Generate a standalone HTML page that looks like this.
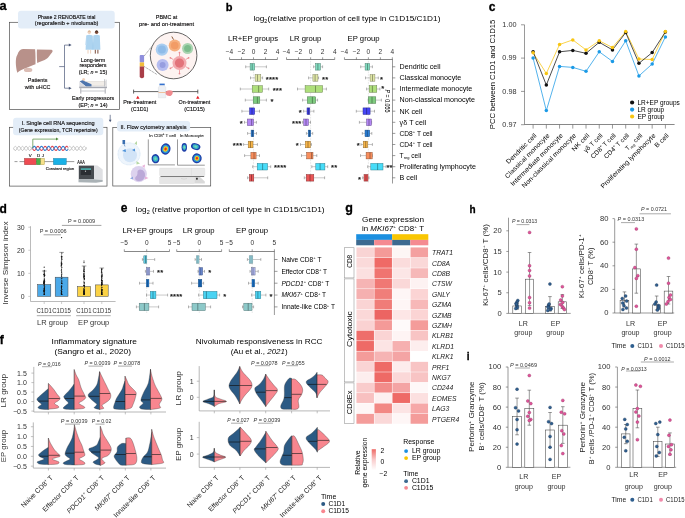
<!DOCTYPE html>
<html><head><meta charset="utf-8"><style>
html,body{margin:0;padding:0;background:#fff;}
svg{display:block;font-family:"Liberation Sans",sans-serif;will-change:transform;}
</style></head><body>
<svg width="685" height="518" viewBox="0 0 685 518">
<rect width="685" height="518" fill="#fff"/>
<text x="-0.40" y="10.30" font-size="12.8" fill="#000" font-weight="bold" stroke="#000" stroke-width="0.3">a</text>
<rect x="9.50" y="22.30" width="109.90" height="87.30" fill="none" stroke="#4d4d4d" stroke-width="0.7"/>
<rect x="18.00" y="10.80" width="96.70" height="17.80" fill="#e3edf8" rx="3"/>
<text x="66.60" y="18.84" font-size="5.4" text-anchor="middle" stroke="#231f20" stroke-width="0.14" textLength="57.80" lengthAdjust="spacingAndGlyphs">Phase 2 RENOBATE trial</text>
<text x="66.60" y="25.34" font-size="5.4" text-anchor="middle" stroke="#231f20" stroke-width="0.14" textLength="63.50" lengthAdjust="spacingAndGlyphs">(regorafenib + nivolumab)</text>
<path d="M17.3,72.7 C15.5,66 15.2,58 17.3,55 C18.5,51 20,49.2 23,48.9 L35.1,49.3 C35.6,54 35.6,60 35.5,64.3 C30,66.5 22,69 17.3,72.7 Z" fill="#b8918a"/>
<path d="M36.9,49.6 L51.5,49.8 C53,50.2 52.8,51.5 52,52.5 C50,55 48.5,57.5 47,58.5 C44,60.5 40,62 37.2,62.9 C36.8,58 36.7,53 36.9,49.6 Z" fill="#b8918a"/>
<ellipse cx="28.1" cy="69.9" rx="4.2" ry="2.2" fill="#dbbcb4"/>
<text x="37.60" y="82.04" font-size="5.4" text-anchor="middle" stroke="#231f20" stroke-width="0.14">Patients</text>
<text x="37.60" y="88.54" font-size="5.4" text-anchor="middle" stroke="#231f20" stroke-width="0.14">with uHCC</text>
<polyline points="59.20,66.60 64.50,66.60" fill="none" stroke="#4a5878" stroke-width="0.7"/>
<polyline points="69.50,45.10 64.50,45.10 64.50,88.20 69.50,88.20" fill="none" stroke="#4a5878" stroke-width="0.7"/>
<path d="M68.8,43.6 L71.6,45.1 L68.8,46.6 Z" fill="#4a5878"/>
<path d="M68.8,86.7 L71.6,88.2 L68.8,89.7 Z" fill="#4a5878"/>
<circle cx="89.30" cy="32.20" r="1.70" fill="#edd0bc"/>
<path d="M87.6,31.6 Q89.3,29.6 91,31.6 Z" fill="#c9a27a"/>
<path d="M86.2,35.4 Q89.3,34.2 92.6,35.4 L93.2,49.8 L85.6,49.8 Z" fill="#add4f0"/>
<path d="M86.2,35.6 L85.2,45 L86.4,45 Z" fill="#c6e0f4"/>
<line x1="88.00" y1="49.80" x2="88.00" y2="53.60" stroke="#edd0bc" stroke-width="1.0"/>
<line x1="90.60" y1="49.80" x2="90.60" y2="53.60" stroke="#edd0bc" stroke-width="1.0"/>
<circle cx="96.60" cy="32.20" r="1.70" fill="#7a4a38"/>
<path d="M94.9,31.6 Q96.6,29.4 98.3,31.6 Z" fill="#2a1a14"/>
<path d="M93.4,35.4 Q96.6,34.2 99.8,35.4 L100.4,49.8 L92.8,49.8 Z" fill="#add4f0"/>
<line x1="95.30" y1="49.80" x2="95.30" y2="53.60" stroke="#7a4a38" stroke-width="1.0"/>
<line x1="97.90" y1="49.80" x2="97.90" y2="53.60" stroke="#7a4a38" stroke-width="1.0"/>
<line x1="92.90" y1="36.00" x2="92.90" y2="49.50" stroke="#8fbde6" stroke-width="0.3"/>
<text x="93.00" y="61.54" font-size="5.4" text-anchor="middle" stroke="#231f20" stroke-width="0.14">Long-term</text>
<text x="93.00" y="67.44" font-size="5.4" text-anchor="middle" stroke="#231f20" stroke-width="0.14">responders</text>
<text x="93.00" y="73.50" font-size="5.4" text-anchor="middle" stroke="#231f20" stroke-width="0.14">(LR; <tspan font-style="italic">n</tspan> = 15)</text>
<rect x="86.00" y="81.20" width="19.50" height="4.60" fill="#f1ede8" stroke="#cfcac4" stroke-width="0.3"/>
<circle cx="83.60" cy="79.60" r="1.50" fill="#efd2be"/>
<path d="M79.6,81.2 L82.5,80.2 L91.5,84.2 L91.5,86.6 L86,86.6 Z" fill="#4d74ad"/>
<path d="M79.4,81.6 L86,86.8 L79.4,86.8 Z" fill="#d9dae0"/>
<line x1="104.60" y1="79.20" x2="104.60" y2="86.50" stroke="#b4b6bc" stroke-width="0.8"/>
<line x1="106.20" y1="79.60" x2="106.20" y2="86.50" stroke="#b4b6bc" stroke-width="0.6"/>
<rect x="79.20" y="86.60" width="27.80" height="1.60" fill="#a8aab2"/>
<line x1="80.80" y1="88.20" x2="80.80" y2="93.60" stroke="#a0a2aa" stroke-width="0.9"/>
<line x1="105.20" y1="88.20" x2="105.20" y2="93.60" stroke="#a0a2aa" stroke-width="0.9"/>
<line x1="80.80" y1="91.00" x2="105.20" y2="91.00" stroke="#b8bac0" stroke-width="0.8"/>
<text x="93.00" y="100.14" font-size="5.4" text-anchor="middle" stroke="#231f20" stroke-width="0.14">Early progressors</text>
<text x="93.00" y="106.50" font-size="5.4" text-anchor="middle" stroke="#231f20" stroke-width="0.14">(EP; <tspan font-style="italic">n</tspan> = 14)</text>
<text x="166.60" y="19.14" font-size="5.4" text-anchor="middle" stroke="#231f20" stroke-width="0.14">PBMC at</text>
<text x="166.60" y="25.54" font-size="5.4" text-anchor="middle" stroke="#231f20" stroke-width="0.14" textLength="55.00" lengthAdjust="spacingAndGlyphs">pre- and on-treatment</text>
<line x1="144.20" y1="56.00" x2="152.50" y2="45.50" stroke="#333" stroke-width="0.5" stroke-dasharray="1.1,0.7"/>
<line x1="144.20" y1="66.50" x2="157.00" y2="74.50" stroke="#333" stroke-width="0.5" stroke-dasharray="1.1,0.7"/>
<circle cx="173.60" cy="55.50" r="23.30" fill="#fdf3f1" stroke="#333" stroke-width="0.75"/>
<circle cx="161.90" cy="49.60" r="6.20" fill="#a9cdf0"/>
<circle cx="161.90" cy="49.60" r="4.00" fill="#8fbbe8"/>
<circle cx="174.70" cy="45.50" r="6.00" fill="#f5b07f"/>
<circle cx="174.70" cy="45.50" r="3.80" fill="#f29c66"/>
<line x1="173.50" y1="39.60" x2="171.80" y2="36.50" stroke="#8a5a3a" stroke-width="1.0"/>
<circle cx="187.60" cy="48.50" r="5.50" fill="#a8d4b0"/>
<circle cx="187.60" cy="48.50" r="3.50" fill="#7cbc8c"/>
<circle cx="162.60" cy="65.10" r="6.00" fill="#b6bdf0"/>
<circle cx="162.60" cy="65.10" r="3.00" fill="#979ee0"/>
<line x1="185.56" y1="66.60" x2="188.59" y2="68.35" stroke="#e88a90" stroke-width="0.8"/>
<circle cx="188.59" cy="68.35" r="0.90" fill="#e88a90"/>
<line x1="179.50" y1="70.10" x2="179.50" y2="73.60" stroke="#e88a90" stroke-width="0.8"/>
<circle cx="179.50" cy="73.60" r="0.90" fill="#e88a90"/>
<line x1="173.44" y1="66.60" x2="170.41" y2="68.35" stroke="#e88a90" stroke-width="0.8"/>
<circle cx="170.41" cy="68.35" r="0.90" fill="#e88a90"/>
<line x1="173.44" y1="59.60" x2="170.41" y2="57.85" stroke="#e88a90" stroke-width="0.8"/>
<circle cx="170.41" cy="57.85" r="0.90" fill="#e88a90"/>
<line x1="179.50" y1="56.10" x2="179.50" y2="52.60" stroke="#e88a90" stroke-width="0.8"/>
<circle cx="179.50" cy="52.60" r="0.90" fill="#e88a90"/>
<line x1="185.56" y1="59.60" x2="188.59" y2="57.85" stroke="#e88a90" stroke-width="0.8"/>
<circle cx="188.59" cy="57.85" r="0.90" fill="#e88a90"/>
<circle cx="179.50" cy="63.10" r="7.00" fill="#f2a9ad"/>
<circle cx="179.50" cy="63.10" r="4.60" fill="#e2737a"/>
<rect x="139.70" y="55.10" width="4.40" height="7.30" fill="#8f8fdc" rx="1"/>
<rect x="139.70" y="62.40" width="4.40" height="4.20" fill="#f1bd3c"/>
<path d="M139.7,66.6 L144.1,66.6 L144.1,77 Q141.9,79.5 139.7,77 Z" fill="#a93e48"/>
<line x1="133.60" y1="91.60" x2="197.80" y2="91.60" stroke="#333" stroke-width="0.75"/>
<line x1="133.60" y1="89.60" x2="133.60" y2="93.60" stroke="#333" stroke-width="0.75"/>
<line x1="197.80" y1="89.60" x2="197.80" y2="93.60" stroke="#333" stroke-width="0.75"/>
<path d="M136.1,98.7 L137.8,95.7 L139.5,98.7 Z" fill="#e41e26"/>
<path d="M196.1,98.7 L197.8,95.7 L199.5,98.7 Z" fill="#e41e26"/>
<rect x="159.50" y="83.60" width="5.20" height="1.80" fill="#2f6fcf"/>
<path d="M159.8,85.4 L164.4,85.4 L165.8,87.5 L165.8,97.8 L158.4,97.8 L158.4,87.5 Z" fill="#eef0f4" stroke="#c8ccd4" stroke-width="0.3"/>
<line x1="158.50" y1="92.50" x2="165.70" y2="92.50" stroke="#f0a060" stroke-width="0.6"/>
<path d="M166,91.5 Q169,89.5 172.5,91 Q173.5,94 170.5,96 Q167,96.5 165.5,94 Z" fill="#f08a8e"/>
<text x="139.70" y="104.04" font-size="5.4" text-anchor="middle" stroke="#231f20" stroke-width="0.14">Pre-treatment</text>
<text x="139.70" y="110.74" font-size="5.4" text-anchor="middle" stroke="#231f20" stroke-width="0.14">(C1D1)</text>
<text x="194.50" y="104.04" font-size="5.4" text-anchor="middle" stroke="#231f20" stroke-width="0.14">On-treatment</text>
<text x="194.50" y="110.74" font-size="5.4" text-anchor="middle" stroke="#231f20" stroke-width="0.14">(C1D15)</text>
<line x1="110.20" y1="114.80" x2="110.20" y2="120.50" stroke="#4a5878" stroke-width="0.7"/>
<path d="M108.8,119.8 L110.2,122.2 L111.6,119.8 Z" fill="#4a5878"/>
<rect x="9.50" y="127.30" width="97.50" height="58.80" fill="none" stroke="#4d4d4d" stroke-width="0.7"/>
<rect x="13.10" y="117.80" width="90.20" height="17.50" fill="#e3edf8" rx="3"/>
<text x="58.20" y="124.94" font-size="5.4" text-anchor="middle" stroke="#231f20" stroke-width="0.14" textLength="73.00" lengthAdjust="spacingAndGlyphs">I. Single cell RNA sequencing</text>
<text x="58.20" y="131.84" font-size="5.4" text-anchor="middle" stroke="#231f20" stroke-width="0.14" textLength="79.00" lengthAdjust="spacingAndGlyphs">(Gene expression, TCR repertoire)</text>
<polyline points="13.50,148.40 14.00,149.29 14.50,150.01 15.00,150.43 15.50,150.47 16.00,150.12 16.50,149.45 17.00,148.58 17.50,147.68 18.00,146.92 18.50,146.43 19.00,146.31 19.50,146.58 20.00,147.20 20.50,148.04 21.00,148.94 21.50,149.75 22.00,150.30 22.50,150.50 23.00,150.30 23.50,149.75 24.00,148.94 24.50,148.04 25.00,147.20 25.50,146.58 26.00,146.31 26.50,146.43 27.00,146.92 27.50,147.68 28.00,148.58 28.50,149.45 29.00,150.12 29.50,150.47 30.00,150.43 30.50,150.01 31.00,149.29 31.50,148.40 32.00,147.51 32.50,146.79" fill="none" stroke="#b5b5b5" stroke-width="0.9"/>
<polyline points="13.50,148.40 14.00,147.51 14.50,146.79 15.00,146.37 15.50,146.33 16.00,146.68 16.50,147.35 17.00,148.22 17.50,149.12 18.00,149.88 18.50,150.37 19.00,150.49 19.50,150.22 20.00,149.60 20.50,148.76 21.00,147.86 21.50,147.05 22.00,146.50 22.50,146.30 23.00,146.50 23.50,147.05 24.00,147.86 24.50,148.76 25.00,149.60 25.50,150.22 26.00,150.49 26.50,150.37 27.00,149.88 27.50,149.12 28.00,148.22 28.50,147.35 29.00,146.68 29.50,146.33 30.00,146.37 30.50,146.79 31.00,147.51 31.50,148.40 32.00,149.29 32.50,150.01" fill="none" stroke="#c8c8c8" stroke-width="0.9"/>
<polyline points="32.50,148.40 33.00,149.29 33.50,150.01 34.00,150.43 34.50,150.47 35.00,150.12 35.50,149.45 36.00,148.58 36.50,147.68 37.00,146.92 37.50,146.43 38.00,146.31 38.50,146.58 39.00,147.20 39.50,148.04 40.00,148.94 40.50,149.75 41.00,150.30 41.50,150.50 42.00,150.30 42.50,149.75 43.00,148.94 43.50,148.04 44.00,147.20 44.50,146.58 45.00,146.31 45.50,146.43 46.00,146.92 46.50,147.68 47.00,148.58 47.50,149.45 48.00,150.12 48.50,150.47 49.00,150.43 49.50,150.01 50.00,149.29 50.50,148.40 51.00,147.51 51.50,146.79 52.00,146.37 52.50,146.33 53.00,146.68 53.50,147.35 54.00,148.22 54.50,149.12 55.00,149.88 55.50,150.37 56.00,150.49 56.50,150.22 57.00,149.60 57.50,148.76 58.00,147.86 58.50,147.05 59.00,146.50 59.50,146.30 60.00,146.50 60.50,147.05 61.00,147.86 61.50,148.76 62.00,149.60 62.50,150.22 63.00,150.49 63.50,150.37 64.00,149.88 64.50,149.12 65.00,148.22 65.50,147.35 66.00,146.68 66.50,146.33 67.00,146.37 67.50,146.79 68.00,147.51" fill="none" stroke="#e0454f" stroke-width="1.05"/>
<polyline points="32.50,148.40 33.00,147.51 33.50,146.79 34.00,146.37 34.50,146.33 35.00,146.68 35.50,147.35 36.00,148.22 36.50,149.12 37.00,149.88 37.50,150.37 38.00,150.49 38.50,150.22 39.00,149.60 39.50,148.76 40.00,147.86 40.50,147.05 41.00,146.50 41.50,146.30 42.00,146.50 42.50,147.05 43.00,147.86 43.50,148.76 44.00,149.60 44.50,150.22 45.00,150.49 45.50,150.37 46.00,149.88 46.50,149.12 47.00,148.22 47.50,147.35 48.00,146.68 48.50,146.33 49.00,146.37 49.50,146.79 50.00,147.51 50.50,148.40 51.00,149.29 51.50,150.01 52.00,150.43 52.50,150.47 53.00,150.12 53.50,149.45 54.00,148.58 54.50,147.68 55.00,146.92 55.50,146.43 56.00,146.31 56.50,146.58 57.00,147.20 57.50,148.04 58.00,148.94 58.50,149.75 59.00,150.30 59.50,150.50 60.00,150.30 60.50,149.75 61.00,148.94 61.50,148.04 62.00,147.20 62.50,146.58 63.00,146.31 63.50,146.43 64.00,146.92 64.50,147.68 65.00,148.58 65.50,149.45 66.00,150.12 66.50,150.47 67.00,150.43 67.50,150.01 68.00,149.29" fill="none" stroke="#2f7fd0" stroke-width="1.05"/>
<polyline points="68.00,148.40 68.50,149.29 69.00,150.01 69.50,150.43 70.00,150.47 70.50,150.12 71.00,149.45 71.50,148.58 72.00,147.68 72.50,146.92 73.00,146.43 73.50,146.31 74.00,146.58 74.50,147.20 75.00,148.04 75.50,148.94 76.00,149.75 76.50,150.30 77.00,150.50 77.50,150.30 78.00,149.75 78.50,148.94 79.00,148.04 79.50,147.20 80.00,146.58 80.50,146.31 81.00,146.43 81.50,146.92 82.00,147.68 82.50,148.58 83.00,149.45 83.50,150.12 84.00,150.47 84.50,150.43 85.00,150.01 85.50,149.29 86.00,148.40 86.50,147.51" fill="none" stroke="#b5b5b5" stroke-width="0.9"/>
<polyline points="68.00,148.40 68.50,147.51 69.00,146.79 69.50,146.37 70.00,146.33 70.50,146.68 71.00,147.35 71.50,148.22 72.00,149.12 72.50,149.88 73.00,150.37 73.50,150.49 74.00,150.22 74.50,149.60 75.00,148.76 75.50,147.86 76.00,147.05 76.50,146.50 77.00,146.30 77.50,146.50 78.00,147.05 78.50,147.86 79.00,148.76 79.50,149.60 80.00,150.22 80.50,150.49 81.00,150.37 81.50,149.88 82.00,149.12 82.50,148.22 83.00,147.35 83.50,146.68 84.00,146.33 84.50,146.37 85.00,146.79 85.50,147.51 86.00,148.40 86.50,149.29" fill="none" stroke="#c8c8c8" stroke-width="0.9"/>
<polyline points="32.80,148.00 32.80,139.10 56.50,139.10" fill="none" stroke="#4f8a3a" stroke-width="0.7"/>
<path d="M56,137.6 L58.6,139.1 L56,140.6 Z" fill="#4f8a3a"/>
<line x1="14.50" y1="161.60" x2="17.50" y2="161.60" stroke="#555" stroke-width="0.6"/>
<line x1="19.50" y1="161.60" x2="74.30" y2="161.60" stroke="#555" stroke-width="0.6"/>
<rect x="24.30" y="158.30" width="12.10" height="6.50" fill="#ee4b52" stroke="#7a3030" stroke-width="0.3"/>
<rect x="36.40" y="158.30" width="4.30" height="6.50" fill="#4bb04a" stroke="#2f6a2f" stroke-width="0.3"/>
<rect x="40.70" y="158.30" width="3.90" height="6.50" fill="#f5e08a" stroke="#8a7a30" stroke-width="0.3"/>
<rect x="53.30" y="158.30" width="13.10" height="6.50" fill="#19b1e6" stroke="#1a6a8a" stroke-width="0.3"/>
<text x="30.20" y="156.88" font-size="4.4" text-anchor="middle" stroke="#231f20" stroke-width="0.14">V</text>
<text x="38.50" y="156.88" font-size="4.4" text-anchor="middle" stroke="#231f20" stroke-width="0.14">D</text>
<text x="42.80" y="156.88" font-size="4.4" text-anchor="middle" stroke="#231f20" stroke-width="0.14">J</text>
<text x="81.10" y="163.56" font-size="4.6" text-anchor="middle" stroke="#231f20" stroke-width="0.14" textLength="7.60" lengthAdjust="spacingAndGlyphs">AAA</text>
<text x="59.90" y="169.68" font-size="4.4" text-anchor="middle" stroke="#231f20" stroke-width="0.14" textLength="28.50" lengthAdjust="spacingAndGlyphs">Constant region</text>
<path d="M94,165.2 L97.5,165.6 L102.7,169.5 L102.7,180 L94,179.3 Z" fill="#dfe0e3"/>
<rect x="78.80" y="165.60" width="15.20" height="13.70" fill="#464a4f"/>
<rect x="80.80" y="168.20" width="10.20" height="1.80" fill="#4aa7a6"/>
<rect x="80.80" y="170.00" width="10.20" height="5.00" fill="#2b2e33"/>
<circle cx="85.50" cy="171.20" r="0.60" fill="#d0d0d0"/>
<path d="M78.5,179.3 L94,179.3 L102.7,180 L102.7,181.8 L96,182.8 L78.5,182.2 Z" fill="#aab2b6"/>
<rect x="112.80" y="127.60" width="97.90" height="58.40" fill="none" stroke="#4d4d4d" stroke-width="0.7"/>
<rect x="117.00" y="121.10" width="73.10" height="10.50" fill="#e3edf8" rx="3"/>
<text x="153.50" y="128.52" font-size="5.6" text-anchor="middle" stroke="#231f20" stroke-width="0.14" textLength="66.00" lengthAdjust="spacingAndGlyphs">II. Flow cytometry analysis</text>
<circle cx="129.00" cy="153.90" r="11.10" fill="#eef5fc" stroke="#b3cfec" stroke-width="0.45" stroke-dasharray="0.8,0.6"/>
<circle cx="130.00" cy="155.30" r="7.00" fill="#d2e4f7"/>
<rect x="122.50" y="140.00" width="2.60" height="4.00" fill="#3a6fb0"/>
<line x1="124.00" y1="144.00" x2="125.00" y2="146.50" stroke="#3a6fb0" stroke-width="0.6"/>
<path d="M122,151 L125.5,149 L126,152 Z" fill="#4a90d8"/>
<path d="M132,150 L135,148.5 L135,151.5 Z" fill="#4a90d8"/>
<path d="M134.5,143.5 L137,141 L137,145 Z" fill="#b6d8a6"/>
<path d="M136.5,161 L140,163.5 L136.5,164.5 Z" fill="#b6d8a6"/>
<circle cx="138.80" cy="174.10" r="8.10" fill="#dcd2ee"/>
<path d="M140,169.5 Q145.5,170 145,176 Q144,181.5 138,181 Q134,180 135.5,177 Q137.5,175.5 137.5,173.5 Q136.8,170 140,169.5 Z" fill="#bba9d8"/>
<path d="M142,166 L145,164.5 L144.5,168 Z" fill="#e8b0d8"/>
<path d="M130,178.5 L133,176.5 L133,179.5 Z" fill="#90a8e0"/>
<path d="M145,176.5 L148.5,178 L145,179.5 Z" fill="#e8b0d8"/>
<text x="162.50" y="137.08" font-size="4.4" text-anchor="middle" fill="#333" stroke="#333" stroke-width="0.14">In CD8<tspan dy="-1.67" font-size="2.73">+</tspan><tspan dy="1.67"> T cell</tspan></text>
<text x="191.70" y="137.08" font-size="4.4" text-anchor="middle" fill="#333" stroke="#333" stroke-width="0.14">In Monocyte</text>
<polyline points="148.30,139.40 148.30,164.90 174.90,164.90" fill="none" stroke="#555" stroke-width="0.6"/>
<polyline points="177.50,139.40 177.50,165.20 204.80,165.20" fill="none" stroke="#555" stroke-width="0.6"/>
<g transform="rotate(15 165.60 149.00)"><ellipse cx="165.6" cy="149" rx="4.9" ry="5.7" fill="#1f3fa8"/><ellipse cx="165.6" cy="149" rx="3.528" ry="4.104" fill="#2a9ad8"/><ellipse cx="165.6" cy="149" rx="2.352" ry="2.7359999999999998" fill="#f0d020"/><ellipse cx="165.6" cy="149" rx="1.225" ry="1.425" fill="#e83020"/></g>
<g transform="rotate(-10 155.50 158.70)"><ellipse cx="155.5" cy="158.7" rx="3.9" ry="4.6" fill="#1f3fa8"/><ellipse cx="155.5" cy="158.7" rx="2.535" ry="2.9899999999999998" fill="#3ab8c8"/><ellipse cx="155.5" cy="158.7" rx="1.17" ry="1.38" fill="#7ad8b0"/></g>
<g transform="rotate(10 196.90 158.30)"><ellipse cx="196.9" cy="158.3" rx="4.8" ry="5.0" fill="#1f3fa8"/><ellipse cx="196.9" cy="158.3" rx="3.456" ry="3.5999999999999996" fill="#2a9ad8"/><ellipse cx="196.9" cy="158.3" rx="2.304" ry="2.4" fill="#f0d020"/><ellipse cx="196.9" cy="158.3" rx="1.2" ry="1.25" fill="#e83020"/></g>
<g transform="rotate(0 184.30 147.30)"><ellipse cx="184.3" cy="147.3" rx="2.7" ry="4.4" fill="#1f3fa8"/><ellipse cx="184.3" cy="147.3" rx="1.7550000000000001" ry="2.8600000000000003" fill="#3ab8c8"/><ellipse cx="184.3" cy="147.3" rx="0.81" ry="1.32" fill="#7ad8b0"/></g>
<g transform="rotate(15 195.70 146.60)"><ellipse cx="195.7" cy="146.6" rx="4.8" ry="3.3" fill="#1f3fa8"/><ellipse cx="195.7" cy="146.6" rx="3.12" ry="2.145" fill="#3ab8c8"/><ellipse cx="195.7" cy="146.6" rx="1.44" ry="0.9899999999999999" fill="#7ad8b0"/></g>
<rect x="159.50" y="168.10" width="45.30" height="7.70" fill="#e9e9e9" stroke="#d6d6d6" stroke-width="0.3" rx="0.8"/>
<line x1="191.50" y1="168.30" x2="191.50" y2="175.60" stroke="#d0d0d0" stroke-width="0.3"/>
<line x1="160.50" y1="176.50" x2="204.20" y2="176.50" stroke="#6a6a6a" stroke-width="0.9"/>
<rect x="159.50" y="177.10" width="35.30" height="6.60" fill="#e6e6e6" stroke="#d6d6d6" stroke-width="0.3"/>
<path d="M194.8,177.1 L200,177.1 L204.8,181.5 L204.8,183.4 L200,183.4 L194.8,183.4 Z" fill="#d9d9d9"/>
<rect x="196.00" y="177.80" width="1.80" height="1.80" fill="#333"/>
<path d="M181,178.5 Q184,179.8 187,178.5" fill="none" stroke="#bbb" stroke-width="0.4"/>
<text x="225.80" y="10.50" font-size="11" fill="#000" font-weight="bold" stroke="#000" stroke-width="0.3">b</text>
<text x="253.40" y="21.00" font-size="7.9" textLength="187.00" lengthAdjust="spacingAndGlyphs">log<tspan dy="1.6" font-size="5.2">2</tspan><tspan dy="-1.6">(relative proportion of cell type in C1D15/C1D1)</tspan></text>
<text x="228.00" y="41.24" font-size="6.5" textLength="50.16" lengthAdjust="spacingAndGlyphs">LR+EP groups</text>
<text x="289.70" y="41.24" font-size="6.5" textLength="31.68" lengthAdjust="spacingAndGlyphs">LR group</text>
<text x="347.60" y="41.24" font-size="6.5" textLength="31.97" lengthAdjust="spacingAndGlyphs">EP group</text>
<line x1="229.50" y1="59.50" x2="277.40" y2="59.50" stroke="#555" stroke-width="0.7"/>
<line x1="229.55" y1="57.30" x2="229.55" y2="59.50" stroke="#555" stroke-width="0.6"/>
<text x="229.55" y="53.60" font-size="6.5" text-anchor="middle" fill="#333">−4</text>
<line x1="241.53" y1="57.30" x2="241.53" y2="59.50" stroke="#555" stroke-width="0.6"/>
<text x="241.53" y="53.60" font-size="6.5" text-anchor="middle" fill="#333">−2</text>
<line x1="253.50" y1="57.30" x2="253.50" y2="59.50" stroke="#555" stroke-width="0.6"/>
<text x="253.50" y="53.60" font-size="6.5" text-anchor="middle" fill="#333">0</text>
<line x1="265.48" y1="57.30" x2="265.48" y2="59.50" stroke="#555" stroke-width="0.6"/>
<text x="265.48" y="53.60" font-size="6.5" text-anchor="middle" fill="#333">2</text>
<line x1="277.45" y1="57.30" x2="277.45" y2="59.50" stroke="#555" stroke-width="0.6"/>
<text x="277.45" y="53.60" font-size="6.5" text-anchor="middle" fill="#333">4</text>
<line x1="253.50" y1="59.50" x2="253.50" y2="183.00" stroke="#aaa" stroke-width="0.45" stroke-dasharray="0.6,1"/>
<line x1="286.50" y1="59.50" x2="334.70" y2="59.50" stroke="#555" stroke-width="0.7"/>
<line x1="286.50" y1="57.30" x2="286.50" y2="59.50" stroke="#555" stroke-width="0.6"/>
<text x="286.50" y="53.60" font-size="6.5" text-anchor="middle" fill="#333">−4</text>
<line x1="298.55" y1="57.30" x2="298.55" y2="59.50" stroke="#555" stroke-width="0.6"/>
<text x="298.55" y="53.60" font-size="6.5" text-anchor="middle" fill="#333">−2</text>
<line x1="310.60" y1="57.30" x2="310.60" y2="59.50" stroke="#555" stroke-width="0.6"/>
<text x="310.60" y="53.60" font-size="6.5" text-anchor="middle" fill="#333">0</text>
<line x1="322.65" y1="57.30" x2="322.65" y2="59.50" stroke="#555" stroke-width="0.6"/>
<text x="322.65" y="53.60" font-size="6.5" text-anchor="middle" fill="#333">2</text>
<line x1="334.70" y1="57.30" x2="334.70" y2="59.50" stroke="#555" stroke-width="0.6"/>
<text x="334.70" y="53.60" font-size="6.5" text-anchor="middle" fill="#333">4</text>
<line x1="310.60" y1="59.50" x2="310.60" y2="183.00" stroke="#aaa" stroke-width="0.45" stroke-dasharray="0.6,1"/>
<line x1="344.50" y1="59.50" x2="392.40" y2="59.50" stroke="#555" stroke-width="0.7"/>
<line x1="344.45" y1="57.30" x2="344.45" y2="59.50" stroke="#555" stroke-width="0.6"/>
<text x="344.45" y="53.60" font-size="6.5" text-anchor="middle" fill="#333">−4</text>
<line x1="356.42" y1="57.30" x2="356.42" y2="59.50" stroke="#555" stroke-width="0.6"/>
<text x="356.42" y="53.60" font-size="6.5" text-anchor="middle" fill="#333">−2</text>
<line x1="368.40" y1="57.30" x2="368.40" y2="59.50" stroke="#555" stroke-width="0.6"/>
<text x="368.40" y="53.60" font-size="6.5" text-anchor="middle" fill="#333">0</text>
<line x1="380.38" y1="57.30" x2="380.38" y2="59.50" stroke="#555" stroke-width="0.6"/>
<text x="380.38" y="53.60" font-size="6.5" text-anchor="middle" fill="#333">2</text>
<line x1="392.35" y1="57.30" x2="392.35" y2="59.50" stroke="#555" stroke-width="0.6"/>
<text x="392.35" y="53.60" font-size="6.5" text-anchor="middle" fill="#333">4</text>
<line x1="368.40" y1="59.50" x2="368.40" y2="183.00" stroke="#aaa" stroke-width="0.45" stroke-dasharray="0.6,1"/>
<line x1="245.70" y1="66.80" x2="250.10" y2="66.80" stroke="#9a9a9a" stroke-width="0.55"/>
<line x1="254.70" y1="66.80" x2="266.40" y2="66.80" stroke="#9a9a9a" stroke-width="0.55"/>
<line x1="245.70" y1="65.40" x2="245.70" y2="68.20" stroke="#777" stroke-width="0.55"/>
<line x1="266.40" y1="65.40" x2="266.40" y2="68.20" stroke="#777" stroke-width="0.55"/>
<rect x="250.10" y="63.50" width="4.60" height="6.60" fill="#80dcc0" stroke="#467969" stroke-width="0.45"/>
<line x1="252.20" y1="63.50" x2="252.20" y2="70.10" stroke="#33584c" stroke-width="0.55"/>
<line x1="313.60" y1="66.80" x2="315.50" y2="66.80" stroke="#9a9a9a" stroke-width="0.55"/>
<line x1="320.50" y1="66.80" x2="322.60" y2="66.80" stroke="#9a9a9a" stroke-width="0.55"/>
<line x1="313.60" y1="65.40" x2="313.60" y2="68.20" stroke="#777" stroke-width="0.55"/>
<line x1="322.60" y1="65.40" x2="322.60" y2="68.20" stroke="#777" stroke-width="0.55"/>
<rect x="315.50" y="63.50" width="5.00" height="6.60" fill="#80dcc0" stroke="#467969" stroke-width="0.45"/>
<line x1="317.90" y1="63.50" x2="317.90" y2="70.10" stroke="#33584c" stroke-width="0.55"/>
<line x1="360.70" y1="66.80" x2="365.10" y2="66.80" stroke="#9a9a9a" stroke-width="0.55"/>
<line x1="369.70" y1="66.80" x2="372.40" y2="66.80" stroke="#9a9a9a" stroke-width="0.55"/>
<line x1="360.70" y1="65.40" x2="360.70" y2="68.20" stroke="#777" stroke-width="0.55"/>
<line x1="372.40" y1="65.40" x2="372.40" y2="68.20" stroke="#777" stroke-width="0.55"/>
<rect x="365.10" y="63.50" width="4.60" height="6.60" fill="#80dcc0" stroke="#467969" stroke-width="0.45"/>
<line x1="367.50" y1="63.50" x2="367.50" y2="70.10" stroke="#33584c" stroke-width="0.55"/>
<line x1="250.50" y1="77.90" x2="255.10" y2="77.90" stroke="#9a9a9a" stroke-width="0.55"/>
<line x1="260.80" y1="77.90" x2="262.60" y2="77.90" stroke="#9a9a9a" stroke-width="0.55"/>
<line x1="250.50" y1="76.50" x2="250.50" y2="79.30" stroke="#777" stroke-width="0.55"/>
<line x1="262.60" y1="76.50" x2="262.60" y2="79.30" stroke="#777" stroke-width="0.55"/>
<rect x="255.10" y="74.60" width="5.70" height="6.60" fill="#dfe6a6" stroke="#7a7e5b" stroke-width="0.45"/>
<line x1="257.50" y1="74.60" x2="257.50" y2="81.20" stroke="#595c42" stroke-width="0.55"/>
<line x1="308.60" y1="77.90" x2="312.90" y2="77.90" stroke="#9a9a9a" stroke-width="0.55"/>
<line x1="317.90" y1="77.90" x2="318.60" y2="77.90" stroke="#9a9a9a" stroke-width="0.55"/>
<line x1="308.60" y1="76.50" x2="308.60" y2="79.30" stroke="#777" stroke-width="0.55"/>
<line x1="318.60" y1="76.50" x2="318.60" y2="79.30" stroke="#777" stroke-width="0.55"/>
<rect x="312.90" y="74.60" width="5.00" height="6.60" fill="#dfe6a6" stroke="#7a7e5b" stroke-width="0.45"/>
<line x1="315.10" y1="74.60" x2="315.10" y2="81.20" stroke="#595c42" stroke-width="0.55"/>
<line x1="365.50" y1="77.90" x2="370.10" y2="77.90" stroke="#9a9a9a" stroke-width="0.55"/>
<line x1="374.90" y1="77.90" x2="378.30" y2="77.90" stroke="#9a9a9a" stroke-width="0.55"/>
<line x1="365.50" y1="76.50" x2="365.50" y2="79.30" stroke="#777" stroke-width="0.55"/>
<line x1="378.30" y1="76.50" x2="378.30" y2="79.30" stroke="#777" stroke-width="0.55"/>
<rect x="370.10" y="74.60" width="4.80" height="6.60" fill="#dfe6a6" stroke="#7a7e5b" stroke-width="0.45"/>
<line x1="372.50" y1="74.60" x2="372.50" y2="81.20" stroke="#595c42" stroke-width="0.55"/>
<line x1="240.30" y1="89.00" x2="252.20" y2="89.00" stroke="#9a9a9a" stroke-width="0.55"/>
<line x1="262.40" y1="89.00" x2="268.70" y2="89.00" stroke="#9a9a9a" stroke-width="0.55"/>
<line x1="240.30" y1="87.60" x2="240.30" y2="90.40" stroke="#777" stroke-width="0.55"/>
<line x1="268.70" y1="87.60" x2="268.70" y2="90.40" stroke="#777" stroke-width="0.55"/>
<rect x="252.20" y="85.70" width="10.20" height="6.60" fill="#aedf7b" stroke="#5f7a43" stroke-width="0.45"/>
<line x1="258.60" y1="85.70" x2="258.60" y2="92.30" stroke="#455931" stroke-width="0.55"/>
<line x1="297.50" y1="89.00" x2="305.10" y2="89.00" stroke="#9a9a9a" stroke-width="0.55"/>
<line x1="322.60" y1="89.00" x2="326.40" y2="89.00" stroke="#9a9a9a" stroke-width="0.55"/>
<line x1="297.50" y1="87.60" x2="297.50" y2="90.40" stroke="#777" stroke-width="0.55"/>
<line x1="326.40" y1="87.60" x2="326.40" y2="90.40" stroke="#777" stroke-width="0.55"/>
<rect x="305.10" y="85.70" width="17.50" height="6.60" fill="#aedf7b" stroke="#5f7a43" stroke-width="0.45"/>
<line x1="315.50" y1="85.70" x2="315.50" y2="92.30" stroke="#455931" stroke-width="0.55"/>
<line x1="366.60" y1="89.00" x2="369.20" y2="89.00" stroke="#9a9a9a" stroke-width="0.55"/>
<line x1="376.80" y1="89.00" x2="379.90" y2="89.00" stroke="#9a9a9a" stroke-width="0.55"/>
<line x1="366.60" y1="87.60" x2="366.60" y2="90.40" stroke="#777" stroke-width="0.55"/>
<line x1="379.90" y1="87.60" x2="379.90" y2="90.40" stroke="#777" stroke-width="0.55"/>
<rect x="369.20" y="85.70" width="7.60" height="6.60" fill="#aedf7b" stroke="#5f7a43" stroke-width="0.45"/>
<line x1="372.40" y1="85.70" x2="372.40" y2="92.30" stroke="#455931" stroke-width="0.55"/>
<line x1="245.30" y1="100.10" x2="253.20" y2="100.10" stroke="#9a9a9a" stroke-width="0.55"/>
<line x1="259.80" y1="100.10" x2="266.40" y2="100.10" stroke="#9a9a9a" stroke-width="0.55"/>
<line x1="245.30" y1="98.70" x2="245.30" y2="101.50" stroke="#777" stroke-width="0.55"/>
<line x1="266.40" y1="98.70" x2="266.40" y2="101.50" stroke="#777" stroke-width="0.55"/>
<rect x="253.20" y="96.80" width="6.60" height="6.60" fill="#7ecb7f" stroke="#456f45" stroke-width="0.45"/>
<line x1="257.40" y1="96.80" x2="257.40" y2="103.40" stroke="#325132" stroke-width="0.55"/>
<line x1="302.60" y1="100.10" x2="307.30" y2="100.10" stroke="#9a9a9a" stroke-width="0.55"/>
<line x1="315.70" y1="100.10" x2="317.60" y2="100.10" stroke="#9a9a9a" stroke-width="0.55"/>
<line x1="302.60" y1="98.70" x2="302.60" y2="101.50" stroke="#777" stroke-width="0.55"/>
<line x1="317.60" y1="98.70" x2="317.60" y2="101.50" stroke="#777" stroke-width="0.55"/>
<rect x="307.30" y="96.80" width="8.40" height="6.60" fill="#7ecb7f" stroke="#456f45" stroke-width="0.45"/>
<line x1="312.40" y1="96.80" x2="312.40" y2="103.40" stroke="#325132" stroke-width="0.55"/>
<line x1="368.20" y1="100.10" x2="368.30" y2="100.10" stroke="#9a9a9a" stroke-width="0.55"/>
<line x1="375.80" y1="100.10" x2="381.40" y2="100.10" stroke="#9a9a9a" stroke-width="0.55"/>
<line x1="368.20" y1="98.70" x2="368.20" y2="101.50" stroke="#777" stroke-width="0.55"/>
<line x1="381.40" y1="98.70" x2="381.40" y2="101.50" stroke="#777" stroke-width="0.55"/>
<rect x="368.30" y="96.80" width="7.50" height="6.60" fill="#7ecb7f" stroke="#456f45" stroke-width="0.45"/>
<line x1="372.00" y1="96.80" x2="372.00" y2="103.40" stroke="#325132" stroke-width="0.55"/>
<line x1="241.90" y1="111.20" x2="249.50" y2="111.20" stroke="#9a9a9a" stroke-width="0.55"/>
<line x1="254.70" y1="111.20" x2="259.50" y2="111.20" stroke="#9a9a9a" stroke-width="0.55"/>
<line x1="241.90" y1="109.80" x2="241.90" y2="112.60" stroke="#777" stroke-width="0.55"/>
<line x1="259.50" y1="109.80" x2="259.50" y2="112.60" stroke="#777" stroke-width="0.55"/>
<rect x="249.50" y="107.90" width="5.20" height="6.60" fill="#4646f5" stroke="#262686" stroke-width="0.45"/>
<line x1="252.00" y1="107.90" x2="252.00" y2="114.50" stroke="#1c1c62" stroke-width="0.55"/>
<line x1="303.60" y1="111.20" x2="307.00" y2="111.20" stroke="#9a9a9a" stroke-width="0.55"/>
<line x1="309.80" y1="111.20" x2="313.90" y2="111.20" stroke="#9a9a9a" stroke-width="0.55"/>
<line x1="303.60" y1="109.80" x2="303.60" y2="112.60" stroke="#777" stroke-width="0.55"/>
<line x1="313.90" y1="109.80" x2="313.90" y2="112.60" stroke="#777" stroke-width="0.55"/>
<rect x="307.00" y="107.90" width="2.80" height="6.60" fill="#4646f5" stroke="#262686" stroke-width="0.45"/>
<line x1="308.40" y1="107.90" x2="308.40" y2="114.50" stroke="#1c1c62" stroke-width="0.55"/>
<line x1="356.30" y1="111.20" x2="363.00" y2="111.20" stroke="#9a9a9a" stroke-width="0.55"/>
<line x1="370.10" y1="111.20" x2="374.50" y2="111.20" stroke="#9a9a9a" stroke-width="0.55"/>
<line x1="356.30" y1="109.80" x2="356.30" y2="112.60" stroke="#777" stroke-width="0.55"/>
<line x1="374.50" y1="109.80" x2="374.50" y2="112.60" stroke="#777" stroke-width="0.55"/>
<rect x="363.00" y="107.90" width="7.10" height="6.60" fill="#4646f5" stroke="#262686" stroke-width="0.45"/>
<line x1="366.60" y1="107.90" x2="366.60" y2="114.50" stroke="#1c1c62" stroke-width="0.55"/>
<line x1="244.50" y1="122.30" x2="247.30" y2="122.30" stroke="#9a9a9a" stroke-width="0.55"/>
<line x1="253.60" y1="122.30" x2="256.40" y2="122.30" stroke="#9a9a9a" stroke-width="0.55"/>
<line x1="244.50" y1="120.90" x2="244.50" y2="123.70" stroke="#777" stroke-width="0.55"/>
<line x1="256.40" y1="120.90" x2="256.40" y2="123.70" stroke="#777" stroke-width="0.55"/>
<rect x="247.30" y="119.00" width="6.30" height="6.60" fill="#b487f5" stroke="#634a86" stroke-width="0.45"/>
<line x1="251.60" y1="119.00" x2="251.60" y2="125.60" stroke="#483662" stroke-width="0.55"/>
<line x1="302.60" y1="122.30" x2="303.70" y2="122.30" stroke="#9a9a9a" stroke-width="0.55"/>
<line x1="308.50" y1="122.30" x2="310.50" y2="122.30" stroke="#9a9a9a" stroke-width="0.55"/>
<line x1="302.60" y1="120.90" x2="302.60" y2="123.70" stroke="#777" stroke-width="0.55"/>
<line x1="310.50" y1="120.90" x2="310.50" y2="123.70" stroke="#777" stroke-width="0.55"/>
<rect x="303.70" y="119.00" width="4.80" height="6.60" fill="#b487f5" stroke="#634a86" stroke-width="0.45"/>
<line x1="306.00" y1="119.00" x2="306.00" y2="125.60" stroke="#483662" stroke-width="0.55"/>
<line x1="359.40" y1="122.30" x2="366.50" y2="122.30" stroke="#9a9a9a" stroke-width="0.55"/>
<line x1="371.50" y1="122.30" x2="371.60" y2="122.30" stroke="#9a9a9a" stroke-width="0.55"/>
<line x1="359.40" y1="120.90" x2="359.40" y2="123.70" stroke="#777" stroke-width="0.55"/>
<line x1="371.60" y1="120.90" x2="371.60" y2="123.70" stroke="#777" stroke-width="0.55"/>
<rect x="366.50" y="119.00" width="5.00" height="6.60" fill="#b487f5" stroke="#634a86" stroke-width="0.45"/>
<line x1="369.00" y1="119.00" x2="369.00" y2="125.60" stroke="#483662" stroke-width="0.55"/>
<line x1="247.60" y1="133.40" x2="251.10" y2="133.40" stroke="#9a9a9a" stroke-width="0.55"/>
<line x1="253.80" y1="133.40" x2="256.50" y2="133.40" stroke="#9a9a9a" stroke-width="0.55"/>
<line x1="247.60" y1="132.00" x2="247.60" y2="134.80" stroke="#777" stroke-width="0.55"/>
<line x1="256.50" y1="132.00" x2="256.50" y2="134.80" stroke="#777" stroke-width="0.55"/>
<rect x="251.10" y="130.10" width="2.70" height="6.60" fill="#2c80d9" stroke="#184677" stroke-width="0.45"/>
<line x1="252.50" y1="130.10" x2="252.50" y2="136.70" stroke="#113356" stroke-width="0.55"/>
<line x1="306.40" y1="133.40" x2="308.20" y2="133.40" stroke="#9a9a9a" stroke-width="0.55"/>
<line x1="310.70" y1="133.40" x2="312.70" y2="133.40" stroke="#9a9a9a" stroke-width="0.55"/>
<line x1="306.40" y1="132.00" x2="306.40" y2="134.80" stroke="#777" stroke-width="0.55"/>
<line x1="312.70" y1="132.00" x2="312.70" y2="134.80" stroke="#777" stroke-width="0.55"/>
<rect x="308.20" y="130.10" width="2.50" height="6.60" fill="#2c80d9" stroke="#184677" stroke-width="0.45"/>
<line x1="309.50" y1="130.10" x2="309.50" y2="136.70" stroke="#113356" stroke-width="0.55"/>
<line x1="362.30" y1="133.40" x2="365.00" y2="133.40" stroke="#9a9a9a" stroke-width="0.55"/>
<line x1="369.70" y1="133.40" x2="371.80" y2="133.40" stroke="#9a9a9a" stroke-width="0.55"/>
<line x1="362.30" y1="132.00" x2="362.30" y2="134.80" stroke="#777" stroke-width="0.55"/>
<line x1="371.80" y1="132.00" x2="371.80" y2="134.80" stroke="#777" stroke-width="0.55"/>
<rect x="365.00" y="130.10" width="4.70" height="6.60" fill="#2c80d9" stroke="#184677" stroke-width="0.45"/>
<line x1="367.30" y1="130.10" x2="367.30" y2="136.70" stroke="#113356" stroke-width="0.55"/>
<line x1="243.60" y1="144.50" x2="248.20" y2="144.50" stroke="#9a9a9a" stroke-width="0.55"/>
<line x1="253.00" y1="144.50" x2="257.40" y2="144.50" stroke="#9a9a9a" stroke-width="0.55"/>
<line x1="243.60" y1="143.10" x2="243.60" y2="145.90" stroke="#777" stroke-width="0.55"/>
<line x1="257.40" y1="143.10" x2="257.40" y2="145.90" stroke="#777" stroke-width="0.55"/>
<rect x="248.20" y="141.20" width="4.80" height="6.60" fill="#f8b64a" stroke="#886428" stroke-width="0.45"/>
<line x1="250.50" y1="141.20" x2="250.50" y2="147.80" stroke="#63481d" stroke-width="0.55"/>
<line x1="300.50" y1="144.50" x2="305.30" y2="144.50" stroke="#9a9a9a" stroke-width="0.55"/>
<line x1="310.40" y1="144.50" x2="311.40" y2="144.50" stroke="#9a9a9a" stroke-width="0.55"/>
<line x1="300.50" y1="143.10" x2="300.50" y2="145.90" stroke="#777" stroke-width="0.55"/>
<line x1="311.40" y1="143.10" x2="311.40" y2="145.90" stroke="#777" stroke-width="0.55"/>
<rect x="305.30" y="141.20" width="5.10" height="6.60" fill="#f8b64a" stroke="#886428" stroke-width="0.45"/>
<line x1="308.00" y1="141.20" x2="308.00" y2="147.80" stroke="#63481d" stroke-width="0.55"/>
<line x1="361.00" y1="144.50" x2="363.20" y2="144.50" stroke="#9a9a9a" stroke-width="0.55"/>
<line x1="367.70" y1="144.50" x2="372.40" y2="144.50" stroke="#9a9a9a" stroke-width="0.55"/>
<line x1="361.00" y1="143.10" x2="361.00" y2="145.90" stroke="#777" stroke-width="0.55"/>
<line x1="372.40" y1="143.10" x2="372.40" y2="145.90" stroke="#777" stroke-width="0.55"/>
<rect x="363.20" y="141.20" width="4.50" height="6.60" fill="#f8b64a" stroke="#886428" stroke-width="0.45"/>
<line x1="365.70" y1="141.20" x2="365.70" y2="147.80" stroke="#63481d" stroke-width="0.55"/>
<line x1="244.60" y1="155.60" x2="250.90" y2="155.60" stroke="#9a9a9a" stroke-width="0.55"/>
<line x1="256.10" y1="155.60" x2="259.50" y2="155.60" stroke="#9a9a9a" stroke-width="0.55"/>
<line x1="244.60" y1="154.20" x2="244.60" y2="157.00" stroke="#777" stroke-width="0.55"/>
<line x1="259.50" y1="154.20" x2="259.50" y2="157.00" stroke="#777" stroke-width="0.55"/>
<rect x="250.90" y="152.30" width="5.20" height="6.60" fill="#f88e5d" stroke="#884e33" stroke-width="0.45"/>
<line x1="254.00" y1="152.30" x2="254.00" y2="158.90" stroke="#633825" stroke-width="0.55"/>
<line x1="301.50" y1="155.60" x2="306.60" y2="155.60" stroke="#9a9a9a" stroke-width="0.55"/>
<line x1="313.00" y1="155.60" x2="316.80" y2="155.60" stroke="#9a9a9a" stroke-width="0.55"/>
<line x1="301.50" y1="154.20" x2="301.50" y2="157.00" stroke="#777" stroke-width="0.55"/>
<line x1="316.80" y1="154.20" x2="316.80" y2="157.00" stroke="#777" stroke-width="0.55"/>
<rect x="306.60" y="152.30" width="6.40" height="6.60" fill="#f88e5d" stroke="#884e33" stroke-width="0.45"/>
<line x1="311.60" y1="152.30" x2="311.60" y2="158.90" stroke="#633825" stroke-width="0.55"/>
<line x1="360.50" y1="155.60" x2="366.10" y2="155.60" stroke="#9a9a9a" stroke-width="0.55"/>
<line x1="372.20" y1="155.60" x2="372.30" y2="155.60" stroke="#9a9a9a" stroke-width="0.55"/>
<line x1="360.50" y1="154.20" x2="360.50" y2="157.00" stroke="#777" stroke-width="0.55"/>
<line x1="372.30" y1="154.20" x2="372.30" y2="157.00" stroke="#777" stroke-width="0.55"/>
<rect x="366.10" y="152.30" width="6.10" height="6.60" fill="#f88e5d" stroke="#884e33" stroke-width="0.45"/>
<line x1="370.00" y1="152.30" x2="370.00" y2="158.90" stroke="#633825" stroke-width="0.55"/>
<line x1="252.70" y1="166.70" x2="257.20" y2="166.70" stroke="#9a9a9a" stroke-width="0.55"/>
<line x1="267.60" y1="166.70" x2="270.70" y2="166.70" stroke="#9a9a9a" stroke-width="0.55"/>
<line x1="252.70" y1="165.30" x2="252.70" y2="168.10" stroke="#777" stroke-width="0.55"/>
<line x1="270.70" y1="165.30" x2="270.70" y2="168.10" stroke="#777" stroke-width="0.55"/>
<rect x="257.20" y="163.40" width="10.40" height="6.60" fill="#47dcf8" stroke="#277988" stroke-width="0.45"/>
<line x1="262.60" y1="163.40" x2="262.60" y2="170.00" stroke="#1c5863" stroke-width="0.55"/>
<line x1="311.80" y1="166.70" x2="315.80" y2="166.70" stroke="#9a9a9a" stroke-width="0.55"/>
<line x1="324.90" y1="166.70" x2="327.70" y2="166.70" stroke="#9a9a9a" stroke-width="0.55"/>
<line x1="311.80" y1="165.30" x2="311.80" y2="168.10" stroke="#777" stroke-width="0.55"/>
<line x1="327.70" y1="165.30" x2="327.70" y2="168.10" stroke="#777" stroke-width="0.55"/>
<rect x="315.80" y="163.40" width="9.10" height="6.60" fill="#47dcf8" stroke="#277988" stroke-width="0.45"/>
<line x1="320.10" y1="163.40" x2="320.10" y2="170.00" stroke="#1c5863" stroke-width="0.55"/>
<line x1="367.70" y1="166.70" x2="370.80" y2="166.70" stroke="#9a9a9a" stroke-width="0.55"/>
<line x1="383.00" y1="166.70" x2="386.00" y2="166.70" stroke="#9a9a9a" stroke-width="0.55"/>
<line x1="367.70" y1="165.30" x2="367.70" y2="168.10" stroke="#777" stroke-width="0.55"/>
<line x1="386.00" y1="165.30" x2="386.00" y2="168.10" stroke="#777" stroke-width="0.55"/>
<rect x="370.80" y="163.40" width="12.20" height="6.60" fill="#47dcf8" stroke="#277988" stroke-width="0.45"/>
<line x1="377.60" y1="163.40" x2="377.60" y2="170.00" stroke="#1c5863" stroke-width="0.55"/>
<line x1="247.60" y1="177.80" x2="249.30" y2="177.80" stroke="#9a9a9a" stroke-width="0.55"/>
<line x1="253.80" y1="177.80" x2="267.70" y2="177.80" stroke="#9a9a9a" stroke-width="0.55"/>
<line x1="247.60" y1="176.40" x2="247.60" y2="179.20" stroke="#777" stroke-width="0.55"/>
<line x1="267.70" y1="176.40" x2="267.70" y2="179.20" stroke="#777" stroke-width="0.55"/>
<rect x="249.30" y="174.50" width="4.50" height="6.60" fill="#ea5556" stroke="#802e2f" stroke-width="0.45"/>
<line x1="251.50" y1="174.50" x2="251.50" y2="181.10" stroke="#5d2222" stroke-width="0.55"/>
<line x1="304.30" y1="177.80" x2="306.20" y2="177.80" stroke="#9a9a9a" stroke-width="0.55"/>
<line x1="313.80" y1="177.80" x2="324.60" y2="177.80" stroke="#9a9a9a" stroke-width="0.55"/>
<line x1="304.30" y1="176.40" x2="304.30" y2="179.20" stroke="#777" stroke-width="0.55"/>
<line x1="324.60" y1="176.40" x2="324.60" y2="179.20" stroke="#777" stroke-width="0.55"/>
<rect x="306.20" y="174.50" width="7.60" height="6.60" fill="#ea5556" stroke="#802e2f" stroke-width="0.45"/>
<line x1="310.00" y1="174.50" x2="310.00" y2="181.10" stroke="#5d2222" stroke-width="0.55"/>
<line x1="362.70" y1="177.80" x2="364.00" y2="177.80" stroke="#9a9a9a" stroke-width="0.55"/>
<line x1="368.00" y1="177.80" x2="369.00" y2="177.80" stroke="#9a9a9a" stroke-width="0.55"/>
<line x1="362.70" y1="176.40" x2="362.70" y2="179.20" stroke="#777" stroke-width="0.55"/>
<line x1="369.00" y1="176.40" x2="369.00" y2="179.20" stroke="#777" stroke-width="0.55"/>
<rect x="364.00" y="174.50" width="4.00" height="6.60" fill="#ea5556" stroke="#802e2f" stroke-width="0.45"/>
<line x1="366.00" y1="174.50" x2="366.00" y2="181.10" stroke="#5d2222" stroke-width="0.55"/>
<text x="265.80" y="81.60" font-size="7.6" fill="#1a1a1a" letter-spacing="0.2" stroke="#1a1a1a" stroke-width="0.25">****</text>
<text x="272.70" y="92.70" font-size="7.6" fill="#1a1a1a" letter-spacing="0.2" stroke="#1a1a1a" stroke-width="0.25">***</text>
<text x="270.40" y="103.80" font-size="7.6" fill="#1a1a1a" letter-spacing="0.2" stroke="#1a1a1a" stroke-width="0.25">*</text>
<text x="243.00" y="126.00" font-size="7.6" text-anchor="end" fill="#1a1a1a" letter-spacing="0.2" stroke="#1a1a1a" stroke-width="0.25">*</text>
<text x="242.30" y="148.20" font-size="7.6" text-anchor="end" fill="#1a1a1a" letter-spacing="0.2" stroke="#1a1a1a" stroke-width="0.25">***</text>
<text x="273.90" y="170.40" font-size="7.6" fill="#1a1a1a" letter-spacing="0.2" stroke="#1a1a1a" stroke-width="0.25">****</text>
<text x="322.00" y="81.60" font-size="7.6" fill="#1a1a1a" letter-spacing="0.2" stroke="#1a1a1a" stroke-width="0.25">**</text>
<text x="302.00" y="114.90" font-size="7.6" text-anchor="end" fill="#1a1a1a" letter-spacing="0.2" stroke="#1a1a1a" stroke-width="0.25">*</text>
<text x="301.50" y="126.00" font-size="7.6" text-anchor="end" fill="#1a1a1a" letter-spacing="0.2" stroke="#1a1a1a" stroke-width="0.25">***</text>
<text x="298.80" y="148.20" font-size="7.6" text-anchor="end" fill="#1a1a1a" letter-spacing="0.2" stroke="#1a1a1a" stroke-width="0.25">*</text>
<text x="331.00" y="170.40" font-size="7.6" fill="#1a1a1a" letter-spacing="0.2" stroke="#1a1a1a" stroke-width="0.25">**</text>
<text x="380.00" y="81.60" font-size="7.6" fill="#1a1a1a" letter-spacing="0.2" stroke="#1a1a1a" stroke-width="0.25">*</text>
<text x="381.20" y="91.20" font-size="7.6" fill="#1a1a1a" letter-spacing="0.2" stroke="#1a1a1a" stroke-width="0.25">*</text>
<text x="359.80" y="148.20" font-size="7.6" text-anchor="end" fill="#1a1a1a" letter-spacing="0.2" stroke="#1a1a1a" stroke-width="0.25">*</text>
<text x="386.40" y="170.40" font-size="7.6" fill="#1a1a1a" letter-spacing="0.2" stroke="#1a1a1a" stroke-width="0.25">**</text>
<text x="361.20" y="181.50" font-size="7.6" text-anchor="end" fill="#1a1a1a" letter-spacing="0.2" stroke="#1a1a1a" stroke-width="0.25">*</text>
<text x="385.00" y="89.60" font-size="6.3" textLength="22.90" lengthAdjust="spacingAndGlyphs" transform="rotate(90 385.00 89.60)"><tspan font-style="italic">P</tspan> = 0.055</text>
<line x1="392.50" y1="59.10" x2="392.50" y2="183.50" stroke="#555" stroke-width="0.6"/>
<line x1="392.50" y1="66.80" x2="395.30" y2="66.80" stroke="#555" stroke-width="0.6"/>
<text x="399.60" y="69.18" font-size="6.6" textLength="40.93" lengthAdjust="spacingAndGlyphs">Dendritic cell</text>
<line x1="392.50" y1="77.90" x2="395.30" y2="77.90" stroke="#555" stroke-width="0.6"/>
<text x="399.60" y="80.28" font-size="6.6" textLength="61.59" lengthAdjust="spacingAndGlyphs">Classical monocyte</text>
<line x1="392.50" y1="89.00" x2="395.30" y2="89.00" stroke="#555" stroke-width="0.6"/>
<text x="399.60" y="91.38" font-size="6.6" textLength="72.73" lengthAdjust="spacingAndGlyphs">Intermediate monocyte</text>
<line x1="392.50" y1="100.10" x2="395.30" y2="100.10" stroke="#555" stroke-width="0.6"/>
<text x="399.60" y="102.48" font-size="6.6" textLength="75.50" lengthAdjust="spacingAndGlyphs">Non-classical monocyte</text>
<line x1="392.50" y1="111.20" x2="395.30" y2="111.20" stroke="#555" stroke-width="0.6"/>
<text x="399.60" y="113.58" font-size="6.6" textLength="22.65" lengthAdjust="spacingAndGlyphs">NK cell</text>
<line x1="392.50" y1="122.30" x2="395.30" y2="122.30" stroke="#555" stroke-width="0.6"/>
<text x="399.60" y="124.68" font-size="6.6" textLength="26.50" lengthAdjust="spacingAndGlyphs">γδ T cell</text>
<line x1="392.50" y1="133.40" x2="395.30" y2="133.40" stroke="#555" stroke-width="0.6"/>
<line x1="392.50" y1="144.50" x2="395.30" y2="144.50" stroke="#555" stroke-width="0.6"/>
<line x1="392.50" y1="155.60" x2="395.30" y2="155.60" stroke="#555" stroke-width="0.6"/>
<line x1="392.50" y1="166.70" x2="395.30" y2="166.70" stroke="#555" stroke-width="0.6"/>
<text x="399.60" y="169.08" font-size="6.6" textLength="76.30" lengthAdjust="spacingAndGlyphs">Proliferating lymphocyte</text>
<line x1="392.50" y1="177.80" x2="395.30" y2="177.80" stroke="#555" stroke-width="0.6"/>
<text x="399.60" y="180.18" font-size="6.6" textLength="17.48" lengthAdjust="spacingAndGlyphs">B cell</text>
<text x="399.60" y="135.78" font-size="6.6">CD8<tspan dy="-2.51" font-size="4.09">+</tspan><tspan dy="2.51"> T cell</tspan></text>
<text x="399.60" y="146.88" font-size="6.6">CD4<tspan dy="-2.51" font-size="4.09">+</tspan><tspan dy="2.51"> T cell</tspan></text>
<text x="399.60" y="157.98" font-size="6.6">T<tspan dy="1.5" font-size="4">reg</tspan><tspan dy="-1.5"> cell</tspan></text>
<text x="488.80" y="10.50" font-size="12" fill="#000" font-weight="bold" stroke="#000" stroke-width="0.3">c</text>
<line x1="524.50" y1="24.80" x2="524.50" y2="124.70" stroke="#555" stroke-width="0.6"/>
<line x1="524.50" y1="124.50" x2="674.60" y2="124.50" stroke="#555" stroke-width="0.7"/>
<line x1="521.00" y1="24.80" x2="524.50" y2="24.80" stroke="#555" stroke-width="0.6"/>
<text x="516.60" y="27.18" font-size="6.6" text-anchor="end" fill="#333" textLength="14.21" lengthAdjust="spacingAndGlyphs">1.00</text>
<line x1="521.00" y1="58.10" x2="524.50" y2="58.10" stroke="#555" stroke-width="0.6"/>
<text x="516.60" y="60.48" font-size="6.6" text-anchor="end" fill="#333" textLength="14.21" lengthAdjust="spacingAndGlyphs">0.99</text>
<line x1="521.00" y1="91.40" x2="524.50" y2="91.40" stroke="#555" stroke-width="0.6"/>
<text x="516.60" y="93.78" font-size="6.6" text-anchor="end" fill="#333" textLength="14.21" lengthAdjust="spacingAndGlyphs">0.98</text>
<line x1="521.00" y1="124.70" x2="524.50" y2="124.70" stroke="#555" stroke-width="0.6"/>
<text x="516.60" y="127.08" font-size="6.6" text-anchor="end" fill="#333" textLength="14.21" lengthAdjust="spacingAndGlyphs">0.97</text>
<line x1="533.10" y1="124.70" x2="533.10" y2="128.60" stroke="#555" stroke-width="0.6"/>
<line x1="546.33" y1="124.70" x2="546.33" y2="128.60" stroke="#555" stroke-width="0.6"/>
<line x1="559.56" y1="124.70" x2="559.56" y2="128.60" stroke="#555" stroke-width="0.6"/>
<line x1="572.79" y1="124.70" x2="572.79" y2="128.60" stroke="#555" stroke-width="0.6"/>
<line x1="586.02" y1="124.70" x2="586.02" y2="128.60" stroke="#555" stroke-width="0.6"/>
<line x1="599.25" y1="124.70" x2="599.25" y2="128.60" stroke="#555" stroke-width="0.6"/>
<line x1="612.48" y1="124.70" x2="612.48" y2="128.60" stroke="#555" stroke-width="0.6"/>
<line x1="625.71" y1="124.70" x2="625.71" y2="128.60" stroke="#555" stroke-width="0.6"/>
<line x1="638.94" y1="124.70" x2="638.94" y2="128.60" stroke="#555" stroke-width="0.6"/>
<line x1="652.17" y1="124.70" x2="652.17" y2="128.60" stroke="#555" stroke-width="0.6"/>
<line x1="665.40" y1="124.70" x2="665.40" y2="128.60" stroke="#555" stroke-width="0.6"/>
<polyline points="533.10,58.10 546.33,110.60 559.56,66.40 572.79,67.40 586.02,71.30 599.25,51.80 612.48,61.40 625.71,40.80 638.94,75.90 652.17,64.00 665.40,36.90" fill="none" stroke="#1b9ae6" stroke-width="0.75"/>
<polyline points="533.10,52.80 546.33,73.40 559.56,44.50 572.79,39.90 586.02,49.90 599.25,40.80 612.48,47.50 625.71,31.60 638.94,59.00 652.17,59.50 665.40,31.40" fill="none" stroke="#f8c511" stroke-width="0.75"/>
<polyline points="533.10,51.80 546.33,85.00 559.56,51.80 572.79,50.40 586.02,53.30 599.25,42.30 612.48,49.90 625.71,32.60 638.94,63.30 652.17,52.60 665.40,31.90" fill="none" stroke="#111" stroke-width="0.75"/>
<circle cx="533.10" cy="58.10" r="1.75" fill="#1b9ae6"/>
<circle cx="546.33" cy="110.60" r="1.75" fill="#1b9ae6"/>
<circle cx="559.56" cy="66.40" r="1.75" fill="#1b9ae6"/>
<circle cx="572.79" cy="67.40" r="1.75" fill="#1b9ae6"/>
<circle cx="586.02" cy="71.30" r="1.75" fill="#1b9ae6"/>
<circle cx="599.25" cy="51.80" r="1.75" fill="#1b9ae6"/>
<circle cx="612.48" cy="61.40" r="1.75" fill="#1b9ae6"/>
<circle cx="625.71" cy="40.80" r="1.75" fill="#1b9ae6"/>
<circle cx="638.94" cy="75.90" r="1.75" fill="#1b9ae6"/>
<circle cx="652.17" cy="64.00" r="1.75" fill="#1b9ae6"/>
<circle cx="665.40" cy="36.90" r="1.75" fill="#1b9ae6"/>
<circle cx="533.10" cy="51.80" r="1.75" fill="#111"/>
<circle cx="546.33" cy="85.00" r="1.75" fill="#111"/>
<circle cx="559.56" cy="51.80" r="1.75" fill="#111"/>
<circle cx="572.79" cy="50.40" r="1.75" fill="#111"/>
<circle cx="586.02" cy="53.30" r="1.75" fill="#111"/>
<circle cx="599.25" cy="42.30" r="1.75" fill="#111"/>
<circle cx="612.48" cy="49.90" r="1.75" fill="#111"/>
<circle cx="625.71" cy="32.60" r="1.75" fill="#111"/>
<circle cx="638.94" cy="63.30" r="1.75" fill="#111"/>
<circle cx="652.17" cy="52.60" r="1.75" fill="#111"/>
<circle cx="665.40" cy="31.90" r="1.75" fill="#111"/>
<circle cx="533.10" cy="52.80" r="1.75" fill="#f8c511"/>
<circle cx="546.33" cy="73.40" r="1.75" fill="#f8c511"/>
<circle cx="559.56" cy="44.50" r="1.75" fill="#f8c511"/>
<circle cx="572.79" cy="39.90" r="1.75" fill="#f8c511"/>
<circle cx="586.02" cy="49.90" r="1.75" fill="#f8c511"/>
<circle cx="599.25" cy="40.80" r="1.75" fill="#f8c511"/>
<circle cx="612.48" cy="47.50" r="1.75" fill="#f8c511"/>
<circle cx="625.71" cy="31.60" r="1.75" fill="#f8c511"/>
<circle cx="638.94" cy="59.00" r="1.75" fill="#f8c511"/>
<circle cx="652.17" cy="59.50" r="1.75" fill="#f8c511"/>
<circle cx="665.40" cy="31.40" r="1.75" fill="#f8c511"/>
<text x="495.40" y="74.50" font-size="7.8" text-anchor="middle" textLength="109.30" lengthAdjust="spacingAndGlyphs" transform="rotate(-90 495.40 74.50)">PCC between C1D1 and C1D15</text>
<circle cx="632.10" cy="102.50" r="2.10" fill="#111"/>
<text x="637.50" y="104.84" font-size="6.5" textLength="42.34" lengthAdjust="spacingAndGlyphs">LR+EP groups</text>
<circle cx="632.10" cy="109.60" r="2.10" fill="#1b9ae6"/>
<text x="637.50" y="111.94" font-size="6.5" textLength="26.74" lengthAdjust="spacingAndGlyphs">LR group</text>
<circle cx="632.10" cy="116.50" r="2.10" fill="#f8c511"/>
<text x="637.50" y="118.84" font-size="6.5" textLength="26.99" lengthAdjust="spacingAndGlyphs">EP group</text>
<text x="536.90" y="136.00" font-size="6.5" text-anchor="end" textLength="40.07" lengthAdjust="spacingAndGlyphs" transform="rotate(-45 536.90 136.00)">Dendritic cell</text>
<text x="550.13" y="136.00" font-size="6.5" text-anchor="end" textLength="60.30" lengthAdjust="spacingAndGlyphs" transform="rotate(-45 550.13 136.00)">Classical monocyte</text>
<text x="563.36" y="136.00" font-size="6.5" text-anchor="end" textLength="71.20" lengthAdjust="spacingAndGlyphs" transform="rotate(-45 563.36 136.00)">Intermediate monocyte</text>
<text x="576.59" y="136.00" font-size="6.5" text-anchor="end" textLength="73.92" lengthAdjust="spacingAndGlyphs" transform="rotate(-45 576.59 136.00)">Non-classical monocyte</text>
<text x="589.82" y="136.00" font-size="6.5" text-anchor="end" textLength="22.17" lengthAdjust="spacingAndGlyphs" transform="rotate(-45 589.82 136.00)">NK cell</text>
<text x="655.97" y="136.00" font-size="6.5" text-anchor="end" textLength="74.70" lengthAdjust="spacingAndGlyphs" transform="rotate(-45 655.97 136.00)">Proliferating lymphocyte</text>
<text x="669.20" y="136.00" font-size="6.5" text-anchor="end" textLength="17.12" lengthAdjust="spacingAndGlyphs" transform="rotate(-45 669.20 136.00)">B cell</text>
<text x="603.05" y="136.00" font-size="6.5" text-anchor="end" transform="rotate(-45 603.05 136.00)">γδ T cell</text>
<text x="616.28" y="136.00" font-size="6.5" text-anchor="end" transform="rotate(-45 616.28 136.00)">CD8<tspan dy="-2.47" font-size="4.03">+</tspan><tspan dy="2.47"> T cell</tspan></text>
<text x="629.51" y="136.00" font-size="6.5" text-anchor="end" transform="rotate(-45 629.51 136.00)">CD4<tspan dy="-2.47" font-size="4.03">+</tspan><tspan dy="2.47"> T cell</tspan></text>
<text x="642.74" y="136.00" font-size="6.5" text-anchor="end" transform="rotate(-45 642.74 136.00)">T<tspan dy="1.4" font-size="3.8">reg</tspan><tspan dy="-1.4"> cell</tspan></text>
<text x="-0.50" y="212.60" font-size="12" fill="#000" font-weight="bold" stroke="#000" stroke-width="0.3">d</text>
<line x1="30.50" y1="226.20" x2="30.50" y2="301.50" stroke="#aaaaaa" stroke-width="0.8"/>
<line x1="30.50" y1="301.50" x2="115.60" y2="301.50" stroke="#aaaaaa" stroke-width="0.8"/>
<line x1="28.30" y1="296.40" x2="30.70" y2="296.40" stroke="#aaaaaa" stroke-width="0.6"/>
<text x="24.60" y="298.78" font-size="6.6" text-anchor="end" fill="#333" textLength="3.84" lengthAdjust="spacingAndGlyphs">0</text>
<line x1="28.30" y1="273.33" x2="30.70" y2="273.33" stroke="#aaaaaa" stroke-width="0.6"/>
<text x="24.60" y="275.71" font-size="6.6" text-anchor="end" fill="#333" textLength="7.68" lengthAdjust="spacingAndGlyphs">10</text>
<line x1="28.30" y1="250.26" x2="30.70" y2="250.26" stroke="#aaaaaa" stroke-width="0.6"/>
<text x="24.60" y="252.64" font-size="6.6" text-anchor="end" fill="#333" textLength="7.68" lengthAdjust="spacingAndGlyphs">20</text>
<line x1="28.30" y1="227.19" x2="30.70" y2="227.19" stroke="#aaaaaa" stroke-width="0.6"/>
<text x="24.60" y="229.57" font-size="6.6" text-anchor="end" fill="#333" textLength="7.68" lengthAdjust="spacingAndGlyphs">30</text>
<text x="8.20" y="263.00" font-size="7.3" text-anchor="middle" fill="#333" textLength="83.00" lengthAdjust="spacingAndGlyphs" transform="rotate(-90 8.20 263.00)">Inverse Simpson index</text>
<rect x="37.70" y="284.50" width="13.10" height="11.90" fill="#4ba9e9" stroke="#444" stroke-width="0.5"/>
<line x1="44.25" y1="284.50" x2="44.25" y2="271.00" stroke="#444" stroke-width="0.5"/>
<line x1="41.95" y1="271.00" x2="46.55" y2="271.00" stroke="#444" stroke-width="0.5"/>
<circle cx="44.29" cy="291.86" r="0.50" fill="#111"/>
<circle cx="44.34" cy="289.35" r="0.50" fill="#111"/>
<circle cx="43.86" cy="282.82" r="0.50" fill="#111"/>
<circle cx="44.55" cy="294.28" r="0.50" fill="#111"/>
<circle cx="44.01" cy="291.50" r="0.50" fill="#111"/>
<circle cx="44.22" cy="270.17" r="0.50" fill="#111"/>
<circle cx="44.23" cy="276.04" r="0.50" fill="#111"/>
<circle cx="43.94" cy="282.43" r="0.50" fill="#111"/>
<circle cx="44.58" cy="282.55" r="0.50" fill="#111"/>
<circle cx="44.47" cy="285.68" r="0.50" fill="#111"/>
<circle cx="43.86" cy="281.45" r="0.50" fill="#111"/>
<circle cx="44.33" cy="278.69" r="0.50" fill="#111"/>
<circle cx="43.83" cy="290.74" r="0.50" fill="#111"/>
<circle cx="44.23" cy="275.01" r="0.50" fill="#111"/>
<circle cx="44.59" cy="279.97" r="0.50" fill="#111"/>
<circle cx="44.63" cy="280.12" r="0.50" fill="#111"/>
<circle cx="44.52" cy="288.80" r="0.50" fill="#111"/>
<circle cx="44.64" cy="287.66" r="0.50" fill="#111"/>
<circle cx="43.89" cy="274.54" r="0.50" fill="#111"/>
<circle cx="44.00" cy="293.30" r="0.50" fill="#111"/>
<circle cx="44.19" cy="271.33" r="0.50" fill="#111"/>
<circle cx="44.07" cy="282.80" r="0.50" fill="#111"/>
<circle cx="44.15" cy="286.10" r="0.50" fill="#111"/>
<circle cx="44.33" cy="289.75" r="0.50" fill="#111"/>
<circle cx="44.61" cy="284.02" r="0.50" fill="#111"/>
<circle cx="44.64" cy="281.13" r="0.50" fill="#111"/>
<circle cx="44.69" cy="275.34" r="0.50" fill="#111"/>
<circle cx="43.95" cy="281.46" r="0.50" fill="#111"/>
<circle cx="44.67" cy="275.19" r="0.50" fill="#111"/>
<circle cx="44.31" cy="273.60" r="0.50" fill="#111"/>
<circle cx="43.99" cy="280.13" r="0.50" fill="#111"/>
<circle cx="44.32" cy="276.21" r="0.50" fill="#111"/>
<circle cx="43.86" cy="291.04" r="0.50" fill="#111"/>
<circle cx="44.69" cy="275.42" r="0.50" fill="#111"/>
<circle cx="44.52" cy="293.80" r="0.50" fill="#111"/>
<circle cx="43.94" cy="288.45" r="0.50" fill="#111"/>
<circle cx="44.49" cy="290.87" r="0.50" fill="#111"/>
<circle cx="43.84" cy="274.75" r="0.50" fill="#111"/>
<circle cx="43.84" cy="283.15" r="0.50" fill="#111"/>
<circle cx="44.10" cy="279.98" r="0.50" fill="#111"/>
<circle cx="44.68" cy="274.46" r="0.50" fill="#111"/>
<circle cx="44.70" cy="286.14" r="0.50" fill="#111"/>
<circle cx="43.87" cy="290.58" r="0.50" fill="#111"/>
<circle cx="43.83" cy="283.58" r="0.50" fill="#111"/>
<circle cx="44.17" cy="292.49" r="0.50" fill="#111"/>
<circle cx="43.94" cy="283.27" r="0.50" fill="#111"/>
<circle cx="44.58" cy="294.15" r="0.50" fill="#111"/>
<circle cx="44.66" cy="290.50" r="0.50" fill="#111"/>
<circle cx="44.14" cy="273.89" r="0.50" fill="#111"/>
<circle cx="44.27" cy="287.28" r="0.50" fill="#111"/>
<circle cx="44.34" cy="282.29" r="0.50" fill="#111"/>
<circle cx="44.36" cy="284.71" r="0.50" fill="#111"/>
<circle cx="44.26" cy="272.27" r="0.50" fill="#111"/>
<circle cx="44.45" cy="287.97" r="0.50" fill="#111"/>
<circle cx="44.07" cy="291.86" r="0.50" fill="#111"/>
<circle cx="44.27" cy="270.86" r="0.50" fill="#111"/>
<circle cx="43.81" cy="285.01" r="0.50" fill="#111"/>
<circle cx="44.32" cy="288.35" r="0.50" fill="#111"/>
<circle cx="44.35" cy="294.25" r="0.50" fill="#111"/>
<circle cx="43.85" cy="282.63" r="0.50" fill="#111"/>
<circle cx="44.22" cy="282.78" r="0.50" fill="#111"/>
<circle cx="44.12" cy="281.21" r="0.50" fill="#111"/>
<circle cx="44.46" cy="280.35" r="0.50" fill="#111"/>
<circle cx="43.85" cy="294.25" r="0.50" fill="#111"/>
<circle cx="44.67" cy="281.31" r="0.50" fill="#111"/>
<circle cx="44.21" cy="291.64" r="0.50" fill="#111"/>
<circle cx="44.09" cy="283.78" r="0.50" fill="#111"/>
<circle cx="44.08" cy="289.48" r="0.50" fill="#111"/>
<circle cx="44.34" cy="289.37" r="0.50" fill="#111"/>
<circle cx="44.14" cy="290.75" r="0.50" fill="#111"/>
<circle cx="44.25" cy="294.40" r="0.60" fill="#111"/>
<rect x="55.20" y="277.20" width="12.80" height="19.20" fill="#4ba9e9" stroke="#444" stroke-width="0.5"/>
<line x1="61.60" y1="277.20" x2="61.60" y2="252.40" stroke="#444" stroke-width="0.5"/>
<line x1="59.30" y1="252.40" x2="63.90" y2="252.40" stroke="#444" stroke-width="0.5"/>
<circle cx="61.17" cy="265.93" r="0.50" fill="#111"/>
<circle cx="61.81" cy="276.88" r="0.50" fill="#111"/>
<circle cx="61.35" cy="287.71" r="0.50" fill="#111"/>
<circle cx="61.36" cy="264.05" r="0.50" fill="#111"/>
<circle cx="61.54" cy="291.36" r="0.50" fill="#111"/>
<circle cx="61.24" cy="270.16" r="0.50" fill="#111"/>
<circle cx="61.45" cy="287.30" r="0.50" fill="#111"/>
<circle cx="61.54" cy="262.24" r="0.50" fill="#111"/>
<circle cx="61.30" cy="260.88" r="0.50" fill="#111"/>
<circle cx="61.74" cy="286.78" r="0.50" fill="#111"/>
<circle cx="61.56" cy="259.02" r="0.50" fill="#111"/>
<circle cx="61.26" cy="290.36" r="0.50" fill="#111"/>
<circle cx="61.32" cy="278.78" r="0.50" fill="#111"/>
<circle cx="61.90" cy="263.87" r="0.50" fill="#111"/>
<circle cx="61.40" cy="291.45" r="0.50" fill="#111"/>
<circle cx="61.73" cy="263.85" r="0.50" fill="#111"/>
<circle cx="61.46" cy="263.90" r="0.50" fill="#111"/>
<circle cx="61.41" cy="292.67" r="0.50" fill="#111"/>
<circle cx="61.39" cy="264.65" r="0.50" fill="#111"/>
<circle cx="61.53" cy="286.44" r="0.50" fill="#111"/>
<circle cx="61.52" cy="283.60" r="0.50" fill="#111"/>
<circle cx="61.29" cy="256.72" r="0.50" fill="#111"/>
<circle cx="62.00" cy="294.29" r="0.50" fill="#111"/>
<circle cx="62.04" cy="259.34" r="0.50" fill="#111"/>
<circle cx="62.01" cy="283.00" r="0.50" fill="#111"/>
<circle cx="61.35" cy="256.28" r="0.50" fill="#111"/>
<circle cx="61.90" cy="267.48" r="0.50" fill="#111"/>
<circle cx="61.62" cy="272.07" r="0.50" fill="#111"/>
<circle cx="61.46" cy="288.41" r="0.50" fill="#111"/>
<circle cx="61.21" cy="290.29" r="0.50" fill="#111"/>
<circle cx="61.41" cy="275.92" r="0.50" fill="#111"/>
<circle cx="61.19" cy="263.67" r="0.50" fill="#111"/>
<circle cx="61.77" cy="257.82" r="0.50" fill="#111"/>
<circle cx="61.96" cy="256.51" r="0.50" fill="#111"/>
<circle cx="61.67" cy="258.08" r="0.50" fill="#111"/>
<circle cx="61.82" cy="294.26" r="0.50" fill="#111"/>
<circle cx="61.42" cy="291.74" r="0.50" fill="#111"/>
<circle cx="61.62" cy="272.08" r="0.50" fill="#111"/>
<circle cx="62.00" cy="283.85" r="0.50" fill="#111"/>
<circle cx="61.46" cy="274.74" r="0.50" fill="#111"/>
<circle cx="61.93" cy="289.56" r="0.50" fill="#111"/>
<circle cx="61.85" cy="281.17" r="0.50" fill="#111"/>
<circle cx="61.33" cy="286.23" r="0.50" fill="#111"/>
<circle cx="61.89" cy="278.55" r="0.50" fill="#111"/>
<circle cx="61.86" cy="291.75" r="0.50" fill="#111"/>
<circle cx="61.88" cy="256.64" r="0.50" fill="#111"/>
<circle cx="61.16" cy="262.86" r="0.50" fill="#111"/>
<circle cx="61.93" cy="273.89" r="0.50" fill="#111"/>
<circle cx="61.39" cy="293.95" r="0.50" fill="#111"/>
<circle cx="61.62" cy="289.06" r="0.50" fill="#111"/>
<circle cx="61.58" cy="283.47" r="0.50" fill="#111"/>
<circle cx="61.15" cy="265.68" r="0.50" fill="#111"/>
<circle cx="61.26" cy="293.89" r="0.50" fill="#111"/>
<circle cx="61.21" cy="292.77" r="0.50" fill="#111"/>
<circle cx="61.92" cy="253.12" r="0.50" fill="#111"/>
<circle cx="61.60" cy="293.45" r="0.50" fill="#111"/>
<circle cx="61.43" cy="287.51" r="0.50" fill="#111"/>
<circle cx="61.73" cy="286.26" r="0.50" fill="#111"/>
<circle cx="61.47" cy="276.03" r="0.50" fill="#111"/>
<circle cx="61.45" cy="291.26" r="0.50" fill="#111"/>
<circle cx="61.65" cy="292.78" r="0.50" fill="#111"/>
<circle cx="61.49" cy="269.16" r="0.50" fill="#111"/>
<circle cx="61.31" cy="293.55" r="0.50" fill="#111"/>
<circle cx="61.69" cy="285.43" r="0.50" fill="#111"/>
<circle cx="61.49" cy="265.32" r="0.50" fill="#111"/>
<circle cx="61.71" cy="264.21" r="0.50" fill="#111"/>
<circle cx="61.49" cy="283.12" r="0.50" fill="#111"/>
<circle cx="61.78" cy="280.32" r="0.50" fill="#111"/>
<circle cx="61.77" cy="283.57" r="0.50" fill="#111"/>
<circle cx="61.37" cy="281.88" r="0.50" fill="#111"/>
<circle cx="61.60" cy="294.40" r="0.60" fill="#111"/>
<rect x="77.60" y="286.60" width="12.90" height="9.80" fill="#fbd245" stroke="#444" stroke-width="0.5"/>
<line x1="84.05" y1="286.60" x2="84.05" y2="266.00" stroke="#444" stroke-width="0.5"/>
<line x1="81.75" y1="266.00" x2="86.35" y2="266.00" stroke="#444" stroke-width="0.5"/>
<circle cx="84.23" cy="283.50" r="0.50" fill="#111"/>
<circle cx="83.98" cy="293.87" r="0.50" fill="#111"/>
<circle cx="84.39" cy="286.82" r="0.50" fill="#111"/>
<circle cx="83.94" cy="267.92" r="0.50" fill="#111"/>
<circle cx="84.31" cy="269.64" r="0.50" fill="#111"/>
<circle cx="84.02" cy="290.86" r="0.50" fill="#111"/>
<circle cx="84.33" cy="293.27" r="0.50" fill="#111"/>
<circle cx="84.40" cy="279.15" r="0.50" fill="#111"/>
<circle cx="84.20" cy="274.11" r="0.50" fill="#111"/>
<circle cx="84.11" cy="276.45" r="0.50" fill="#111"/>
<circle cx="84.13" cy="293.53" r="0.50" fill="#111"/>
<circle cx="83.73" cy="294.29" r="0.50" fill="#111"/>
<circle cx="83.64" cy="274.84" r="0.50" fill="#111"/>
<circle cx="83.69" cy="293.66" r="0.50" fill="#111"/>
<circle cx="83.76" cy="270.40" r="0.50" fill="#111"/>
<circle cx="84.36" cy="294.23" r="0.50" fill="#111"/>
<circle cx="84.36" cy="293.30" r="0.50" fill="#111"/>
<circle cx="84.35" cy="278.73" r="0.50" fill="#111"/>
<circle cx="84.12" cy="267.20" r="0.50" fill="#111"/>
<circle cx="83.63" cy="273.85" r="0.50" fill="#111"/>
<circle cx="84.06" cy="275.12" r="0.50" fill="#111"/>
<circle cx="83.70" cy="277.16" r="0.50" fill="#111"/>
<circle cx="84.44" cy="275.85" r="0.50" fill="#111"/>
<circle cx="83.89" cy="293.97" r="0.50" fill="#111"/>
<circle cx="84.35" cy="282.58" r="0.50" fill="#111"/>
<circle cx="83.76" cy="291.27" r="0.50" fill="#111"/>
<circle cx="84.15" cy="291.11" r="0.50" fill="#111"/>
<circle cx="83.95" cy="275.67" r="0.50" fill="#111"/>
<circle cx="83.96" cy="288.39" r="0.50" fill="#111"/>
<circle cx="83.98" cy="288.83" r="0.50" fill="#111"/>
<circle cx="84.05" cy="293.75" r="0.50" fill="#111"/>
<circle cx="83.97" cy="266.25" r="0.50" fill="#111"/>
<circle cx="83.74" cy="275.91" r="0.50" fill="#111"/>
<circle cx="84.28" cy="278.09" r="0.50" fill="#111"/>
<circle cx="84.07" cy="278.72" r="0.50" fill="#111"/>
<circle cx="84.18" cy="285.13" r="0.50" fill="#111"/>
<circle cx="83.73" cy="269.66" r="0.50" fill="#111"/>
<circle cx="84.27" cy="293.61" r="0.50" fill="#111"/>
<circle cx="84.07" cy="268.81" r="0.50" fill="#111"/>
<circle cx="84.25" cy="286.33" r="0.50" fill="#111"/>
<circle cx="83.84" cy="292.31" r="0.50" fill="#111"/>
<circle cx="84.13" cy="292.08" r="0.50" fill="#111"/>
<circle cx="83.81" cy="289.69" r="0.50" fill="#111"/>
<circle cx="84.46" cy="278.08" r="0.50" fill="#111"/>
<circle cx="84.23" cy="290.13" r="0.50" fill="#111"/>
<circle cx="84.37" cy="287.18" r="0.50" fill="#111"/>
<circle cx="83.84" cy="281.89" r="0.50" fill="#111"/>
<circle cx="83.62" cy="291.75" r="0.50" fill="#111"/>
<circle cx="83.94" cy="285.26" r="0.50" fill="#111"/>
<circle cx="83.92" cy="292.54" r="0.50" fill="#111"/>
<circle cx="84.30" cy="289.52" r="0.50" fill="#111"/>
<circle cx="84.49" cy="292.99" r="0.50" fill="#111"/>
<circle cx="84.14" cy="285.26" r="0.50" fill="#111"/>
<circle cx="84.35" cy="285.60" r="0.50" fill="#111"/>
<circle cx="84.10" cy="272.90" r="0.50" fill="#111"/>
<circle cx="84.25" cy="285.21" r="0.50" fill="#111"/>
<circle cx="83.96" cy="271.43" r="0.50" fill="#111"/>
<circle cx="84.46" cy="276.45" r="0.50" fill="#111"/>
<circle cx="83.81" cy="285.62" r="0.50" fill="#111"/>
<circle cx="84.25" cy="291.42" r="0.50" fill="#111"/>
<circle cx="84.46" cy="278.66" r="0.50" fill="#111"/>
<circle cx="83.82" cy="271.54" r="0.50" fill="#111"/>
<circle cx="83.83" cy="292.25" r="0.50" fill="#111"/>
<circle cx="84.23" cy="292.29" r="0.50" fill="#111"/>
<circle cx="84.41" cy="271.34" r="0.50" fill="#111"/>
<circle cx="84.38" cy="291.01" r="0.50" fill="#111"/>
<circle cx="83.98" cy="289.72" r="0.50" fill="#111"/>
<circle cx="83.68" cy="276.63" r="0.50" fill="#111"/>
<circle cx="84.35" cy="293.65" r="0.50" fill="#111"/>
<circle cx="83.92" cy="290.22" r="0.50" fill="#111"/>
<circle cx="84.05" cy="294.40" r="0.60" fill="#111"/>
<rect x="95.40" y="284.90" width="12.80" height="11.50" fill="#fbd245" stroke="#444" stroke-width="0.5"/>
<line x1="101.80" y1="284.90" x2="101.80" y2="268.00" stroke="#444" stroke-width="0.5"/>
<line x1="99.50" y1="268.00" x2="104.10" y2="268.00" stroke="#444" stroke-width="0.5"/>
<circle cx="101.96" cy="282.87" r="0.50" fill="#111"/>
<circle cx="101.65" cy="294.29" r="0.50" fill="#111"/>
<circle cx="101.79" cy="287.06" r="0.50" fill="#111"/>
<circle cx="101.88" cy="292.05" r="0.50" fill="#111"/>
<circle cx="101.70" cy="268.92" r="0.50" fill="#111"/>
<circle cx="101.46" cy="283.98" r="0.50" fill="#111"/>
<circle cx="101.95" cy="290.84" r="0.50" fill="#111"/>
<circle cx="102.15" cy="293.47" r="0.50" fill="#111"/>
<circle cx="101.44" cy="270.87" r="0.50" fill="#111"/>
<circle cx="101.69" cy="269.52" r="0.50" fill="#111"/>
<circle cx="102.03" cy="276.24" r="0.50" fill="#111"/>
<circle cx="101.96" cy="290.42" r="0.50" fill="#111"/>
<circle cx="102.08" cy="280.46" r="0.50" fill="#111"/>
<circle cx="102.03" cy="291.03" r="0.50" fill="#111"/>
<circle cx="101.96" cy="268.67" r="0.50" fill="#111"/>
<circle cx="101.45" cy="284.23" r="0.50" fill="#111"/>
<circle cx="101.67" cy="285.47" r="0.50" fill="#111"/>
<circle cx="101.96" cy="278.23" r="0.50" fill="#111"/>
<circle cx="101.51" cy="283.31" r="0.50" fill="#111"/>
<circle cx="101.92" cy="280.74" r="0.50" fill="#111"/>
<circle cx="102.15" cy="292.56" r="0.50" fill="#111"/>
<circle cx="101.46" cy="280.42" r="0.50" fill="#111"/>
<circle cx="101.48" cy="269.92" r="0.50" fill="#111"/>
<circle cx="102.00" cy="289.63" r="0.50" fill="#111"/>
<circle cx="101.85" cy="282.33" r="0.50" fill="#111"/>
<circle cx="101.76" cy="280.68" r="0.50" fill="#111"/>
<circle cx="101.51" cy="290.06" r="0.50" fill="#111"/>
<circle cx="101.99" cy="293.92" r="0.50" fill="#111"/>
<circle cx="101.84" cy="276.91" r="0.50" fill="#111"/>
<circle cx="101.67" cy="277.45" r="0.50" fill="#111"/>
<circle cx="101.70" cy="291.02" r="0.50" fill="#111"/>
<circle cx="101.39" cy="272.35" r="0.50" fill="#111"/>
<circle cx="101.57" cy="285.16" r="0.50" fill="#111"/>
<circle cx="101.67" cy="276.37" r="0.50" fill="#111"/>
<circle cx="101.71" cy="289.60" r="0.50" fill="#111"/>
<circle cx="102.04" cy="284.07" r="0.50" fill="#111"/>
<circle cx="102.11" cy="289.14" r="0.50" fill="#111"/>
<circle cx="101.59" cy="293.48" r="0.50" fill="#111"/>
<circle cx="101.45" cy="293.62" r="0.50" fill="#111"/>
<circle cx="102.00" cy="275.99" r="0.50" fill="#111"/>
<circle cx="101.52" cy="292.47" r="0.50" fill="#111"/>
<circle cx="102.02" cy="287.57" r="0.50" fill="#111"/>
<circle cx="102.02" cy="274.59" r="0.50" fill="#111"/>
<circle cx="101.48" cy="282.50" r="0.50" fill="#111"/>
<circle cx="101.52" cy="288.04" r="0.50" fill="#111"/>
<circle cx="101.86" cy="284.49" r="0.50" fill="#111"/>
<circle cx="101.58" cy="292.19" r="0.50" fill="#111"/>
<circle cx="101.38" cy="275.89" r="0.50" fill="#111"/>
<circle cx="102.15" cy="275.08" r="0.50" fill="#111"/>
<circle cx="101.69" cy="269.18" r="0.50" fill="#111"/>
<circle cx="101.87" cy="283.73" r="0.50" fill="#111"/>
<circle cx="102.23" cy="281.14" r="0.50" fill="#111"/>
<circle cx="101.62" cy="279.34" r="0.50" fill="#111"/>
<circle cx="101.79" cy="272.85" r="0.50" fill="#111"/>
<circle cx="102.00" cy="282.20" r="0.50" fill="#111"/>
<circle cx="102.04" cy="294.30" r="0.50" fill="#111"/>
<circle cx="101.79" cy="280.19" r="0.50" fill="#111"/>
<circle cx="101.76" cy="284.60" r="0.50" fill="#111"/>
<circle cx="101.83" cy="292.33" r="0.50" fill="#111"/>
<circle cx="101.80" cy="294.16" r="0.50" fill="#111"/>
<circle cx="101.75" cy="280.73" r="0.50" fill="#111"/>
<circle cx="102.21" cy="283.32" r="0.50" fill="#111"/>
<circle cx="101.47" cy="271.56" r="0.50" fill="#111"/>
<circle cx="101.91" cy="275.49" r="0.50" fill="#111"/>
<circle cx="101.67" cy="294.07" r="0.50" fill="#111"/>
<circle cx="101.42" cy="291.64" r="0.50" fill="#111"/>
<circle cx="102.19" cy="284.15" r="0.50" fill="#111"/>
<circle cx="102.13" cy="289.82" r="0.50" fill="#111"/>
<circle cx="101.47" cy="279.06" r="0.50" fill="#111"/>
<circle cx="101.89" cy="272.92" r="0.50" fill="#111"/>
<circle cx="101.80" cy="294.40" r="0.60" fill="#111"/>
<circle cx="44.20" cy="267.20" r="0.60" fill="#111"/>
<circle cx="61.60" cy="237.60" r="0.60" fill="#111"/>
<circle cx="84.00" cy="261.00" r="0.60" fill="#111"/>
<circle cx="84.00" cy="262.60" r="0.60" fill="#111"/>
<line x1="44.20" y1="301.50" x2="44.20" y2="304.00" stroke="#aaaaaa" stroke-width="0.6"/>
<line x1="61.60" y1="301.50" x2="61.60" y2="304.00" stroke="#aaaaaa" stroke-width="0.6"/>
<line x1="84.00" y1="301.50" x2="84.00" y2="304.00" stroke="#aaaaaa" stroke-width="0.6"/>
<line x1="101.80" y1="301.50" x2="101.80" y2="304.00" stroke="#aaaaaa" stroke-width="0.6"/>
<text x="44.20" y="313.18" font-size="6.6" text-anchor="middle" fill="#333" textLength="15.34" lengthAdjust="spacingAndGlyphs">C1D1</text>
<text x="61.60" y="313.18" font-size="6.6" text-anchor="middle" fill="#333" textLength="18.68" lengthAdjust="spacingAndGlyphs">C1D15</text>
<text x="84.00" y="313.18" font-size="6.6" text-anchor="middle" fill="#333" textLength="15.34" lengthAdjust="spacingAndGlyphs">C1D1</text>
<text x="101.80" y="313.18" font-size="6.6" text-anchor="middle" fill="#333" textLength="18.68" lengthAdjust="spacingAndGlyphs">C1D15</text>
<line x1="36.80" y1="315.70" x2="70.90" y2="315.70" stroke="#555" stroke-width="0.5"/>
<line x1="76.20" y1="315.70" x2="110.70" y2="315.70" stroke="#555" stroke-width="0.5"/>
<text x="52.50" y="324.65" font-size="6.8" text-anchor="middle" fill="#333" textLength="30.85" lengthAdjust="spacingAndGlyphs">LR group</text>
<text x="93.70" y="324.65" font-size="6.8" text-anchor="middle" fill="#333" textLength="31.14" lengthAdjust="spacingAndGlyphs">EP group</text>
<text x="53.20" y="233.40" font-size="5.1" text-anchor="middle" fill="#333" textLength="27.00" lengthAdjust="spacingAndGlyphs"><tspan>P</tspan> = 0.0006</text>
<line x1="43.60" y1="234.80" x2="60.90" y2="234.80" stroke="#444" stroke-width="0.5"/>
<text x="81.60" y="223.40" font-size="5.1" text-anchor="middle" fill="#333" textLength="27.00" lengthAdjust="spacingAndGlyphs"><tspan>P</tspan> = 0.0009</text>
<line x1="61.90" y1="225.40" x2="101.40" y2="225.40" stroke="#444" stroke-width="0.5"/>
<text x="120.80" y="211.50" font-size="12" fill="#000" font-weight="bold" stroke="#000" stroke-width="0.3">e</text>
<text x="135.70" y="212.00" font-size="7.9" textLength="188.80" lengthAdjust="spacingAndGlyphs">log<tspan dy="1.6" font-size="5.2">2</tspan><tspan dy="-1.6"> (relative proportion of cell type in C1D15/C1D1)</tspan></text>
<text x="122.40" y="233.14" font-size="6.5" textLength="50.16" lengthAdjust="spacingAndGlyphs">LR+EP groups</text>
<text x="182.80" y="233.14" font-size="6.5" textLength="31.68" lengthAdjust="spacingAndGlyphs">LR group</text>
<text x="236.00" y="233.14" font-size="6.5" textLength="31.97" lengthAdjust="spacingAndGlyphs">EP group</text>
<line x1="124.30" y1="251.50" x2="169.50" y2="251.50" stroke="#555" stroke-width="0.7"/>
<line x1="124.30" y1="249.30" x2="124.30" y2="251.50" stroke="#555" stroke-width="0.6"/>
<text x="124.30" y="244.90" font-size="6.5" text-anchor="middle" fill="#333">−5</text>
<line x1="146.70" y1="249.30" x2="146.70" y2="251.50" stroke="#555" stroke-width="0.6"/>
<text x="146.70" y="244.90" font-size="6.5" text-anchor="middle" fill="#333">0</text>
<line x1="169.50" y1="249.30" x2="169.50" y2="251.50" stroke="#555" stroke-width="0.6"/>
<text x="169.50" y="244.90" font-size="6.5" text-anchor="middle" fill="#333">5</text>
<line x1="146.70" y1="251.60" x2="146.70" y2="314.00" stroke="#aaa" stroke-width="0.45" stroke-dasharray="0.6,1"/>
<line x1="176.70" y1="251.50" x2="221.60" y2="251.50" stroke="#555" stroke-width="0.7"/>
<line x1="176.70" y1="249.30" x2="176.70" y2="251.50" stroke="#555" stroke-width="0.6"/>
<text x="176.70" y="244.90" font-size="6.5" text-anchor="middle" fill="#333">−5</text>
<line x1="199.30" y1="249.30" x2="199.30" y2="251.50" stroke="#555" stroke-width="0.6"/>
<text x="199.30" y="244.90" font-size="6.5" text-anchor="middle" fill="#333">0</text>
<line x1="221.60" y1="249.30" x2="221.60" y2="251.50" stroke="#555" stroke-width="0.6"/>
<text x="221.60" y="244.90" font-size="6.5" text-anchor="middle" fill="#333">5</text>
<line x1="199.30" y1="251.60" x2="199.30" y2="314.00" stroke="#aaa" stroke-width="0.45" stroke-dasharray="0.6,1"/>
<line x1="229.30" y1="251.50" x2="274.40" y2="251.50" stroke="#555" stroke-width="0.7"/>
<line x1="229.30" y1="249.30" x2="229.30" y2="251.50" stroke="#555" stroke-width="0.6"/>
<text x="229.30" y="244.90" font-size="6.5" text-anchor="middle" fill="#333">−5</text>
<line x1="252.20" y1="249.30" x2="252.20" y2="251.50" stroke="#555" stroke-width="0.6"/>
<text x="252.20" y="244.90" font-size="6.5" text-anchor="middle" fill="#333">0</text>
<line x1="274.40" y1="249.30" x2="274.40" y2="251.50" stroke="#555" stroke-width="0.6"/>
<text x="274.40" y="244.90" font-size="6.5" text-anchor="middle" fill="#333">5</text>
<line x1="252.20" y1="251.60" x2="252.20" y2="314.00" stroke="#aaa" stroke-width="0.45" stroke-dasharray="0.6,1"/>
<line x1="142.40" y1="259.50" x2="143.80" y2="259.50" stroke="#9a9a9a" stroke-width="0.55"/>
<line x1="146.80" y1="259.50" x2="154.70" y2="259.50" stroke="#9a9a9a" stroke-width="0.55"/>
<line x1="142.40" y1="258.10" x2="142.40" y2="260.90" stroke="#777" stroke-width="0.55"/>
<line x1="154.70" y1="258.10" x2="154.70" y2="260.90" stroke="#777" stroke-width="0.55"/>
<rect x="143.80" y="255.80" width="3.00" height="7.40" fill="#62d1e7" stroke="#35727f" stroke-width="0.45"/>
<line x1="145.50" y1="255.80" x2="145.50" y2="263.20" stroke="#27535c" stroke-width="0.55"/>
<line x1="195.10" y1="259.50" x2="196.30" y2="259.50" stroke="#9a9a9a" stroke-width="0.55"/>
<line x1="199.00" y1="259.50" x2="201.50" y2="259.50" stroke="#9a9a9a" stroke-width="0.55"/>
<line x1="195.10" y1="258.10" x2="195.10" y2="260.90" stroke="#777" stroke-width="0.55"/>
<line x1="201.50" y1="258.10" x2="201.50" y2="260.90" stroke="#777" stroke-width="0.55"/>
<rect x="196.30" y="255.80" width="2.70" height="7.40" fill="#a7ebf8" stroke="#5b8188" stroke-width="0.45"/>
<line x1="197.80" y1="255.80" x2="197.80" y2="263.20" stroke="#425e63" stroke-width="0.55"/>
<line x1="247.40" y1="259.50" x2="249.20" y2="259.50" stroke="#9a9a9a" stroke-width="0.55"/>
<line x1="252.80" y1="259.50" x2="260.80" y2="259.50" stroke="#9a9a9a" stroke-width="0.55"/>
<line x1="247.40" y1="258.10" x2="247.40" y2="260.90" stroke="#777" stroke-width="0.55"/>
<line x1="260.80" y1="258.10" x2="260.80" y2="260.90" stroke="#777" stroke-width="0.55"/>
<rect x="249.20" y="255.80" width="3.60" height="7.40" fill="#a2e0ec" stroke="#597b81" stroke-width="0.45"/>
<line x1="251.00" y1="255.80" x2="251.00" y2="263.20" stroke="#40595e" stroke-width="0.55"/>
<line x1="145.40" y1="271.35" x2="146.30" y2="271.35" stroke="#9a9a9a" stroke-width="0.55"/>
<line x1="149.80" y1="271.35" x2="153.50" y2="271.35" stroke="#9a9a9a" stroke-width="0.55"/>
<line x1="145.40" y1="269.95" x2="145.40" y2="272.75" stroke="#777" stroke-width="0.55"/>
<line x1="153.50" y1="269.95" x2="153.50" y2="272.75" stroke="#777" stroke-width="0.55"/>
<rect x="146.30" y="267.65" width="3.50" height="7.40" fill="#a9b5f1" stroke="#5c6384" stroke-width="0.45"/>
<line x1="148.00" y1="267.65" x2="148.00" y2="275.05" stroke="#434860" stroke-width="0.55"/>
<line x1="198.00" y1="271.35" x2="199.00" y2="271.35" stroke="#9a9a9a" stroke-width="0.55"/>
<line x1="202.70" y1="271.35" x2="204.50" y2="271.35" stroke="#9a9a9a" stroke-width="0.55"/>
<line x1="198.00" y1="269.95" x2="198.00" y2="272.75" stroke="#777" stroke-width="0.55"/>
<line x1="204.50" y1="269.95" x2="204.50" y2="272.75" stroke="#777" stroke-width="0.55"/>
<rect x="199.00" y="267.65" width="3.70" height="7.40" fill="#7292e1" stroke="#3e507b" stroke-width="0.45"/>
<line x1="200.80" y1="267.65" x2="200.80" y2="275.05" stroke="#2d3a5a" stroke-width="0.55"/>
<line x1="250.00" y1="271.35" x2="251.30" y2="271.35" stroke="#9a9a9a" stroke-width="0.55"/>
<line x1="255.10" y1="271.35" x2="258.20" y2="271.35" stroke="#9a9a9a" stroke-width="0.55"/>
<line x1="250.00" y1="269.95" x2="250.00" y2="272.75" stroke="#777" stroke-width="0.55"/>
<line x1="258.20" y1="269.95" x2="258.20" y2="272.75" stroke="#777" stroke-width="0.55"/>
<rect x="251.30" y="267.65" width="3.80" height="7.40" fill="#b1b9f1" stroke="#616584" stroke-width="0.45"/>
<line x1="253.00" y1="267.65" x2="253.00" y2="275.05" stroke="#464a60" stroke-width="0.55"/>
<line x1="139.50" y1="283.20" x2="146.30" y2="283.20" stroke="#9a9a9a" stroke-width="0.55"/>
<line x1="148.90" y1="283.20" x2="153.00" y2="283.20" stroke="#9a9a9a" stroke-width="0.55"/>
<line x1="139.50" y1="281.80" x2="139.50" y2="284.60" stroke="#777" stroke-width="0.55"/>
<line x1="153.00" y1="281.80" x2="153.00" y2="284.60" stroke="#777" stroke-width="0.55"/>
<rect x="146.30" y="279.50" width="2.60" height="7.40" fill="#1f80e0" stroke="#11467b" stroke-width="0.45"/>
<line x1="147.60" y1="279.50" x2="147.60" y2="286.90" stroke="#0c3359" stroke-width="0.55"/>
<line x1="191.60" y1="283.20" x2="198.30" y2="283.20" stroke="#9a9a9a" stroke-width="0.55"/>
<line x1="201.80" y1="283.20" x2="203.60" y2="283.20" stroke="#9a9a9a" stroke-width="0.55"/>
<line x1="191.60" y1="281.80" x2="191.60" y2="284.60" stroke="#777" stroke-width="0.55"/>
<line x1="203.60" y1="281.80" x2="203.60" y2="284.60" stroke="#777" stroke-width="0.55"/>
<rect x="198.30" y="279.50" width="3.50" height="7.40" fill="#1a70c8" stroke="#0e3d6e" stroke-width="0.45"/>
<line x1="200.00" y1="279.50" x2="200.00" y2="286.90" stroke="#0a2c50" stroke-width="0.55"/>
<line x1="248.50" y1="283.20" x2="252.00" y2="283.20" stroke="#9a9a9a" stroke-width="0.55"/>
<line x1="254.70" y1="283.20" x2="258.20" y2="283.20" stroke="#9a9a9a" stroke-width="0.55"/>
<line x1="248.50" y1="281.80" x2="248.50" y2="284.60" stroke="#777" stroke-width="0.55"/>
<line x1="258.20" y1="281.80" x2="258.20" y2="284.60" stroke="#777" stroke-width="0.55"/>
<rect x="252.00" y="279.50" width="2.70" height="7.40" fill="#1f80e0" stroke="#11467b" stroke-width="0.45"/>
<line x1="253.30" y1="279.50" x2="253.30" y2="286.90" stroke="#0c3359" stroke-width="0.55"/>
<line x1="146.50" y1="295.05" x2="150.30" y2="295.05" stroke="#9a9a9a" stroke-width="0.55"/>
<line x1="155.90" y1="295.05" x2="167.60" y2="295.05" stroke="#9a9a9a" stroke-width="0.55"/>
<line x1="146.50" y1="293.65" x2="146.50" y2="296.45" stroke="#777" stroke-width="0.55"/>
<line x1="167.60" y1="293.65" x2="167.60" y2="296.45" stroke="#777" stroke-width="0.55"/>
<rect x="150.30" y="291.35" width="5.60" height="7.40" fill="#49d3f3" stroke="#287485" stroke-width="0.45"/>
<line x1="153.00" y1="291.35" x2="153.00" y2="298.75" stroke="#1d5461" stroke-width="0.55"/>
<line x1="198.60" y1="295.05" x2="203.30" y2="295.05" stroke="#9a9a9a" stroke-width="0.55"/>
<line x1="217.00" y1="295.05" x2="219.60" y2="295.05" stroke="#9a9a9a" stroke-width="0.55"/>
<line x1="198.60" y1="293.65" x2="198.60" y2="296.45" stroke="#777" stroke-width="0.55"/>
<line x1="219.60" y1="293.65" x2="219.60" y2="296.45" stroke="#777" stroke-width="0.55"/>
<rect x="203.30" y="291.35" width="13.70" height="7.40" fill="#49d3f3" stroke="#287485" stroke-width="0.45"/>
<line x1="206.40" y1="291.35" x2="206.40" y2="298.75" stroke="#1d5461" stroke-width="0.55"/>
<line x1="251.60" y1="295.05" x2="255.40" y2="295.05" stroke="#9a9a9a" stroke-width="0.55"/>
<line x1="260.80" y1="295.05" x2="265.90" y2="295.05" stroke="#9a9a9a" stroke-width="0.55"/>
<line x1="251.60" y1="293.65" x2="251.60" y2="296.45" stroke="#777" stroke-width="0.55"/>
<line x1="265.90" y1="293.65" x2="265.90" y2="296.45" stroke="#777" stroke-width="0.55"/>
<rect x="255.40" y="291.35" width="5.40" height="7.40" fill="#49d3f3" stroke="#287485" stroke-width="0.45"/>
<line x1="257.90" y1="291.35" x2="257.90" y2="298.75" stroke="#1d5461" stroke-width="0.55"/>
<line x1="136.40" y1="306.90" x2="139.20" y2="306.90" stroke="#9a9a9a" stroke-width="0.55"/>
<line x1="148.90" y1="306.90" x2="158.60" y2="306.90" stroke="#9a9a9a" stroke-width="0.55"/>
<line x1="136.40" y1="305.50" x2="136.40" y2="308.30" stroke="#777" stroke-width="0.55"/>
<line x1="158.60" y1="305.50" x2="158.60" y2="308.30" stroke="#777" stroke-width="0.55"/>
<rect x="139.20" y="303.20" width="9.70" height="7.40" fill="#8dc9c9" stroke="#4d6e6e" stroke-width="0.45"/>
<line x1="144.40" y1="303.20" x2="144.40" y2="310.60" stroke="#385050" stroke-width="0.55"/>
<line x1="188.50" y1="306.90" x2="192.00" y2="306.90" stroke="#9a9a9a" stroke-width="0.55"/>
<line x1="205.30" y1="306.90" x2="210.60" y2="306.90" stroke="#9a9a9a" stroke-width="0.55"/>
<line x1="188.50" y1="305.50" x2="188.50" y2="308.30" stroke="#777" stroke-width="0.55"/>
<line x1="210.60" y1="305.50" x2="210.60" y2="308.30" stroke="#777" stroke-width="0.55"/>
<rect x="192.00" y="303.20" width="13.30" height="7.40" fill="#8dc9c9" stroke="#4d6e6e" stroke-width="0.45"/>
<line x1="197.80" y1="303.20" x2="197.80" y2="310.60" stroke="#385050" stroke-width="0.55"/>
<line x1="242.50" y1="306.90" x2="243.80" y2="306.90" stroke="#9a9a9a" stroke-width="0.55"/>
<line x1="252.00" y1="306.90" x2="253.60" y2="306.90" stroke="#9a9a9a" stroke-width="0.55"/>
<line x1="242.50" y1="305.50" x2="242.50" y2="308.30" stroke="#777" stroke-width="0.55"/>
<line x1="253.60" y1="305.50" x2="253.60" y2="308.30" stroke="#777" stroke-width="0.55"/>
<rect x="243.80" y="303.20" width="8.20" height="7.40" fill="#8dc9c9" stroke="#4d6e6e" stroke-width="0.45"/>
<line x1="248.20" y1="303.20" x2="248.20" y2="310.60" stroke="#385050" stroke-width="0.55"/>
<text x="157.00" y="275.05" font-size="7.6" fill="#1a1a1a" letter-spacing="0.2" stroke="#1a1a1a" stroke-width="0.25">**</text>
<text x="169.90" y="298.75" font-size="7.6" fill="#1a1a1a" letter-spacing="0.2" stroke="#1a1a1a" stroke-width="0.25">****</text>
<text x="208.20" y="275.05" font-size="7.6" fill="#1a1a1a" letter-spacing="0.2" stroke="#1a1a1a" stroke-width="0.25">*</text>
<text x="223.20" y="298.75" font-size="7.6" fill="#1a1a1a" letter-spacing="0.2" stroke="#1a1a1a" stroke-width="0.25">*</text>
<text x="269.60" y="298.75" font-size="7.6" fill="#1a1a1a" letter-spacing="0.2" stroke="#1a1a1a" stroke-width="0.25">*</text>
<line x1="274.40" y1="251.20" x2="274.40" y2="315.00" stroke="#555" stroke-width="0.6"/>
<line x1="274.40" y1="259.50" x2="277.50" y2="259.50" stroke="#555" stroke-width="0.6"/>
<line x1="274.40" y1="271.35" x2="277.50" y2="271.35" stroke="#555" stroke-width="0.6"/>
<line x1="274.40" y1="283.20" x2="277.50" y2="283.20" stroke="#555" stroke-width="0.6"/>
<line x1="274.40" y1="295.05" x2="277.50" y2="295.05" stroke="#555" stroke-width="0.6"/>
<line x1="274.40" y1="306.90" x2="277.50" y2="306.90" stroke="#555" stroke-width="0.6"/>
<text x="281.40" y="261.88" font-size="6.6">Naive CD8<tspan dy="-2.51" font-size="4.09">+</tspan><tspan dy="2.51"> T</tspan></text>
<text x="281.40" y="273.73" font-size="6.6">Effector CD8<tspan dy="-2.51" font-size="4.09">+</tspan><tspan dy="2.51"> T</tspan></text>
<text x="281.40" y="285.58" font-size="6.6"><tspan font-style="italic">PDCD1</tspan><tspan dy="-2.51" font-size="4.09">+</tspan><tspan dy="2.51"> CD8</tspan><tspan dy="-2.51" font-size="4.09">+</tspan><tspan dy="2.51"> T</tspan></text>
<text x="281.40" y="297.43" font-size="6.6"><tspan font-style="italic">MKI67</tspan><tspan dy="-2.51" font-size="4.09">+</tspan><tspan dy="2.51"> CD8</tspan><tspan dy="-2.51" font-size="4.09">+</tspan><tspan dy="2.51"> T</tspan></text>
<text x="281.40" y="309.28" font-size="6.6">Innate-like CD8<tspan dy="-2.51" font-size="4.09">+</tspan><tspan dy="2.51"> T</tspan></text>
<text x="-0.30" y="344.00" font-size="12" fill="#000" font-weight="bold" stroke="#000" stroke-width="0.3">f</text>
<text x="94.30" y="344.02" font-size="7.0" text-anchor="middle" textLength="85.44" lengthAdjust="spacingAndGlyphs">Inflammatory signature</text>
<text x="92.70" y="353.52" font-size="7.0" text-anchor="middle" textLength="76.58" lengthAdjust="spacingAndGlyphs">(Sangro et al., 2020)</text>
<text x="259.20" y="344.02" font-size="7.0" text-anchor="middle" textLength="126.70" lengthAdjust="spacingAndGlyphs">Nivolumab responsiveness in RCC</text>
<text x="259.20" y="353.50" font-size="7.0" text-anchor="middle" textLength="57.00" lengthAdjust="spacingAndGlyphs">(Au et al., <tspan font-style="italic">2021</tspan>)</text>
<line x1="33.80" y1="366.90" x2="33.80" y2="412.00" stroke="#999999" stroke-width="0.7"/>
<line x1="33.80" y1="412.00" x2="166.00" y2="412.00" stroke="#999999" stroke-width="0.7"/>
<line x1="31.40" y1="373.10" x2="33.80" y2="373.10" stroke="#999999" stroke-width="0.6"/>
<text x="26.80" y="375.58" font-size="6.9" text-anchor="end" fill="#333" textLength="9.73" lengthAdjust="spacingAndGlyphs">1.5</text>
<line x1="31.40" y1="382.60" x2="33.80" y2="382.60" stroke="#999999" stroke-width="0.6"/>
<text x="26.80" y="385.08" font-size="6.9" text-anchor="end" fill="#333" textLength="9.73" lengthAdjust="spacingAndGlyphs">1.0</text>
<line x1="31.40" y1="392.10" x2="33.80" y2="392.10" stroke="#999999" stroke-width="0.6"/>
<text x="26.80" y="394.58" font-size="6.9" text-anchor="end" fill="#333" textLength="9.73" lengthAdjust="spacingAndGlyphs">0.5</text>
<line x1="31.40" y1="401.60" x2="33.80" y2="401.60" stroke="#999999" stroke-width="0.6"/>
<text x="26.80" y="404.08" font-size="6.9" text-anchor="end" fill="#333" textLength="9.73" lengthAdjust="spacingAndGlyphs">0.0</text>
<line x1="31.40" y1="411.10" x2="33.80" y2="411.10" stroke="#999999" stroke-width="0.6"/>
<text x="26.80" y="413.58" font-size="6.9" text-anchor="end" fill="#333" textLength="13.82" lengthAdjust="spacingAndGlyphs">−0.5</text>
<line x1="48.40" y1="412.00" x2="48.40" y2="414.40" stroke="#999999" stroke-width="0.6"/>
<line x1="74.20" y1="412.00" x2="74.20" y2="414.40" stroke="#999999" stroke-width="0.6"/>
<line x1="99.80" y1="412.00" x2="99.80" y2="414.40" stroke="#999999" stroke-width="0.6"/>
<line x1="125.30" y1="412.00" x2="125.30" y2="414.40" stroke="#999999" stroke-width="0.6"/>
<line x1="150.90" y1="412.00" x2="150.90" y2="414.40" stroke="#999999" stroke-width="0.6"/>
<text x="6.30" y="390.80" font-size="7.2" text-anchor="middle" fill="#333" textLength="33.40" lengthAdjust="spacingAndGlyphs" transform="rotate(-90 6.30 390.80)">LR group</text>
<path d="M48.40,388.60 L48.40,388.60 L47.67,389.22 L46.62,390.11 L45.46,391.10 L44.40,392.00 L43.50,392.75 L42.64,393.46 L41.79,394.19 L40.90,395.00 L39.83,395.96 L38.64,397.03 L37.61,398.08 L37.00,399.00 L36.94,399.73 L37.27,400.33 L37.81,400.90 L38.40,401.50 L39.15,402.18 L40.11,402.89 L40.96,403.58 L41.40,404.20 L41.24,404.72 L40.67,405.17 L39.98,405.59 L39.40,406.00 L38.92,406.40 L38.42,406.77 L38.07,407.13 L38.00,407.50 L38.20,407.90 L38.61,408.31 L39.32,408.69 L40.40,409.00 L42.19,409.23 L44.55,409.39 L46.83,409.51 L48.40,409.60 L48.40,409.60 Z" fill="#2c5a84" stroke="#333" stroke-width="0.35"/>
<path d="M48.40,383.40 L48.40,383.40 L48.83,383.83 L49.44,384.45 L50.16,385.19 L50.90,386.00 L51.68,386.90 L52.54,387.91 L53.40,388.97 L54.20,390.00 L54.92,391.02 L55.60,392.06 L56.25,393.07 L56.90,394.00 L57.58,394.84 L58.28,395.62 L58.91,396.34 L59.40,397.00 L59.75,397.57 L59.99,398.06 L60.08,398.52 L60.00,399.00 L59.69,399.50 L59.18,400.00 L58.56,400.50 L57.90,401.00 L57.11,401.51 L56.18,402.03 L55.34,402.54 L54.80,403.00 L54.64,403.41 L54.73,403.78 L55.01,404.14 L55.40,404.50 L56.02,404.86 L56.86,405.22 L57.67,405.59 L58.20,406.00 L58.56,406.48 L58.82,407.02 L58.69,407.54 L57.90,408.00 L55.95,408.38 L53.13,408.73 L50.32,409.00 L48.40,409.20 L48.40,409.20 Z" fill="#f8868f" stroke="#333" stroke-width="0.35"/>
<line x1="38.31" y1="401.10" x2="48.40" y2="401.10" stroke="#111" stroke-width="0.65"/>
<line x1="48.40" y1="398.50" x2="59.78" y2="398.50" stroke="#222" stroke-width="0.65"/>
<line x1="48.40" y1="383.40" x2="48.40" y2="409.60" stroke="#222" stroke-width="0.35"/>
<path d="M74.20,384.00 L74.20,384.00 L73.38,385.10 L72.19,386.69 L70.86,388.43 L69.60,390.00 L68.35,391.39 L67.03,392.75 L65.82,393.98 L64.90,395.00 L64.30,395.69 L63.94,396.12 L63.78,396.50 L63.80,397.00 L64.05,397.68 L64.51,398.44 L65.10,399.23 L65.70,400.00 L66.43,400.77 L67.31,401.56 L68.05,402.32 L68.40,403.00 L68.21,403.55 L67.66,404.00 L66.92,404.45 L66.20,405.00 L65.37,405.72 L64.38,406.55 L63.55,407.35 L63.20,408.00 L63.41,408.45 L64.01,408.76 L64.96,409.00 L66.20,409.20 L68.04,409.37 L70.39,409.48 L72.65,409.55 L74.20,409.60 L74.20,409.60 Z" fill="#2c5a84" stroke="#333" stroke-width="0.35"/>
<path d="M74.20,369.50 L74.20,369.50 L74.55,370.50 L75.04,371.94 L75.61,373.53 L76.20,375.00 L76.81,376.21 L77.48,377.34 L78.15,378.55 L78.80,380.00 L79.39,381.81 L79.95,383.88 L80.53,386.00 L81.20,388.00 L82.04,389.91 L82.99,391.81 L83.90,393.55 L84.60,395.00 L85.12,396.03 L85.53,396.75 L85.72,397.34 L85.60,398.00 L85.06,398.77 L84.18,399.56 L83.15,400.32 L82.20,401.00 L81.21,401.57 L80.14,402.06 L79.24,402.52 L78.80,403.00 L78.97,403.50 L79.58,404.00 L80.39,404.50 L81.20,405.00 L82.09,405.51 L83.14,406.03 L84.06,406.54 L84.60,407.00 L84.77,407.43 L84.68,407.82 L84.20,408.19 L83.20,408.50 L81.27,408.77 L78.61,408.99 L76.00,409.17 L74.20,409.30 L74.20,409.30 Z" fill="#f8868f" stroke="#333" stroke-width="0.35"/>
<line x1="64.86" y1="398.50" x2="74.20" y2="398.50" stroke="#111" stroke-width="0.65"/>
<line x1="74.20" y1="396.10" x2="84.86" y2="396.10" stroke="#222" stroke-width="0.65"/>
<line x1="74.20" y1="369.50" x2="74.20" y2="409.60" stroke="#222" stroke-width="0.35"/>
<path d="M99.60,371.70 L99.60,371.70 L99.33,373.27 L98.94,375.54 L98.50,377.96 L98.10,380.00 L97.80,381.48 L97.54,382.71 L97.21,383.83 L96.70,385.00 L95.96,386.25 L95.07,387.50 L94.06,388.75 L93.00,390.00 L91.66,391.25 L90.09,392.50 L88.75,393.75 L88.10,395.00 L88.39,396.27 L89.34,397.56 L90.59,398.82 L91.80,400.00 L93.08,401.12 L94.55,402.19 L95.87,403.16 L96.70,404.00 L96.85,404.64 L96.54,405.12 L96.03,405.55 L95.60,406.00 L95.13,406.51 L94.55,407.03 L94.17,407.54 L94.30,408.00 L95.29,408.45 L96.87,408.88 L98.49,409.24 L99.60,409.50 L99.60,409.50 Z" fill="#2c5a84" stroke="#333" stroke-width="0.35"/>
<path d="M99.60,371.70 L99.60,371.70 L100.35,373.27 L101.44,375.54 L102.61,377.96 L103.60,380.00 L104.33,381.48 L104.95,382.71 L105.52,383.83 L106.10,385.00 L106.71,386.25 L107.31,387.50 L107.91,388.75 L108.50,390.00 L109.17,391.25 L109.90,392.50 L110.50,393.75 L110.80,395.00 L110.80,396.25 L110.57,397.50 L110.06,398.75 L109.20,400.00 L107.67,401.32 L105.60,402.69 L103.61,403.96 L102.30,405.00 L101.97,405.72 L102.24,406.22 L102.74,406.61 L103.10,407.00 L103.35,407.42 L103.65,407.81 L103.80,408.17 L103.60,408.50 L102.82,408.81 L101.63,409.09 L100.42,409.33 L99.60,409.50 L99.60,409.50 Z" fill="#f8868f" stroke="#333" stroke-width="0.35"/>
<line x1="88.71" y1="396.30" x2="99.60" y2="396.30" stroke="#111" stroke-width="0.65"/>
<line x1="99.60" y1="393.50" x2="110.08" y2="393.50" stroke="#222" stroke-width="0.65"/>
<line x1="99.60" y1="371.70" x2="99.60" y2="409.50" stroke="#222" stroke-width="0.35"/>
<path d="M125.00,381.00 L125.00,381.00 L124.74,381.70 L124.36,382.69 L123.93,383.84 L123.50,385.00 L123.15,386.11 L122.82,387.25 L122.38,388.52 L121.70,390.00 L120.60,391.86 L119.21,394.00 L117.81,396.14 L116.70,398.00 L115.99,399.48 L115.51,400.75 L115.15,401.89 L114.80,403.00 L114.39,404.12 L113.99,405.19 L113.70,406.16 L113.60,407.00 L113.57,407.67 L113.60,408.21 L113.98,408.65 L115.00,409.00 L117.13,409.26 L120.09,409.43 L123.00,409.53 L125.00,409.60 L125.00,409.60 Z" fill="#2c5a84" stroke="#333" stroke-width="0.35"/>
<path d="M125.00,376.10 L125.00,376.10 L125.31,376.78 L125.76,377.74 L126.27,378.86 L126.80,380.00 L127.28,381.17 L127.76,382.43 L128.33,383.72 L129.10,385.00 L130.21,386.30 L131.56,387.62 L132.90,388.89 L134.00,390.00 L134.81,390.87 L135.45,391.56 L135.92,392.23 L136.20,393.00 L136.23,393.95 L136.04,395.00 L135.75,396.05 L135.50,397.00 L135.33,397.77 L135.18,398.44 L134.98,399.13 L134.70,400.00 L134.30,401.16 L133.81,402.50 L133.29,403.84 L132.80,405.00 L132.44,405.92 L132.16,406.71 L131.74,407.40 L131.00,408.00 L129.65,408.54 L127.89,408.99 L126.18,409.35 L125.00,409.60 L125.00,409.60 Z" fill="#f8868f" stroke="#333" stroke-width="0.35"/>
<line x1="115.58" y1="401.50" x2="125.00" y2="401.50" stroke="#111" stroke-width="0.65"/>
<line x1="125.00" y1="394.50" x2="135.83" y2="394.50" stroke="#222" stroke-width="0.65"/>
<line x1="125.00" y1="376.10" x2="125.00" y2="409.60" stroke="#222" stroke-width="0.35"/>
<path d="M150.50,369.30 L150.50,369.30 L150.23,371.36 L149.84,374.34 L149.40,377.48 L149.00,380.00 L148.70,381.60 L148.44,382.73 L148.11,383.74 L147.60,385.00 L146.81,386.63 L145.82,388.44 L144.79,390.27 L143.90,392.00 L143.14,393.64 L142.44,395.25 L141.84,396.73 L141.40,398.00 L141.11,398.98 L140.96,399.75 L140.95,400.39 L141.10,401.00 L141.57,401.57 L142.29,402.06 L142.97,402.52 L143.30,403.00 L143.13,403.50 L142.66,404.00 L142.05,404.50 L141.50,405.00 L140.94,405.50 L140.32,406.00 L139.81,406.50 L139.60,407.00 L139.64,407.53 L139.87,408.09 L140.44,408.60 L141.50,409.00 L143.46,409.26 L146.12,409.43 L148.72,409.53 L150.50,409.60 L150.50,409.60 Z" fill="#2c5a84" stroke="#333" stroke-width="0.35"/>
<path d="M150.50,369.30 L150.50,369.30 L150.71,370.34 L151.01,371.84 L151.35,373.49 L151.70,375.00 L152.05,376.30 L152.41,377.54 L152.80,378.77 L153.20,380.00 L153.61,381.25 L154.03,382.50 L154.49,383.75 L155.00,385.00 L155.57,386.20 L156.18,387.38 L156.85,388.61 L157.60,390.00 L158.53,391.70 L159.59,393.62 L160.58,395.48 L161.30,397.00 L161.70,398.01 L161.88,398.69 L161.87,399.27 L161.70,400.00 L161.25,400.98 L160.56,402.06 L159.86,403.12 L159.40,404.00 L159.29,404.64 L159.38,405.12 L159.56,405.55 L159.70,406.00 L160.03,406.51 L160.52,407.03 L160.70,407.53 L160.10,408.00 L158.18,408.47 L155.32,408.93 L152.46,409.32 L150.50,409.60 L150.50,409.60 Z" fill="#f8868f" stroke="#333" stroke-width="0.35"/>
<line x1="141.25" y1="399.90" x2="150.50" y2="399.90" stroke="#111" stroke-width="0.65"/>
<line x1="150.50" y1="398.40" x2="161.50" y2="398.40" stroke="#222" stroke-width="0.65"/>
<line x1="150.50" y1="369.30" x2="150.50" y2="409.60" stroke="#222" stroke-width="0.35"/>
<text x="38.00" y="365.90" font-size="5.2" fill="#333" textLength="22.70" lengthAdjust="spacingAndGlyphs"><tspan font-style="italic">P</tspan> = 0.016</text>
<line x1="42.00" y1="366.70" x2="52.00" y2="366.70" stroke="#444" stroke-width="0.45"/>
<text x="84.40" y="365.30" font-size="5.2" fill="#333" textLength="26.00" lengthAdjust="spacingAndGlyphs"><tspan font-style="italic">P</tspan> = 0.0039</text>
<line x1="88.50" y1="366.10" x2="103.00" y2="366.10" stroke="#444" stroke-width="0.45"/>
<text x="113.60" y="365.30" font-size="5.2" fill="#333" textLength="26.60" lengthAdjust="spacingAndGlyphs"><tspan font-style="italic">P</tspan> = 0.0078</text>
<line x1="118.00" y1="366.10" x2="132.00" y2="366.10" stroke="#444" stroke-width="0.45"/>
<line x1="33.30" y1="422.40" x2="33.30" y2="468.10" stroke="#999999" stroke-width="0.7"/>
<line x1="33.30" y1="468.10" x2="166.00" y2="468.10" stroke="#999999" stroke-width="0.7"/>
<line x1="30.90" y1="426.75" x2="33.30" y2="426.75" stroke="#999999" stroke-width="0.6"/>
<text x="26.80" y="429.23" font-size="6.9" text-anchor="end" fill="#333" textLength="9.73" lengthAdjust="spacingAndGlyphs">1.5</text>
<line x1="30.90" y1="436.60" x2="33.30" y2="436.60" stroke="#999999" stroke-width="0.6"/>
<text x="26.80" y="439.08" font-size="6.9" text-anchor="end" fill="#333" textLength="9.73" lengthAdjust="spacingAndGlyphs">1.0</text>
<line x1="30.90" y1="446.45" x2="33.30" y2="446.45" stroke="#999999" stroke-width="0.6"/>
<text x="26.80" y="448.93" font-size="6.9" text-anchor="end" fill="#333" textLength="9.73" lengthAdjust="spacingAndGlyphs">0.5</text>
<line x1="30.90" y1="456.30" x2="33.30" y2="456.30" stroke="#999999" stroke-width="0.6"/>
<text x="26.80" y="458.78" font-size="6.9" text-anchor="end" fill="#333" textLength="9.73" lengthAdjust="spacingAndGlyphs">0.0</text>
<line x1="30.90" y1="466.15" x2="33.30" y2="466.15" stroke="#999999" stroke-width="0.6"/>
<text x="26.80" y="468.63" font-size="6.9" text-anchor="end" fill="#333" textLength="13.82" lengthAdjust="spacingAndGlyphs">−0.5</text>
<line x1="48.40" y1="468.10" x2="48.40" y2="470.50" stroke="#999999" stroke-width="0.6"/>
<line x1="74.20" y1="468.10" x2="74.20" y2="470.50" stroke="#999999" stroke-width="0.6"/>
<line x1="99.80" y1="468.10" x2="99.80" y2="470.50" stroke="#999999" stroke-width="0.6"/>
<line x1="125.30" y1="468.10" x2="125.30" y2="470.50" stroke="#999999" stroke-width="0.6"/>
<line x1="150.90" y1="468.10" x2="150.90" y2="470.50" stroke="#999999" stroke-width="0.6"/>
<text x="6.30" y="446.00" font-size="7.2" text-anchor="middle" fill="#333" textLength="32.40" lengthAdjust="spacingAndGlyphs" transform="rotate(-90 6.30 446.00)">EP group</text>
<path d="M48.40,447.30 L48.40,447.30 L47.61,447.78 L46.48,448.46 L45.23,449.24 L44.10,450.00 L43.09,450.75 L42.10,451.54 L41.18,452.31 L40.40,453.00 L39.71,453.57 L39.10,454.06 L38.67,454.52 L38.50,455.00 L38.67,455.50 L39.10,456.00 L39.71,456.50 L40.40,457.00 L41.40,457.50 L42.66,458.00 L43.72,458.50 L44.10,459.00 L43.46,459.52 L42.12,460.06 L40.60,460.57 L39.40,461.00 L38.57,461.30 L37.87,461.50 L37.38,461.70 L37.20,462.00 L37.28,462.46 L37.60,463.03 L38.27,463.57 L39.40,464.00 L41.38,464.26 L44.04,464.43 L46.62,464.53 L48.40,464.60 L48.40,464.60 Z" fill="#2c5a84" stroke="#333" stroke-width="0.35"/>
<path d="M48.40,438.00 L48.40,438.00 L48.67,438.74 L49.05,439.81 L49.48,440.98 L49.90,442.00 L50.27,442.80 L50.64,443.50 L51.04,444.20 L51.50,445.00 L52.04,445.95 L52.64,447.00 L53.27,448.05 L53.90,449.00 L54.49,449.80 L55.06,450.50 L55.68,451.20 L56.40,452.00 L57.44,452.99 L58.69,454.09 L59.75,455.15 L60.20,456.00 L59.80,456.55 L58.81,456.91 L57.56,457.18 L56.40,457.50 L55.18,457.88 L53.81,458.25 L52.65,458.62 L52.10,459.00 L52.39,459.38 L53.26,459.75 L54.38,460.12 L55.40,460.50 L56.38,460.86 L57.45,461.22 L58.37,461.59 L58.90,462.00 L59.05,462.50 L58.93,463.06 L58.42,463.59 L57.40,464.00 L55.47,464.26 L52.81,464.43 L50.19,464.53 L48.40,464.60 L48.40,464.60 Z" fill="#f8868f" stroke="#333" stroke-width="0.35"/>
<line x1="39.64" y1="456.20" x2="48.40" y2="456.20" stroke="#111" stroke-width="0.65"/>
<line x1="48.40" y1="455.30" x2="59.53" y2="455.30" stroke="#222" stroke-width="0.65"/>
<line x1="48.40" y1="438.00" x2="48.40" y2="464.60" stroke="#222" stroke-width="0.35"/>
<path d="M74.40,427.40 L74.40,427.40 L74.13,428.83 L73.75,430.89 L73.32,433.10 L72.90,435.00 L72.57,436.36 L72.28,437.48 L71.89,438.60 L71.30,440.00 L70.36,441.84 L69.17,443.94 L67.97,446.07 L67.00,448.00 L66.27,449.72 L65.67,451.34 L65.26,452.79 L65.10,454.00 L65.26,454.87 L65.68,455.47 L66.26,455.96 L66.90,456.50 L67.76,457.14 L68.84,457.78 L69.75,458.41 L70.10,459.00 L69.65,459.54 L68.65,460.03 L67.45,460.51 L66.40,461.00 L65.44,461.51 L64.43,462.03 L63.61,462.54 L63.20,463.00 L63.21,463.43 L63.54,463.84 L64.25,464.21 L65.40,464.50 L67.38,464.71 L70.04,464.84 L72.62,464.93 L74.40,465.00 L74.40,465.00 Z" fill="#2c5a84" stroke="#333" stroke-width="0.35"/>
<path d="M74.40,424.70 L74.40,424.70 L74.67,425.66 L75.05,427.04 L75.48,428.57 L75.90,430.00 L76.29,431.27 L76.68,432.52 L77.08,433.76 L77.50,435.00 L77.94,436.25 L78.40,437.50 L78.88,438.75 L79.40,440.00 L79.98,441.25 L80.62,442.50 L81.24,443.75 L81.80,445.00 L82.26,446.25 L82.66,447.50 L83.03,448.75 L83.40,450.00 L83.88,451.32 L84.41,452.69 L84.81,453.96 L84.90,455.00 L84.58,455.71 L83.96,456.19 L83.19,456.57 L82.40,457.00 L81.43,457.50 L80.28,458.00 L79.31,458.50 L78.90,459.00 L79.31,459.50 L80.28,460.00 L81.43,460.50 L82.40,461.00 L83.19,461.51 L83.96,462.03 L84.58,462.54 L84.90,463.00 L84.98,463.43 L84.87,463.84 L84.40,464.21 L83.40,464.50 L81.47,464.71 L78.81,464.84 L76.19,464.93 L74.40,465.00 L74.40,465.00 Z" fill="#f8868f" stroke="#333" stroke-width="0.35"/>
<line x1="65.51" y1="453.20" x2="74.40" y2="453.20" stroke="#111" stroke-width="0.65"/>
<line x1="74.40" y1="452.20" x2="83.92" y2="452.20" stroke="#222" stroke-width="0.65"/>
<line x1="74.40" y1="424.70" x2="74.40" y2="465.00" stroke="#222" stroke-width="0.35"/>
<path d="M100.30,437.30 L100.30,437.30 L99.93,438.18 L99.39,439.46 L98.81,440.83 L98.30,442.00 L97.94,442.89 L97.64,443.67 L97.30,444.36 L96.80,445.00 L96.09,445.57 L95.24,446.06 L94.29,446.52 L93.30,447.00 L92.07,447.45 L90.64,447.88 L89.41,448.36 L88.80,449.00 L89.01,449.88 L89.79,450.94 L90.86,452.02 L91.90,453.00 L92.96,453.84 L94.14,454.62 L95.31,455.34 L96.30,456.00 L97.15,456.57 L97.92,457.06 L98.48,457.52 L98.70,458.00 L98.46,458.50 L97.85,459.00 L97.07,459.50 L96.30,460.00 L95.43,460.50 L94.41,461.00 L93.54,461.50 L93.10,462.00 L93.20,462.52 L93.69,463.05 L94.43,463.56 L95.30,464.00 L96.47,464.38 L97.94,464.73 L99.34,465.00 L100.30,465.20 L100.30,465.20 Z" fill="#2c5a84" stroke="#333" stroke-width="0.35"/>
<path d="M100.30,426.20 L100.30,426.20 L100.56,426.85 L100.94,427.79 L101.37,428.88 L101.80,430.00 L102.17,431.12 L102.52,432.30 L102.96,433.58 L103.60,435.00 L104.54,436.61 L105.71,438.38 L106.92,440.20 L108.00,442.00 L109.04,443.77 L110.09,445.56 L110.92,447.32 L111.30,449.00 L111.11,450.65 L110.49,452.28 L109.60,453.77 L108.60,455.00 L107.37,455.89 L105.88,456.53 L104.42,457.03 L103.30,457.50 L102.59,457.93 L102.12,458.28 L101.88,458.61 L101.80,459.00 L101.96,459.46 L102.36,459.97 L102.85,460.49 L103.30,461.00 L103.84,461.49 L104.48,461.97 L104.93,462.46 L104.90,463.00 L104.08,463.65 L102.70,464.38 L101.27,465.04 L100.30,465.50 L100.30,465.50 Z" fill="#f8868f" stroke="#333" stroke-width="0.35"/>
<line x1="91.13" y1="452.00" x2="100.30" y2="452.00" stroke="#111" stroke-width="0.65"/>
<line x1="100.30" y1="450.10" x2="110.87" y2="450.10" stroke="#222" stroke-width="0.65"/>
<line x1="100.30" y1="426.20" x2="100.30" y2="465.50" stroke="#222" stroke-width="0.35"/>
<path d="M125.90,443.50 L125.90,443.50 L125.12,443.44 L124.01,443.34 L122.76,443.34 L121.60,443.60 L120.48,444.18 L119.31,444.99 L118.27,445.96 L117.50,447.00 L117.18,448.16 L117.18,449.46 L117.21,450.78 L117.00,452.00 L116.33,453.07 L115.40,454.06 L114.54,455.02 L114.10,456.00 L114.23,457.02 L114.72,458.06 L115.38,459.07 L116.00,460.00 L116.56,460.84 L117.16,461.62 L117.78,462.34 L118.40,463.00 L118.96,463.64 L119.49,464.23 L120.10,464.74 L120.90,465.10 L122.09,465.27 L123.56,465.28 L124.94,465.23 L125.90,465.20 L125.90,465.20 Z" fill="#2c5a84" stroke="#333" stroke-width="0.35"/>
<path d="M125.90,438.00 L125.90,438.00 L126.71,437.93 L127.89,437.81 L129.15,437.81 L130.20,438.10 L130.95,438.71 L131.56,439.56 L132.12,440.65 L132.70,442.00 L133.35,443.74 L134.01,445.81 L134.64,447.97 L135.20,450.00 L135.71,451.87 L136.18,453.69 L136.56,455.41 L136.80,457.00 L136.89,458.45 L136.86,459.78 L136.69,460.97 L136.40,462.00 L136.05,462.84 L135.62,463.52 L134.96,464.06 L133.90,464.50 L132.10,464.82 L129.74,465.01 L127.47,465.12 L125.90,465.20 L125.90,465.20 Z" fill="#f8868f" stroke="#333" stroke-width="0.35"/>
<line x1="115.31" y1="454.50" x2="125.90" y2="454.50" stroke="#111" stroke-width="0.65"/>
<line x1="125.90" y1="453.50" x2="135.83" y2="453.50" stroke="#222" stroke-width="0.65"/>
<line x1="125.90" y1="438.00" x2="125.90" y2="465.20" stroke="#222" stroke-width="0.35"/>
<path d="M151.70,432.40 L151.70,432.40 L151.48,433.83 L151.16,435.89 L150.81,438.10 L150.50,440.00 L150.26,441.39 L150.04,442.54 L149.81,443.67 L149.50,445.00 L149.14,446.66 L148.76,448.50 L148.26,450.34 L147.60,452.00 L146.64,453.41 L145.45,454.69 L144.26,455.87 L143.30,457.00 L142.58,458.11 L142.00,459.16 L141.59,460.13 L141.40,461.00 L141.32,461.76 L141.37,462.43 L141.76,463.01 L142.70,463.50 L144.62,463.90 L147.28,464.21 L149.90,464.44 L151.70,464.60 L151.70,464.60 Z" fill="#2c5a84" stroke="#333" stroke-width="0.35"/>
<path d="M151.70,429.30 L151.70,429.30 L151.96,430.34 L152.34,431.84 L152.77,433.49 L153.20,435.00 L153.57,436.18 L153.94,437.23 L154.38,438.41 L155.00,440.00 L155.91,442.27 L157.02,445.00 L158.15,447.73 L159.10,450.00 L159.81,451.60 L160.38,452.81 L160.86,453.87 L161.30,455.00 L161.68,456.30 L162.00,457.62 L162.27,458.89 L162.50,460.00 L162.97,460.92 L163.59,461.71 L163.81,462.40 L163.10,463.00 L160.83,463.54 L157.44,463.99 L154.03,464.35 L151.70,464.60 L151.70,464.60 Z" fill="#f8868f" stroke="#333" stroke-width="0.35"/>
<line x1="143.77" y1="456.80" x2="151.70" y2="456.80" stroke="#111" stroke-width="0.65"/>
<line x1="151.70" y1="454.50" x2="160.81" y2="454.50" stroke="#222" stroke-width="0.65"/>
<line x1="151.70" y1="429.30" x2="151.70" y2="464.60" stroke="#222" stroke-width="0.35"/>
<text x="60.80" y="423.30" font-size="5.2" fill="#333" textLength="26.70" lengthAdjust="spacingAndGlyphs"><tspan font-style="italic">P</tspan> = 0.0039</text>
<line x1="65.00" y1="424.10" x2="80.00" y2="424.10" stroke="#444" stroke-width="0.45"/>
<text x="91.80" y="423.30" font-size="5.2" fill="#333" textLength="19.50" lengthAdjust="spacingAndGlyphs"><tspan font-style="italic">P</tspan> = 0.02</text>
<line x1="95.50" y1="424.10" x2="104.50" y2="424.10" stroke="#444" stroke-width="0.45"/>
<text x="53.40" y="478.30" font-size="6.9" text-anchor="end" fill="#222" transform="rotate(-45 53.40 478.30)">Naive CD8<tspan dy="-2.62" font-size="4.28">+</tspan><tspan dy="2.62"> T</tspan></text>
<text x="79.20" y="478.30" font-size="6.9" text-anchor="end" fill="#222" transform="rotate(-45 79.20 478.30)">Effector CD8<tspan dy="-2.62" font-size="4.28">+</tspan><tspan dy="2.62"> T</tspan></text>
<text x="104.80" y="478.30" font-size="6.9" text-anchor="end" fill="#222" transform="rotate(-45 104.80 478.30)"><tspan font-style="italic">PDCD1</tspan><tspan dy="-2.62" font-size="4.28">+</tspan><tspan dy="2.62"> CD8</tspan><tspan dy="-2.62" font-size="4.28">+</tspan><tspan dy="2.62"> T</tspan></text>
<text x="130.30" y="478.30" font-size="6.9" text-anchor="end" fill="#222" transform="rotate(-45 130.30 478.30)"><tspan font-style="italic">MKI67</tspan><tspan dy="-2.62" font-size="4.28">+</tspan><tspan dy="2.62"> CD8</tspan><tspan dy="-2.62" font-size="4.28">+</tspan><tspan dy="2.62"> T</tspan></text>
<text x="155.90" y="478.30" font-size="6.9" text-anchor="end" fill="#222" transform="rotate(-45 155.90 478.30)">Innate-like CD8<tspan dy="-2.62" font-size="4.28">+</tspan><tspan dy="2.62"> T</tspan></text>
<line x1="199.20" y1="366.10" x2="199.20" y2="410.90" stroke="#999999" stroke-width="0.7"/>
<line x1="199.20" y1="410.90" x2="330.00" y2="410.90" stroke="#999999" stroke-width="0.7"/>
<line x1="196.80" y1="381.20" x2="199.20" y2="381.20" stroke="#999999" stroke-width="0.6"/>
<text x="193.60" y="383.68" font-size="6.9" text-anchor="end" fill="#333" textLength="3.89" lengthAdjust="spacingAndGlyphs">1</text>
<line x1="196.80" y1="397.30" x2="199.20" y2="397.30" stroke="#999999" stroke-width="0.6"/>
<text x="193.60" y="399.78" font-size="6.9" text-anchor="end" fill="#333" textLength="3.89" lengthAdjust="spacingAndGlyphs">0</text>
<line x1="214.30" y1="410.90" x2="214.30" y2="413.30" stroke="#999999" stroke-width="0.6"/>
<line x1="239.90" y1="410.90" x2="239.90" y2="413.30" stroke="#999999" stroke-width="0.6"/>
<line x1="265.70" y1="410.90" x2="265.70" y2="413.30" stroke="#999999" stroke-width="0.6"/>
<line x1="291.60" y1="410.90" x2="291.60" y2="413.30" stroke="#999999" stroke-width="0.6"/>
<line x1="317.20" y1="410.90" x2="317.20" y2="413.30" stroke="#999999" stroke-width="0.6"/>
<text x="180.60" y="388.20" font-size="7.2" text-anchor="middle" fill="#333" textLength="34.50" lengthAdjust="spacingAndGlyphs" transform="rotate(-90 180.60 388.20)">LR group</text>
<path d="M214.30,389.90 L214.30,389.90 L214.26,391.18 L214.23,393.04 L214.03,394.98 L213.50,396.50 L212.52,397.41 L211.19,398.01 L209.72,398.47 L208.30,399.00 L206.69,399.64 L204.88,400.28 L203.41,400.91 L202.80,401.50 L203.43,402.04 L204.93,402.53 L206.74,403.01 L208.30,403.50 L209.57,404.02 L210.80,404.56 L211.91,405.07 L212.80,405.50 L213.42,405.84 L213.83,406.12 L214.10,406.34 L214.30,406.50 L214.30,406.50 Z" fill="#2c5a84" stroke="#333" stroke-width="0.35"/>
<path d="M214.30,389.90 L214.30,389.90 L214.34,391.18 L214.38,393.04 L214.57,394.98 L215.10,396.50 L216.06,397.41 L217.36,398.01 L218.82,398.47 L220.30,399.00 L222.12,399.64 L224.23,400.28 L225.96,400.91 L226.60,401.50 L225.64,402.04 L223.56,402.53 L221.18,403.01 L219.30,403.50 L218.11,404.02 L217.19,404.56 L216.45,405.07 L215.80,405.50 L215.25,405.84 L214.83,406.12 L214.52,406.34 L214.30,406.50 L214.30,406.50 Z" fill="#f8868f" stroke="#333" stroke-width="0.35"/>
<line x1="203.20" y1="401.40" x2="214.30" y2="401.40" stroke="#111" stroke-width="0.65"/>
<line x1="214.30" y1="401.40" x2="226.19" y2="401.40" stroke="#222" stroke-width="0.65"/>
<line x1="214.30" y1="389.90" x2="214.30" y2="406.50" stroke="#222" stroke-width="0.35"/>
<path d="M239.70,366.50 L239.70,366.50 L239.30,367.48 L238.73,368.88 L238.02,370.46 L237.20,372.00 L236.17,373.51 L234.95,375.09 L233.73,376.63 L232.70,378.00 L231.90,379.14 L231.24,380.12 L230.69,381.05 L230.20,382.00 L229.74,383.00 L229.34,384.00 L229.07,385.00 L229.00,386.00 L229.17,386.98 L229.52,387.94 L230.05,388.93 L230.70,390.00 L231.56,391.18 L232.62,392.44 L233.72,393.73 L234.70,395.00 L235.54,396.28 L236.32,397.57 L237.04,398.83 L237.70,400.00 L238.32,401.12 L238.89,402.21 L239.36,403.15 L239.70,403.80 L239.70,403.80 Z" fill="#2c5a84" stroke="#333" stroke-width="0.35"/>
<path d="M239.70,366.50 L239.70,366.50 L240.18,367.48 L240.86,368.88 L241.70,370.46 L242.70,372.00 L243.96,373.51 L245.45,375.09 L246.94,376.63 L248.20,378.00 L249.18,379.14 L249.99,380.12 L250.66,381.05 L251.20,382.00 L251.63,383.00 L251.93,384.00 L252.07,385.00 L252.00,386.00 L251.69,386.98 L251.18,387.94 L250.50,388.93 L249.70,390.00 L248.71,391.18 L247.52,392.44 L246.31,393.73 L245.20,395.00 L244.22,396.28 L243.29,397.57 L242.45,398.83 L241.70,400.00 L241.05,401.12 L240.48,402.21 L240.02,403.15 L239.70,403.80 L239.70,403.80 Z" fill="#f8868f" stroke="#333" stroke-width="0.35"/>
<line x1="229.33" y1="385.50" x2="239.70" y2="385.50" stroke="#111" stroke-width="0.65"/>
<line x1="239.70" y1="385.50" x2="251.73" y2="385.50" stroke="#222" stroke-width="0.65"/>
<line x1="239.70" y1="366.50" x2="239.70" y2="403.80" stroke="#222" stroke-width="0.35"/>
<path d="M265.70,374.20 L265.70,374.20 L265.25,375.26 L264.62,376.79 L263.85,378.47 L263.00,380.00 L262.03,381.35 L260.92,382.68 L259.78,383.91 L258.70,385.00 L257.60,385.84 L256.46,386.50 L255.49,387.16 L254.90,388.00 L254.76,389.06 L254.95,390.25 L255.42,391.56 L256.10,393.00 L257.09,394.62 L258.39,396.41 L259.79,398.24 L261.10,400.00 L262.39,401.81 L263.71,403.69 L264.88,405.34 L265.70,406.50 L265.70,406.50 Z" fill="#2c5a84" stroke="#333" stroke-width="0.35"/>
<path d="M265.70,374.20 L265.70,374.20 L266.42,375.26 L267.45,376.79 L268.61,378.47 L269.70,380.00 L270.70,381.31 L271.71,382.55 L272.71,383.77 L273.70,385.00 L274.82,386.25 L276.02,387.50 L277.02,388.75 L277.50,390.00 L277.29,391.25 L276.59,392.50 L275.64,393.75 L274.70,395.00 L273.81,396.21 L272.84,397.41 L271.80,398.64 L270.70,400.00 L269.40,401.67 L267.95,403.56 L266.62,405.30 L265.70,406.50 L265.70,406.50 Z" fill="#f8868f" stroke="#333" stroke-width="0.35"/>
<line x1="256.02" y1="392.20" x2="265.70" y2="392.20" stroke="#111" stroke-width="0.65"/>
<line x1="265.70" y1="390.60" x2="277.10" y2="390.60" stroke="#222" stroke-width="0.65"/>
<line x1="265.70" y1="374.20" x2="265.70" y2="406.50" stroke="#222" stroke-width="0.35"/>
<path d="M291.50,378.30 L291.50,378.30 L291.09,378.19 L290.52,377.99 L289.81,378.00 L289.00,378.50 L287.96,379.60 L286.71,381.14 L285.54,382.98 L284.70,385.00 L284.36,387.37 L284.34,390.09 L284.42,392.77 L284.40,395.00 L284.25,396.60 L284.09,397.81 L283.85,398.87 L283.50,400.00 L282.93,401.30 L282.19,402.62 L281.49,403.89 L281.00,405.00 L280.77,405.93 L280.69,406.74 L280.77,407.42 L281.00,408.00 L281.32,408.45 L281.75,408.78 L282.43,409.02 L283.50,409.20 L285.30,409.30 L287.66,409.32 L289.93,409.31 L291.50,409.30 L291.50,409.30 Z" fill="#2c5a84" stroke="#333" stroke-width="0.35"/>
<path d="M291.50,379.20 L291.50,379.20 L292.12,379.09 L293.00,378.89 L294.05,378.88 L295.20,379.30 L296.55,380.35 L298.11,381.84 L299.62,383.49 L300.80,385.00 L301.61,386.30 L302.18,387.54 L302.54,388.77 L302.70,390.00 L302.64,391.25 L302.36,392.50 L301.93,393.75 L301.40,395.00 L300.66,396.20 L299.73,397.38 L298.86,398.61 L298.30,400.00 L298.26,401.72 L298.56,403.68 L298.87,405.54 L298.90,407.00 L298.57,407.94 L298.05,408.53 L297.35,408.91 L296.50,409.20 L295.32,409.38 L293.85,409.39 L292.46,409.33 L291.50,409.30 L291.50,409.30 Z" fill="#f8868f" stroke="#333" stroke-width="0.35"/>
<line x1="284.42" y1="397.60" x2="291.50" y2="397.60" stroke="#111" stroke-width="0.65"/>
<line x1="291.50" y1="394.30" x2="301.39" y2="394.30" stroke="#222" stroke-width="0.65"/>
<line x1="291.50" y1="378.30" x2="291.50" y2="409.30" stroke="#222" stroke-width="0.35"/>
<path d="M317.00,372.40 L317.00,372.40 L316.68,372.86 L316.23,373.51 L315.66,374.26 L315.00,375.00 L314.25,375.70 L313.41,376.41 L312.46,377.17 L311.40,378.00 L309.96,378.88 L308.23,379.81 L306.76,380.84 L306.10,382.00 L306.56,383.38 L307.81,384.94 L309.37,386.52 L310.80,388.00 L312.12,389.33 L313.52,390.57 L314.81,391.79 L315.80,393.00 L316.40,394.33 L316.71,395.71 L316.87,396.94 L317.00,397.80 L317.00,397.80 Z" fill="#2c5a84" stroke="#333" stroke-width="0.35"/>
<path d="M317.00,374.90 L317.00,374.90 L317.95,374.85 L319.31,374.76 L320.77,374.77 L322.00,375.00 L322.89,375.52 L323.61,376.26 L324.28,377.11 L325.00,378.00 L325.96,378.88 L327.06,379.81 L327.93,380.84 L328.20,382.00 L327.63,383.38 L326.47,384.94 L325.07,386.52 L323.80,388.00 L322.68,389.33 L321.53,390.57 L320.45,391.79 L319.50,393.00 L318.69,394.33 L317.98,395.71 L317.41,396.94 L317.00,397.80 L317.00,397.80 Z" fill="#f8868f" stroke="#333" stroke-width="0.35"/>
<line x1="307.68" y1="384.40" x2="317.00" y2="384.40" stroke="#111" stroke-width="0.65"/>
<line x1="317.00" y1="384.40" x2="326.57" y2="384.40" stroke="#222" stroke-width="0.65"/>
<line x1="317.00" y1="372.40" x2="317.00" y2="397.80" stroke="#222" stroke-width="0.35"/>
<text x="251.00" y="364.90" font-size="5.2" fill="#333" textLength="26.50" lengthAdjust="spacingAndGlyphs"><tspan font-style="italic">P</tspan> = 0.0078</text>
<line x1="255.00" y1="365.70" x2="270.00" y2="365.70" stroke="#444" stroke-width="0.45"/>
<text x="282.00" y="364.90" font-size="5.2" fill="#333" textLength="22.60" lengthAdjust="spacingAndGlyphs"><tspan font-style="italic">P</tspan> = 0.055</text>
<line x1="286.00" y1="365.70" x2="298.00" y2="365.70" stroke="#444" stroke-width="0.45"/>
<line x1="199.20" y1="421.80" x2="199.20" y2="467.40" stroke="#999999" stroke-width="0.7"/>
<line x1="199.20" y1="467.40" x2="330.00" y2="467.40" stroke="#999999" stroke-width="0.7"/>
<line x1="196.80" y1="437.60" x2="199.20" y2="437.60" stroke="#999999" stroke-width="0.6"/>
<text x="193.60" y="440.08" font-size="6.9" text-anchor="end" fill="#333" textLength="3.89" lengthAdjust="spacingAndGlyphs">1</text>
<line x1="196.80" y1="454.10" x2="199.20" y2="454.10" stroke="#999999" stroke-width="0.6"/>
<text x="193.60" y="456.58" font-size="6.9" text-anchor="end" fill="#333" textLength="3.89" lengthAdjust="spacingAndGlyphs">0</text>
<line x1="214.30" y1="467.40" x2="214.30" y2="469.80" stroke="#999999" stroke-width="0.6"/>
<line x1="239.90" y1="467.40" x2="239.90" y2="469.80" stroke="#999999" stroke-width="0.6"/>
<line x1="265.70" y1="467.40" x2="265.70" y2="469.80" stroke="#999999" stroke-width="0.6"/>
<line x1="291.60" y1="467.40" x2="291.60" y2="469.80" stroke="#999999" stroke-width="0.6"/>
<line x1="317.20" y1="467.40" x2="317.20" y2="469.80" stroke="#999999" stroke-width="0.6"/>
<text x="180.90" y="444.40" font-size="7.2" text-anchor="middle" fill="#333" textLength="33.30" lengthAdjust="spacingAndGlyphs" transform="rotate(-90 180.90 444.40)">EP group</text>
<path d="M214.30,448.30 L214.30,448.30 L214.21,449.03 L214.11,450.07 L213.85,451.21 L213.30,452.20 L212.35,452.99 L211.10,453.71 L209.70,454.37 L208.30,455.00 L206.63,455.59 L204.73,456.13 L203.15,456.66 L202.50,457.20 L203.15,457.77 L204.73,458.36 L206.63,458.94 L208.30,459.50 L209.70,460.06 L211.10,460.61 L212.35,461.11 L213.30,461.50 L213.85,461.74 L214.11,461.88 L214.21,461.95 L214.30,462.00 L214.30,462.00 Z" fill="#2c5a84" stroke="#333" stroke-width="0.35"/>
<path d="M214.30,448.30 L214.30,448.30 L214.39,449.03 L214.49,450.07 L214.75,451.21 L215.30,452.20 L216.26,452.99 L217.52,453.71 L218.92,454.37 L220.30,455.00 L221.90,455.59 L223.71,456.13 L225.19,456.66 L225.80,457.20 L225.19,457.77 L223.71,458.36 L221.90,458.94 L220.30,459.50 L218.92,460.06 L217.52,460.61 L216.26,461.11 L215.30,461.50 L214.75,461.74 L214.49,461.88 L214.39,461.95 L214.30,462.00 L214.30,462.00 Z" fill="#f8868f" stroke="#333" stroke-width="0.35"/>
<line x1="203.04" y1="457.00" x2="214.30" y2="457.00" stroke="#111" stroke-width="0.65"/>
<line x1="214.30" y1="457.00" x2="225.27" y2="457.00" stroke="#222" stroke-width="0.65"/>
<line x1="214.30" y1="448.30" x2="214.30" y2="462.00" stroke="#222" stroke-width="0.35"/>
<path d="M240.10,427.40 L240.10,427.40 L238.97,428.42 L237.35,429.89 L235.55,431.51 L233.90,433.00 L232.30,434.25 L230.63,435.41 L229.20,436.62 L228.30,438.00 L228.03,439.66 L228.21,441.50 L228.77,443.34 L229.60,445.00 L230.85,446.37 L232.51,447.56 L234.27,448.73 L235.80,450.00 L237.11,451.57 L238.34,453.31 L239.37,454.90 L240.10,456.00 L240.10,456.00 Z" fill="#2c5a84" stroke="#333" stroke-width="0.35"/>
<path d="M240.10,427.00 L240.10,427.00 L241.11,428.05 L242.55,429.56 L244.17,431.29 L245.70,433.00 L247.28,434.73 L248.97,436.56 L250.43,438.37 L251.30,440.00 L251.42,441.39 L251.01,442.62 L250.27,443.80 L249.40,445.00 L248.35,446.23 L247.05,447.44 L245.67,448.68 L244.40,450.00 L243.17,451.57 L241.94,453.31 L240.86,454.90 L240.10,456.00 L240.10,456.00 Z" fill="#f8868f" stroke="#333" stroke-width="0.35"/>
<line x1="228.66" y1="442.00" x2="240.10" y2="442.00" stroke="#111" stroke-width="0.65"/>
<line x1="240.10" y1="441.30" x2="251.12" y2="441.30" stroke="#222" stroke-width="0.65"/>
<line x1="240.10" y1="427.00" x2="240.10" y2="456.00" stroke="#222" stroke-width="0.35"/>
<path d="M265.80,432.40 L265.80,432.40 L264.97,433.78 L263.78,435.76 L262.42,437.96 L261.10,440.00 L259.75,441.89 L258.31,443.79 L256.96,445.55 L255.90,447.00 L255.11,447.96 L254.51,448.56 L254.20,449.13 L254.30,450.00 L254.89,451.27 L255.90,452.76 L257.18,454.37 L258.60,456.00 L260.36,457.80 L262.47,459.77 L264.44,461.56 L265.80,462.80 L265.80,462.80 Z" fill="#2c5a84" stroke="#333" stroke-width="0.35"/>
<path d="M265.80,431.10 L265.80,431.10 L266.89,432.74 L268.44,435.11 L270.18,437.70 L271.80,440.00 L273.37,441.98 L275.01,443.87 L276.46,445.58 L277.50,447.00 L278.08,447.96 L278.32,448.56 L278.22,449.13 L277.80,450.00 L276.97,451.27 L275.76,452.76 L274.31,454.37 L272.80,456.00 L271.03,457.80 L268.99,459.77 L267.10,461.56 L265.80,462.80 L265.80,462.80 Z" fill="#f8868f" stroke="#333" stroke-width="0.35"/>
<line x1="254.63" y1="448.90" x2="265.80" y2="448.90" stroke="#111" stroke-width="0.65"/>
<line x1="265.80" y1="447.50" x2="277.50" y2="447.50" stroke="#222" stroke-width="0.65"/>
<line x1="265.80" y1="431.10" x2="265.80" y2="462.80" stroke="#222" stroke-width="0.35"/>
<path d="M291.80,436.10 L291.80,436.10 L291.74,435.98 L291.68,435.77 L291.43,435.82 L290.80,436.50 L289.51,438.09 L287.75,440.34 L285.99,442.79 L284.70,445.00 L284.12,446.90 L283.95,448.72 L283.91,450.43 L283.70,452.00 L283.24,453.39 L282.68,454.62 L282.11,455.80 L281.60,457.00 L281.08,458.29 L280.55,459.62 L280.17,460.88 L280.10,462.00 L280.33,462.98 L280.79,463.86 L281.58,464.58 L282.80,465.10 L284.82,465.34 L287.47,465.34 L290.04,465.25 L291.80,465.20 L291.80,465.20 Z" fill="#2c5a84" stroke="#333" stroke-width="0.35"/>
<path d="M291.80,436.30 L291.80,436.30 L292.29,436.12 L292.98,435.81 L293.81,435.78 L294.70,436.40 L295.70,437.99 L296.84,440.27 L297.98,442.76 L299.00,445.00 L299.90,446.84 L300.74,448.54 L301.49,450.22 L302.10,452.00 L302.59,454.02 L302.96,456.19 L303.20,458.26 L303.30,460.00 L303.20,461.35 L302.93,462.43 L302.59,463.30 L302.30,464.00 L302.29,464.50 L302.44,464.79 L302.32,464.96 L301.50,465.10 L299.47,465.20 L296.60,465.22 L293.75,465.21 L291.80,465.20 L291.80,465.20 Z" fill="#f8868f" stroke="#333" stroke-width="0.35"/>
<line x1="282.65" y1="455.30" x2="291.80" y2="455.30" stroke="#111" stroke-width="0.65"/>
<line x1="291.80" y1="453.50" x2="302.16" y2="453.50" stroke="#222" stroke-width="0.65"/>
<line x1="291.80" y1="436.10" x2="291.80" y2="465.20" stroke="#222" stroke-width="0.35"/>
<path d="M317.30,427.40 L317.30,427.40 L316.36,428.42 L315.03,429.89 L313.50,431.51 L312.00,433.00 L310.28,434.25 L308.34,435.41 L306.72,436.62 L306.00,438.00 L306.56,439.68 L308.03,441.56 L309.80,443.41 L311.30,445.00 L312.44,446.23 L313.51,447.24 L314.47,448.13 L315.30,449.00 L315.99,449.93 L316.55,450.85 L316.99,451.64 L317.30,452.20 L317.30,452.20 Z" fill="#2c5a84" stroke="#333" stroke-width="0.35"/>
<path d="M317.30,430.10 L317.30,430.10 L317.51,429.94 L317.79,429.66 L318.32,429.63 L319.30,430.20 L321.06,431.70 L323.41,433.86 L325.75,436.14 L327.50,438.00 L328.59,439.24 L329.30,440.18 L329.56,441.02 L329.30,442.00 L328.30,443.20 L326.68,444.50 L324.81,445.80 L323.10,447.00 L321.49,448.16 L319.81,449.31 L318.33,450.30 L317.30,451.00 L317.30,451.00 Z" fill="#f8868f" stroke="#333" stroke-width="0.35"/>
<line x1="308.12" y1="441.30" x2="317.30" y2="441.30" stroke="#111" stroke-width="0.65"/>
<line x1="317.30" y1="440.40" x2="329.07" y2="440.40" stroke="#222" stroke-width="0.65"/>
<line x1="317.30" y1="427.40" x2="317.30" y2="452.20" stroke="#222" stroke-width="0.35"/>
<text x="227.30" y="422.40" font-size="5.2" fill="#333" textLength="22.10" lengthAdjust="spacingAndGlyphs"><tspan font-style="italic">P</tspan> = 0.027</text>
<line x1="231.00" y1="423.20" x2="243.00" y2="423.20" stroke="#444" stroke-width="0.45"/>
<text x="253.40" y="422.40" font-size="5.2" fill="#333" textLength="27.00" lengthAdjust="spacingAndGlyphs"><tspan font-style="italic">P</tspan> = 0.0039</text>
<line x1="258.00" y1="423.20" x2="273.00" y2="423.20" stroke="#444" stroke-width="0.45"/>
<text x="219.30" y="478.30" font-size="6.9" text-anchor="end" fill="#222" transform="rotate(-45 219.30 478.30)">Naive CD8<tspan dy="-2.62" font-size="4.28">+</tspan><tspan dy="2.62"> T</tspan></text>
<text x="244.90" y="478.30" font-size="6.9" text-anchor="end" fill="#222" transform="rotate(-45 244.90 478.30)">Effector CD8<tspan dy="-2.62" font-size="4.28">+</tspan><tspan dy="2.62"> T</tspan></text>
<text x="270.70" y="478.30" font-size="6.9" text-anchor="end" fill="#222" transform="rotate(-45 270.70 478.30)"><tspan font-style="italic">PDCD1</tspan><tspan dy="-2.62" font-size="4.28">+</tspan><tspan dy="2.62"> CD8</tspan><tspan dy="-2.62" font-size="4.28">+</tspan><tspan dy="2.62"> T</tspan></text>
<text x="296.60" y="478.30" font-size="6.9" text-anchor="end" fill="#222" transform="rotate(-45 296.60 478.30)"><tspan font-style="italic">MKI67</tspan><tspan dy="-2.62" font-size="4.28">+</tspan><tspan dy="2.62"> CD8</tspan><tspan dy="-2.62" font-size="4.28">+</tspan><tspan dy="2.62"> T</tspan></text>
<text x="322.20" y="478.30" font-size="6.9" text-anchor="end" fill="#222" transform="rotate(-45 322.20 478.30)">Innate-like CD8<tspan dy="-2.62" font-size="4.28">+</tspan><tspan dy="2.62"> T</tspan></text>
<text x="321.00" y="499.34" font-size="6.5" textLength="15.30" lengthAdjust="spacingAndGlyphs">Time</text>
<circle cx="323.20" cy="504.00" r="2.00" fill="#2c5a84"/>
<circle cx="323.20" cy="511.30" r="2.00" fill="#f8868f"/>
<text x="328.40" y="505.94" font-size="6.5" textLength="16.87" lengthAdjust="spacingAndGlyphs">C1D1</text>
<text x="328.40" y="513.04" font-size="6.5" textLength="20.55" lengthAdjust="spacingAndGlyphs">C1D15</text>
<text x="345.20" y="212.00" font-size="12.5" fill="#000" font-weight="bold" stroke="#000" stroke-width="0.3">g</text>
<text x="362.00" y="221.82" font-size="7.0" textLength="61.99" lengthAdjust="spacingAndGlyphs">Gene expression</text>
<text x="362.00" y="231.02" font-size="7.0" textLength="62.00" lengthAdjust="spacingAndGlyphs">in <tspan font-style="italic">MKI67</tspan><tspan dy="-2.66" font-size="4.34">+</tspan><tspan dy="2.66"> CD8</tspan><tspan dy="-2.66" font-size="4.34">+</tspan><tspan dy="2.66"> T</tspan></text>
<rect x="356.20" y="234.20" width="36.00" height="5.70" fill="#1b8fe0"/>
<rect x="392.20" y="234.20" width="36.10" height="5.70" fill="#f9c602"/>
<rect x="356.20" y="239.90" width="18.00" height="5.40" fill="#3d6a90"/>
<rect x="374.20" y="239.90" width="18.00" height="5.40" fill="#f58a91"/>
<rect x="392.20" y="239.90" width="18.10" height="5.40" fill="#3d6a90"/>
<rect x="410.30" y="239.90" width="18.00" height="5.40" fill="#f58a91"/>
<rect x="356.45" y="247.45" width="17.50" height="9.90" fill="#f9d4d4"/>
<rect x="374.45" y="247.45" width="17.50" height="9.90" fill="#f49a98"/>
<rect x="392.45" y="247.45" width="17.60" height="9.90" fill="#fdf6f5"/>
<rect x="410.55" y="247.45" width="17.50" height="9.90" fill="#f4a0a0"/>
<text x="432.00" y="255.17" font-size="6.3" fill="#222" font-style="italic" textLength="21.03" lengthAdjust="spacingAndGlyphs">TRAT1</text>
<rect x="356.45" y="257.85" width="17.50" height="9.90" fill="#fadada"/>
<rect x="374.45" y="257.85" width="17.50" height="9.90" fill="#ef6a66"/>
<rect x="392.45" y="257.85" width="17.60" height="9.90" fill="#fbdcdc"/>
<rect x="410.55" y="257.85" width="17.50" height="9.90" fill="#fad8d8"/>
<text x="432.00" y="265.57" font-size="6.3" fill="#222" font-style="italic" textLength="18.14" lengthAdjust="spacingAndGlyphs">CD8A</text>
<rect x="356.45" y="268.25" width="17.50" height="9.90" fill="#fbe0e0"/>
<rect x="374.45" y="268.25" width="17.50" height="9.90" fill="#f07470"/>
<rect x="392.45" y="268.25" width="17.60" height="9.90" fill="#fce6e6"/>
<rect x="410.55" y="268.25" width="17.50" height="9.90" fill="#f6b8b8"/>
<text x="432.00" y="275.97" font-size="6.3" fill="#222" font-style="italic" textLength="18.14" lengthAdjust="spacingAndGlyphs">CD8B</text>
<rect x="356.45" y="278.65" width="17.50" height="9.90" fill="#f6b4b4"/>
<rect x="374.45" y="278.65" width="17.50" height="9.90" fill="#f07874"/>
<rect x="392.45" y="278.65" width="17.60" height="9.90" fill="#fad8d8"/>
<rect x="410.55" y="278.65" width="17.50" height="9.90" fill="#fdf2f2"/>
<text x="432.00" y="286.37" font-size="6.3" fill="#222" font-style="italic" textLength="20.02" lengthAdjust="spacingAndGlyphs">CTSW</text>
<rect x="356.45" y="289.05" width="17.50" height="9.90" fill="#f5b0b0"/>
<rect x="374.45" y="289.05" width="17.50" height="9.90" fill="#f07e7a"/>
<rect x="392.45" y="289.05" width="17.60" height="9.90" fill="#fef6f6"/>
<rect x="410.55" y="289.05" width="17.50" height="9.90" fill="#fbd4d4"/>
<text x="432.00" y="296.77" font-size="6.3" fill="#222" font-style="italic" textLength="17.89" lengthAdjust="spacingAndGlyphs">GNLY</text>
<rect x="356.45" y="299.45" width="17.50" height="9.90" fill="#fad4d4"/>
<rect x="374.45" y="299.45" width="17.50" height="9.90" fill="#f07c78"/>
<rect x="392.45" y="299.45" width="17.60" height="9.90" fill="#fef6f6"/>
<rect x="410.55" y="299.45" width="17.50" height="9.90" fill="#f7b8b8"/>
<text x="432.00" y="307.17" font-size="6.3" fill="#222" font-style="italic" textLength="19.64" lengthAdjust="spacingAndGlyphs">GZMA</text>
<rect x="356.45" y="309.85" width="17.50" height="9.90" fill="#fbd8d8"/>
<rect x="374.45" y="309.85" width="17.50" height="9.90" fill="#ec6462"/>
<rect x="392.45" y="309.85" width="17.60" height="9.90" fill="#fde6e6"/>
<rect x="410.55" y="309.85" width="17.50" height="9.90" fill="#fbd4d4"/>
<text x="432.00" y="317.57" font-size="6.3" fill="#222" font-style="italic" textLength="19.64" lengthAdjust="spacingAndGlyphs">GZMB</text>
<rect x="356.45" y="320.25" width="17.50" height="9.90" fill="#fad2d2"/>
<rect x="374.45" y="320.25" width="17.50" height="9.90" fill="#f49a98"/>
<rect x="392.45" y="320.25" width="17.60" height="9.90" fill="#fefafa"/>
<rect x="410.55" y="320.25" width="17.50" height="9.90" fill="#f49c9a"/>
<text x="432.00" y="327.97" font-size="6.3" fill="#222" font-style="italic" textLength="20.02" lengthAdjust="spacingAndGlyphs">GZMH</text>
<rect x="356.45" y="330.65" width="17.50" height="9.90" fill="#ee6e6a"/>
<rect x="374.45" y="330.65" width="17.50" height="9.90" fill="#fad4d4"/>
<rect x="392.45" y="330.65" width="17.60" height="9.90" fill="#fef4f4"/>
<rect x="410.55" y="330.65" width="17.50" height="9.90" fill="#f8c4c4"/>
<text x="432.00" y="338.37" font-size="6.3" fill="#222" font-style="italic" textLength="21.55" lengthAdjust="spacingAndGlyphs">KLRB1</text>
<rect x="356.45" y="341.05" width="17.50" height="9.90" fill="#ee6a66"/>
<rect x="374.45" y="341.05" width="17.50" height="9.90" fill="#fce4e4"/>
<rect x="392.45" y="341.05" width="17.60" height="9.90" fill="#f6b0b0"/>
<rect x="410.55" y="341.05" width="17.50" height="9.90" fill="#fdeeee"/>
<text x="432.00" y="348.77" font-size="6.3" fill="#222" font-style="italic" textLength="21.92" lengthAdjust="spacingAndGlyphs">KLRD1</text>
<rect x="356.45" y="351.45" width="17.50" height="9.90" fill="#f49c9a"/>
<rect x="374.45" y="351.45" width="17.50" height="9.90" fill="#f6b4b4"/>
<rect x="392.45" y="351.45" width="17.60" height="9.90" fill="#f4a4a4"/>
<rect x="410.55" y="351.45" width="17.50" height="9.90" fill="#ffffff"/>
<text x="432.00" y="359.17" font-size="6.3" fill="#222" font-style="italic" textLength="21.55" lengthAdjust="spacingAndGlyphs">KLRK1</text>
<rect x="356.45" y="361.85" width="17.50" height="9.90" fill="#fad4d4"/>
<rect x="374.45" y="361.85" width="17.50" height="9.90" fill="#ee6a66"/>
<rect x="392.45" y="361.85" width="17.60" height="9.90" fill="#fdecec"/>
<rect x="410.55" y="361.85" width="17.50" height="9.90" fill="#f8c4c4"/>
<text x="432.00" y="369.57" font-size="6.3" fill="#222" font-style="italic" textLength="17.38" lengthAdjust="spacingAndGlyphs">PRF1</text>
<rect x="356.45" y="372.25" width="17.50" height="9.90" fill="#fdeeee"/>
<rect x="374.45" y="372.25" width="17.50" height="9.90" fill="#ee6a66"/>
<rect x="392.45" y="372.25" width="17.60" height="9.90" fill="#fbd8d8"/>
<rect x="410.55" y="372.25" width="17.50" height="9.90" fill="#f8c4c4"/>
<text x="432.00" y="379.97" font-size="6.3" fill="#222" font-style="italic" textLength="18.52" lengthAdjust="spacingAndGlyphs">NKG7</text>
<rect x="356.45" y="382.65" width="17.50" height="9.90" fill="#f9cccc"/>
<rect x="374.45" y="382.65" width="17.50" height="9.90" fill="#f28c8a"/>
<rect x="392.45" y="382.65" width="17.60" height="9.90" fill="#f4a4a4"/>
<rect x="410.55" y="382.65" width="17.50" height="9.90" fill="#fef8f8"/>
<text x="432.00" y="390.37" font-size="6.3" fill="#222" font-style="italic" textLength="21.17" lengthAdjust="spacingAndGlyphs">CD244</text>
<rect x="356.45" y="393.05" width="17.50" height="9.90" fill="#f8c0c0"/>
<rect x="374.45" y="393.05" width="17.50" height="9.90" fill="#fdf0f0"/>
<rect x="392.45" y="393.05" width="17.60" height="9.90" fill="#ee6a66"/>
<rect x="410.55" y="393.05" width="17.50" height="9.90" fill="#fce0e0"/>
<text x="432.00" y="400.77" font-size="6.3" fill="#222" font-style="italic" textLength="24.56" lengthAdjust="spacingAndGlyphs">EOMES</text>
<rect x="356.45" y="403.45" width="17.50" height="9.90" fill="#fef6f6"/>
<rect x="374.45" y="403.45" width="17.50" height="9.90" fill="#f28884"/>
<rect x="392.45" y="403.45" width="17.60" height="9.90" fill="#fce4e4"/>
<rect x="410.55" y="403.45" width="17.50" height="9.90" fill="#f6a8a8"/>
<text x="432.00" y="411.17" font-size="6.3" fill="#222" font-style="italic" textLength="17.39" lengthAdjust="spacingAndGlyphs">LAG3</text>
<rect x="356.45" y="413.85" width="17.50" height="9.90" fill="#f49c9a"/>
<rect x="374.45" y="413.85" width="17.50" height="9.90" fill="#fad8d8"/>
<rect x="392.45" y="413.85" width="17.60" height="9.90" fill="#fef6f6"/>
<rect x="410.55" y="413.85" width="17.50" height="9.90" fill="#f49c9a"/>
<text x="432.00" y="421.57" font-size="6.3" fill="#222" font-style="italic" textLength="27.21" lengthAdjust="spacingAndGlyphs">PTGER4</text>
<rect x="344.40" y="247.70" width="9.60" height="30.20" fill="#fff" stroke="#9a9a9a" stroke-width="0.6"/>
<text x="352.00" y="261.30" font-size="7.0" text-anchor="middle" textLength="13.00" lengthAdjust="spacingAndGlyphs" transform="rotate(-90 352.00 261.30)">CD8</text>
<rect x="344.40" y="278.90" width="9.60" height="103.00" fill="#fff" stroke="#9a9a9a" stroke-width="0.6"/>
<text x="352.00" y="329.00" font-size="7.0" text-anchor="middle" textLength="35.80" lengthAdjust="spacingAndGlyphs" transform="rotate(-90 352.00 329.00)">Cytotoxic</text>
<rect x="344.40" y="382.90" width="9.60" height="40.60" fill="#fff" stroke="#9a9a9a" stroke-width="0.6"/>
<text x="352.00" y="402.30" font-size="7.0" text-anchor="middle" textLength="23.80" lengthAdjust="spacingAndGlyphs" transform="rotate(-90 352.00 402.30)">CD8Ex</text>
<text x="359.90" y="462.60" font-size="6.4" text-anchor="middle" textLength="24.50" lengthAdjust="spacingAndGlyphs" transform="rotate(-90 359.90 462.60)">Relative</text>
<text x="366.80" y="462.60" font-size="6.4" text-anchor="middle" textLength="50.00" lengthAdjust="spacingAndGlyphs" transform="rotate(-90 366.80 462.60)">gene expression</text>
<defs><linearGradient id="hg" x1="0" y1="0" x2="0" y2="1"><stop offset="0" stop-color="#ee6a66"/><stop offset="0.5" stop-color="#f9cccc"/><stop offset="1" stop-color="#ffffff"/></linearGradient></defs>
<rect x="371.70" y="449.20" width="4.20" height="21.00" fill="url(#hg)"/>
<text x="380.40" y="452.74" font-size="6.5" textLength="3.78" lengthAdjust="spacingAndGlyphs">2</text>
<text x="380.40" y="463.94" font-size="6.5" textLength="3.78" lengthAdjust="spacingAndGlyphs">0</text>
<text x="379.60" y="475.84" font-size="6.5" textLength="7.75" lengthAdjust="spacingAndGlyphs">−2</text>
<text x="403.30" y="443.97" font-size="6.3" textLength="31.07" lengthAdjust="spacingAndGlyphs">Response</text>
<circle cx="406.10" cy="451.10" r="1.90" fill="#1b8fe0"/>
<text x="411.90" y="453.07" font-size="6.3" textLength="28.39" lengthAdjust="spacingAndGlyphs">LR group</text>
<circle cx="406.10" cy="458.10" r="1.90" fill="#f9c602"/>
<text x="411.90" y="460.07" font-size="6.3" textLength="28.65" lengthAdjust="spacingAndGlyphs">EP group</text>
<text x="403.30" y="475.57" font-size="6.3" textLength="15.08" lengthAdjust="spacingAndGlyphs">Time</text>
<circle cx="406.10" cy="481.20" r="1.90" fill="#3d6a90"/>
<text x="411.90" y="483.17" font-size="6.3" textLength="17.64" lengthAdjust="spacingAndGlyphs">C1D1</text>
<circle cx="406.10" cy="487.80" r="1.90" fill="#f58a91"/>
<text x="411.90" y="489.77" font-size="6.3" textLength="21.48" lengthAdjust="spacingAndGlyphs">C1D15</text>
<text x="469.60" y="212.70" font-size="10" fill="#000" font-weight="bold" stroke="#000" stroke-width="0.3">h</text>
<line x1="508.50" y1="217.70" x2="508.50" y2="313.40" stroke="#555" stroke-width="0.6"/>
<line x1="508.50" y1="313.40" x2="570.70" y2="313.40" stroke="#555" stroke-width="0.6"/>
<line x1="506.30" y1="313.40" x2="508.50" y2="313.40" stroke="#555" stroke-width="0.6"/>
<text x="501.80" y="315.85" font-size="6.8" text-anchor="end" fill="#333" textLength="4.23" lengthAdjust="spacingAndGlyphs">0</text>
<line x1="506.30" y1="292.75" x2="508.50" y2="292.75" stroke="#555" stroke-width="0.6"/>
<text x="501.80" y="295.20" font-size="6.8" text-anchor="end" fill="#333" textLength="4.23" lengthAdjust="spacingAndGlyphs">5</text>
<line x1="506.30" y1="272.10" x2="508.50" y2="272.10" stroke="#555" stroke-width="0.6"/>
<text x="501.80" y="274.55" font-size="6.8" text-anchor="end" fill="#333" textLength="8.45" lengthAdjust="spacingAndGlyphs">10</text>
<line x1="506.30" y1="251.45" x2="508.50" y2="251.45" stroke="#555" stroke-width="0.6"/>
<text x="501.80" y="253.90" font-size="6.8" text-anchor="end" fill="#333" textLength="8.45" lengthAdjust="spacingAndGlyphs">15</text>
<line x1="506.30" y1="230.80" x2="508.50" y2="230.80" stroke="#555" stroke-width="0.6"/>
<text x="501.80" y="233.25" font-size="6.8" text-anchor="end" fill="#333" textLength="8.45" lengthAdjust="spacingAndGlyphs">20</text>
<rect x="512.80" y="305.97" width="8.70" height="7.43" fill="#fff" stroke="#444" stroke-width="0.55"/>
<line x1="517.15" y1="303.47" x2="517.15" y2="309.27" stroke="#444" stroke-width="0.55"/>
<line x1="515.35" y1="303.47" x2="518.95" y2="303.47" stroke="#444" stroke-width="0.55"/>
<line x1="515.35" y1="309.27" x2="518.95" y2="309.27" stroke="#444" stroke-width="0.55"/>
<circle cx="517.81" cy="300.50" r="1.50" fill="#2f5f8f" stroke="#1a3050" stroke-width="0.35"/>
<circle cx="517.02" cy="302.00" r="1.50" fill="#2f5f8f" stroke="#1a3050" stroke-width="0.35"/>
<circle cx="516.07" cy="303.50" r="1.50" fill="#2f5f8f" stroke="#1a3050" stroke-width="0.35"/>
<circle cx="516.87" cy="305.00" r="1.50" fill="#2f5f8f" stroke="#1a3050" stroke-width="0.35"/>
<circle cx="516.92" cy="306.00" r="1.50" fill="#2f5f8f" stroke="#1a3050" stroke-width="0.35"/>
<circle cx="517.40" cy="307.50" r="1.50" fill="#2f5f8f" stroke="#1a3050" stroke-width="0.35"/>
<circle cx="515.79" cy="308.50" r="1.50" fill="#2f5f8f" stroke="#1a3050" stroke-width="0.35"/>
<circle cx="516.44" cy="304.00" r="1.50" fill="#2f5f8f" stroke="#1a3050" stroke-width="0.35"/>
<rect x="525.40" y="279.20" width="8.30" height="34.20" fill="#fff" stroke="#444" stroke-width="0.55"/>
<line x1="529.55" y1="252.50" x2="529.55" y2="305.60" stroke="#444" stroke-width="0.55"/>
<line x1="527.75" y1="252.50" x2="531.35" y2="252.50" stroke="#444" stroke-width="0.55"/>
<line x1="527.75" y1="305.60" x2="531.35" y2="305.60" stroke="#444" stroke-width="0.55"/>
<circle cx="529.55" cy="232.40" r="1.50" fill="#e0559a" stroke="#8a2a5a" stroke-width="0.35"/>
<circle cx="529.55" cy="265.70" r="1.50" fill="#e0559a" stroke="#8a2a5a" stroke-width="0.35"/>
<circle cx="529.55" cy="270.50" r="1.50" fill="#e0559a" stroke="#8a2a5a" stroke-width="0.35"/>
<circle cx="529.55" cy="275.90" r="1.50" fill="#e0559a" stroke="#8a2a5a" stroke-width="0.35"/>
<circle cx="529.55" cy="297.50" r="1.50" fill="#e0559a" stroke="#8a2a5a" stroke-width="0.35"/>
<circle cx="529.55" cy="302.70" r="1.50" fill="#e0559a" stroke="#8a2a5a" stroke-width="0.35"/>
<circle cx="529.55" cy="308.10" r="1.50" fill="#e0559a" stroke="#8a2a5a" stroke-width="0.35"/>
<rect x="545.60" y="306.60" width="8.70" height="6.80" fill="#fff" stroke="#444" stroke-width="0.55"/>
<line x1="549.95" y1="296.60" x2="549.95" y2="311.00" stroke="#444" stroke-width="0.55"/>
<line x1="548.15" y1="296.60" x2="551.75" y2="296.60" stroke="#444" stroke-width="0.55"/>
<line x1="548.15" y1="311.00" x2="551.75" y2="311.00" stroke="#444" stroke-width="0.55"/>
<circle cx="549.95" cy="284.00" r="1.50" fill="#2f5f8f" stroke="#1a3050" stroke-width="0.35"/>
<circle cx="548.69" cy="305.00" r="1.50" fill="#2f5f8f" stroke="#1a3050" stroke-width="0.35"/>
<circle cx="548.13" cy="306.50" r="1.50" fill="#2f5f8f" stroke="#1a3050" stroke-width="0.35"/>
<circle cx="548.17" cy="307.50" r="1.50" fill="#2f5f8f" stroke="#1a3050" stroke-width="0.35"/>
<circle cx="551.12" cy="308.50" r="1.50" fill="#2f5f8f" stroke="#1a3050" stroke-width="0.35"/>
<circle cx="550.55" cy="309.50" r="1.50" fill="#2f5f8f" stroke="#1a3050" stroke-width="0.35"/>
<circle cx="547.76" cy="310.50" r="1.50" fill="#2f5f8f" stroke="#1a3050" stroke-width="0.35"/>
<circle cx="549.10" cy="304.00" r="1.50" fill="#2f5f8f" stroke="#1a3050" stroke-width="0.35"/>
<rect x="558.20" y="301.80" width="8.30" height="11.60" fill="#fff" stroke="#444" stroke-width="0.55"/>
<line x1="562.35" y1="294.60" x2="562.35" y2="308.50" stroke="#444" stroke-width="0.55"/>
<line x1="560.55" y1="294.60" x2="564.15" y2="294.60" stroke="#444" stroke-width="0.55"/>
<line x1="560.55" y1="308.50" x2="564.15" y2="308.50" stroke="#444" stroke-width="0.55"/>
<circle cx="562.35" cy="286.70" r="1.50" fill="#e0559a" stroke="#8a2a5a" stroke-width="0.35"/>
<circle cx="562.35" cy="296.00" r="1.50" fill="#e0559a" stroke="#8a2a5a" stroke-width="0.35"/>
<circle cx="560.68" cy="300.00" r="1.50" fill="#e0559a" stroke="#8a2a5a" stroke-width="0.35"/>
<circle cx="562.72" cy="302.50" r="1.50" fill="#e0559a" stroke="#8a2a5a" stroke-width="0.35"/>
<circle cx="560.46" cy="304.50" r="1.50" fill="#e0559a" stroke="#8a2a5a" stroke-width="0.35"/>
<circle cx="562.27" cy="306.50" r="1.50" fill="#e0559a" stroke="#8a2a5a" stroke-width="0.35"/>
<circle cx="563.47" cy="308.00" r="1.50" fill="#e0559a" stroke="#8a2a5a" stroke-width="0.35"/>
<circle cx="564.42" cy="309.50" r="1.50" fill="#e0559a" stroke="#8a2a5a" stroke-width="0.35"/>
<text x="523.40" y="326.08" font-size="6.6" text-anchor="middle" fill="#333" textLength="9.08" lengthAdjust="spacingAndGlyphs">LR</text>
<text x="523.40" y="335.48" font-size="6.6" text-anchor="middle" fill="#333" textLength="18.16" lengthAdjust="spacingAndGlyphs">group</text>
<text x="555.40" y="326.08" font-size="6.6" text-anchor="middle" fill="#333" textLength="9.47" lengthAdjust="spacingAndGlyphs">EP</text>
<text x="555.40" y="335.48" font-size="6.6" text-anchor="middle" fill="#333" textLength="18.16" lengthAdjust="spacingAndGlyphs">group</text>
<text x="511.90" y="222.80" font-size="5.0" fill="#333" textLength="25.40" lengthAdjust="spacingAndGlyphs"><tspan font-style="italic">P</tspan> = 0.0313</text>
<line x1="516.50" y1="224.60" x2="529.40" y2="224.60" stroke="#444" stroke-width="0.45"/>
<text x="487.80" y="265.10" font-size="7.0" text-anchor="middle" fill="#222" textLength="82.00" lengthAdjust="spacingAndGlyphs" transform="rotate(-90 487.80 265.10)">Ki-67<tspan dy="-2.66" font-size="4.34">+</tspan><tspan dy="2.66"> cells/CD8</tspan><tspan dy="-2.66" font-size="4.34">+</tspan><tspan dy="2.66"> T (%)</tspan></text>
<line x1="614.70" y1="218.90" x2="614.70" y2="313.00" stroke="#555" stroke-width="0.6"/>
<line x1="614.70" y1="313.00" x2="674.20" y2="313.00" stroke="#555" stroke-width="0.6"/>
<line x1="612.50" y1="313.00" x2="614.70" y2="313.00" stroke="#555" stroke-width="0.6"/>
<text x="608.50" y="315.45" font-size="6.8" text-anchor="end" fill="#333" textLength="4.23" lengthAdjust="spacingAndGlyphs">0</text>
<line x1="612.50" y1="289.40" x2="614.70" y2="289.40" stroke="#555" stroke-width="0.6"/>
<text x="608.50" y="291.85" font-size="6.8" text-anchor="end" fill="#333" textLength="8.45" lengthAdjust="spacingAndGlyphs">20</text>
<line x1="612.50" y1="265.80" x2="614.70" y2="265.80" stroke="#555" stroke-width="0.6"/>
<text x="608.50" y="268.25" font-size="6.8" text-anchor="end" fill="#333" textLength="8.45" lengthAdjust="spacingAndGlyphs">40</text>
<line x1="612.50" y1="242.20" x2="614.70" y2="242.20" stroke="#555" stroke-width="0.6"/>
<text x="608.50" y="244.65" font-size="6.8" text-anchor="end" fill="#333" textLength="8.45" lengthAdjust="spacingAndGlyphs">60</text>
<line x1="612.50" y1="218.60" x2="614.70" y2="218.60" stroke="#555" stroke-width="0.6"/>
<text x="608.50" y="221.05" font-size="6.8" text-anchor="end" fill="#333" textLength="8.45" lengthAdjust="spacingAndGlyphs">80</text>
<rect x="620.10" y="300.50" width="8.70" height="12.50" fill="#fff" stroke="#444" stroke-width="0.55"/>
<line x1="624.45" y1="291.90" x2="624.45" y2="307.00" stroke="#444" stroke-width="0.55"/>
<line x1="622.65" y1="291.90" x2="626.25" y2="291.90" stroke="#444" stroke-width="0.55"/>
<line x1="622.65" y1="307.00" x2="626.25" y2="307.00" stroke="#444" stroke-width="0.55"/>
<circle cx="625.64" cy="296.00" r="1.50" fill="#2f5f8f" stroke="#1a3050" stroke-width="0.35"/>
<circle cx="622.28" cy="298.50" r="1.50" fill="#2f5f8f" stroke="#1a3050" stroke-width="0.35"/>
<circle cx="626.65" cy="301.00" r="1.50" fill="#2f5f8f" stroke="#1a3050" stroke-width="0.35"/>
<circle cx="622.70" cy="303.00" r="1.50" fill="#2f5f8f" stroke="#1a3050" stroke-width="0.35"/>
<circle cx="623.87" cy="305.50" r="1.50" fill="#2f5f8f" stroke="#1a3050" stroke-width="0.35"/>
<circle cx="626.46" cy="308.00" r="1.50" fill="#2f5f8f" stroke="#1a3050" stroke-width="0.35"/>
<circle cx="622.91" cy="309.50" r="1.50" fill="#2f5f8f" stroke="#1a3050" stroke-width="0.35"/>
<rect x="632.30" y="268.90" width="8.10" height="44.10" fill="#fff" stroke="#444" stroke-width="0.55"/>
<line x1="636.35" y1="244.10" x2="636.35" y2="293.20" stroke="#444" stroke-width="0.55"/>
<line x1="634.55" y1="244.10" x2="638.15" y2="244.10" stroke="#444" stroke-width="0.55"/>
<line x1="634.55" y1="293.20" x2="638.15" y2="293.20" stroke="#444" stroke-width="0.55"/>
<circle cx="636.35" cy="228.90" r="1.50" fill="#e0559a" stroke="#8a2a5a" stroke-width="0.35"/>
<circle cx="636.35" cy="249.20" r="1.50" fill="#e0559a" stroke="#8a2a5a" stroke-width="0.35"/>
<circle cx="634.85" cy="267.60" r="1.50" fill="#e0559a" stroke="#8a2a5a" stroke-width="0.35"/>
<circle cx="637.85" cy="275.70" r="1.50" fill="#e0559a" stroke="#8a2a5a" stroke-width="0.35"/>
<circle cx="636.35" cy="278.40" r="1.50" fill="#e0559a" stroke="#8a2a5a" stroke-width="0.35"/>
<circle cx="636.35" cy="306.20" r="1.50" fill="#e0559a" stroke="#8a2a5a" stroke-width="0.35"/>
<rect x="652.60" y="304.90" width="8.10" height="8.10" fill="#fff" stroke="#444" stroke-width="0.55"/>
<line x1="656.65" y1="296.00" x2="656.65" y2="310.00" stroke="#444" stroke-width="0.55"/>
<line x1="654.85" y1="296.00" x2="658.45" y2="296.00" stroke="#444" stroke-width="0.55"/>
<line x1="654.85" y1="310.00" x2="658.45" y2="310.00" stroke="#444" stroke-width="0.55"/>
<circle cx="656.65" cy="285.10" r="1.50" fill="#2f5f8f" stroke="#1a3050" stroke-width="0.35"/>
<circle cx="656.11" cy="302.00" r="1.50" fill="#2f5f8f" stroke="#1a3050" stroke-width="0.35"/>
<circle cx="654.90" cy="304.00" r="1.50" fill="#2f5f8f" stroke="#1a3050" stroke-width="0.35"/>
<circle cx="658.37" cy="305.50" r="1.50" fill="#2f5f8f" stroke="#1a3050" stroke-width="0.35"/>
<circle cx="658.43" cy="307.00" r="1.50" fill="#2f5f8f" stroke="#1a3050" stroke-width="0.35"/>
<circle cx="658.51" cy="308.50" r="1.50" fill="#2f5f8f" stroke="#1a3050" stroke-width="0.35"/>
<circle cx="657.44" cy="310.00" r="1.50" fill="#2f5f8f" stroke="#1a3050" stroke-width="0.35"/>
<rect x="664.20" y="291.10" width="8.60" height="21.90" fill="#fff" stroke="#444" stroke-width="0.55"/>
<line x1="668.50" y1="276.50" x2="668.50" y2="304.00" stroke="#444" stroke-width="0.55"/>
<line x1="666.70" y1="276.50" x2="670.30" y2="276.50" stroke="#444" stroke-width="0.55"/>
<line x1="666.70" y1="304.00" x2="670.30" y2="304.00" stroke="#444" stroke-width="0.55"/>
<circle cx="668.50" cy="258.10" r="1.50" fill="#e0559a" stroke="#8a2a5a" stroke-width="0.35"/>
<circle cx="668.50" cy="283.20" r="1.50" fill="#e0559a" stroke="#8a2a5a" stroke-width="0.35"/>
<circle cx="670.48" cy="295.00" r="1.50" fill="#e0559a" stroke="#8a2a5a" stroke-width="0.35"/>
<circle cx="669.02" cy="297.50" r="1.50" fill="#e0559a" stroke="#8a2a5a" stroke-width="0.35"/>
<circle cx="670.41" cy="299.50" r="1.50" fill="#e0559a" stroke="#8a2a5a" stroke-width="0.35"/>
<circle cx="668.07" cy="301.50" r="1.50" fill="#e0559a" stroke="#8a2a5a" stroke-width="0.35"/>
<circle cx="666.37" cy="304.00" r="1.50" fill="#e0559a" stroke="#8a2a5a" stroke-width="0.35"/>
<text x="630.50" y="325.68" font-size="6.6" text-anchor="middle" fill="#333" textLength="9.08" lengthAdjust="spacingAndGlyphs">LR</text>
<text x="630.50" y="335.38" font-size="6.6" text-anchor="middle" fill="#333" textLength="18.16" lengthAdjust="spacingAndGlyphs">group</text>
<text x="662.60" y="325.68" font-size="6.6" text-anchor="middle" fill="#333" textLength="9.47" lengthAdjust="spacingAndGlyphs">EP</text>
<text x="662.60" y="335.38" font-size="6.6" text-anchor="middle" fill="#333" textLength="18.16" lengthAdjust="spacingAndGlyphs">group</text>
<text x="617.50" y="221.30" font-size="5.0" fill="#333" textLength="26.70" lengthAdjust="spacingAndGlyphs"><tspan font-style="italic">P</tspan> = 0.0313</text>
<line x1="621.00" y1="222.60" x2="635.00" y2="222.60" stroke="#444" stroke-width="0.45"/>
<text x="641.00" y="210.90" font-size="5.0" fill="#333" textLength="26.10" lengthAdjust="spacingAndGlyphs"><tspan font-style="italic">P</tspan> = 0.0721</text>
<line x1="639.50" y1="213.80" x2="670.90" y2="213.80" stroke="#444" stroke-width="0.45"/>
<text x="583.70" y="266.20" font-size="7.0" text-anchor="middle" fill="#222" textLength="64.00" lengthAdjust="spacingAndGlyphs" transform="rotate(-90 583.70 266.20)">Ki-67<tspan dy="-2.66" font-size="4.34">+</tspan><tspan dy="2.66"> cells/PD-1</tspan><tspan dy="-2.66" font-size="4.34">+</tspan><tspan dy="2.66"></tspan></text>
<text x="592.80" y="266.30" font-size="7.0" text-anchor="middle" fill="#222" textLength="37.50" lengthAdjust="spacingAndGlyphs" transform="rotate(-90 592.80 266.30)">CD8<tspan dy="-2.66" font-size="4.34">+</tspan><tspan dy="2.66"> T (%)</tspan></text>
<text x="466.80" y="359.70" font-size="10" fill="#000" font-weight="bold" stroke="#000" stroke-width="0.3">i</text>
<text x="611.40" y="348.40" font-size="6.4" fill="#222" textLength="14.86" lengthAdjust="spacingAndGlyphs">Time</text>
<circle cx="632.30" cy="346.10" r="2.00" fill="#2f5f8f"/>
<text x="637.40" y="348.40" font-size="6.4" fill="#222" textLength="15.34" lengthAdjust="spacingAndGlyphs">C1D1</text>
<circle cx="661.00" cy="346.10" r="2.00" fill="#f08aaa"/>
<text x="666.10" y="348.40" font-size="6.4" fill="#222" textLength="18.37" lengthAdjust="spacingAndGlyphs">C1D15</text>
<text x="611.40" y="502.10" font-size="6.4" fill="#222" textLength="14.86" lengthAdjust="spacingAndGlyphs">Time</text>
<circle cx="632.30" cy="499.80" r="2.00" fill="#2f5f8f"/>
<text x="637.40" y="502.10" font-size="6.4" fill="#222" textLength="15.34" lengthAdjust="spacingAndGlyphs">C1D1</text>
<circle cx="661.00" cy="499.80" r="2.00" fill="#f08aaa"/>
<text x="666.10" y="502.10" font-size="6.4" fill="#222" textLength="18.37" lengthAdjust="spacingAndGlyphs">C1D15</text>
<line x1="508.00" y1="366.90" x2="508.00" y2="467.30" stroke="#555" stroke-width="0.6"/>
<line x1="508.00" y1="467.30" x2="570.40" y2="467.30" stroke="#555" stroke-width="0.6"/>
<line x1="505.80" y1="467.30" x2="508.00" y2="467.30" stroke="#555" stroke-width="0.6"/>
<text x="501.30" y="469.75" font-size="6.8" text-anchor="end" fill="#333" textLength="4.23" lengthAdjust="spacingAndGlyphs">0</text>
<line x1="505.80" y1="447.24" x2="508.00" y2="447.24" stroke="#555" stroke-width="0.6"/>
<text x="501.30" y="449.69" font-size="6.8" text-anchor="end" fill="#333" textLength="8.45" lengthAdjust="spacingAndGlyphs">20</text>
<line x1="505.80" y1="427.18" x2="508.00" y2="427.18" stroke="#555" stroke-width="0.6"/>
<text x="501.30" y="429.63" font-size="6.8" text-anchor="end" fill="#333" textLength="8.45" lengthAdjust="spacingAndGlyphs">40</text>
<line x1="505.80" y1="407.12" x2="508.00" y2="407.12" stroke="#555" stroke-width="0.6"/>
<text x="501.30" y="409.57" font-size="6.8" text-anchor="end" fill="#333" textLength="8.45" lengthAdjust="spacingAndGlyphs">60</text>
<line x1="505.80" y1="387.06" x2="508.00" y2="387.06" stroke="#555" stroke-width="0.6"/>
<text x="501.30" y="389.51" font-size="6.8" text-anchor="end" fill="#333" textLength="8.45" lengthAdjust="spacingAndGlyphs">80</text>
<line x1="505.80" y1="367.00" x2="508.00" y2="367.00" stroke="#555" stroke-width="0.6"/>
<text x="501.30" y="369.45" font-size="6.8" text-anchor="end" fill="#333" textLength="12.68" lengthAdjust="spacingAndGlyphs">100</text>
<rect x="512.40" y="416.30" width="9.30" height="51.00" fill="#fff" stroke="#444" stroke-width="0.55"/>
<line x1="517.05" y1="398.10" x2="517.05" y2="434.80" stroke="#444" stroke-width="0.55"/>
<line x1="515.25" y1="398.10" x2="518.85" y2="398.10" stroke="#444" stroke-width="0.55"/>
<line x1="515.25" y1="434.80" x2="518.85" y2="434.80" stroke="#444" stroke-width="0.55"/>
<circle cx="517.05" cy="389.20" r="1.50" fill="#2f5f8f" stroke="#1a3050" stroke-width="0.35"/>
<circle cx="515.55" cy="407.70" r="1.50" fill="#2f5f8f" stroke="#1a3050" stroke-width="0.35"/>
<circle cx="518.55" cy="410.90" r="1.50" fill="#2f5f8f" stroke="#1a3050" stroke-width="0.35"/>
<circle cx="517.05" cy="419.50" r="1.50" fill="#2f5f8f" stroke="#1a3050" stroke-width="0.35"/>
<circle cx="517.05" cy="429.70" r="1.50" fill="#2f5f8f" stroke="#1a3050" stroke-width="0.35"/>
<circle cx="517.05" cy="444.10" r="1.50" fill="#2f5f8f" stroke="#1a3050" stroke-width="0.35"/>
<rect x="524.80" y="408.30" width="9.00" height="59.00" fill="#fff" stroke="#444" stroke-width="0.55"/>
<line x1="529.30" y1="390.20" x2="529.30" y2="425.20" stroke="#444" stroke-width="0.55"/>
<line x1="527.50" y1="390.20" x2="531.10" y2="390.20" stroke="#444" stroke-width="0.55"/>
<line x1="527.50" y1="425.20" x2="531.10" y2="425.20" stroke="#444" stroke-width="0.55"/>
<circle cx="529.30" cy="375.50" r="1.50" fill="#e0559a" stroke="#8a2a5a" stroke-width="0.35"/>
<circle cx="527.80" cy="401.00" r="1.50" fill="#e0559a" stroke="#8a2a5a" stroke-width="0.35"/>
<circle cx="530.80" cy="403.60" r="1.50" fill="#e0559a" stroke="#8a2a5a" stroke-width="0.35"/>
<circle cx="529.30" cy="412.50" r="1.50" fill="#e0559a" stroke="#8a2a5a" stroke-width="0.35"/>
<circle cx="527.80" cy="416.30" r="1.50" fill="#e0559a" stroke="#8a2a5a" stroke-width="0.35"/>
<circle cx="530.80" cy="419.50" r="1.50" fill="#e0559a" stroke="#8a2a5a" stroke-width="0.35"/>
<circle cx="529.30" cy="420.50" r="1.50" fill="#e0559a" stroke="#8a2a5a" stroke-width="0.35"/>
<rect x="545.60" y="430.00" width="8.90" height="37.30" fill="#fff" stroke="#444" stroke-width="0.55"/>
<line x1="550.05" y1="412.50" x2="550.05" y2="447.60" stroke="#444" stroke-width="0.55"/>
<line x1="548.25" y1="412.50" x2="551.85" y2="412.50" stroke="#444" stroke-width="0.55"/>
<line x1="548.25" y1="447.60" x2="551.85" y2="447.60" stroke="#444" stroke-width="0.55"/>
<circle cx="550.05" cy="407.40" r="1.50" fill="#2f5f8f" stroke="#1a3050" stroke-width="0.35"/>
<circle cx="548.55" cy="421.70" r="1.50" fill="#2f5f8f" stroke="#1a3050" stroke-width="0.35"/>
<circle cx="551.55" cy="423.60" r="1.50" fill="#2f5f8f" stroke="#1a3050" stroke-width="0.35"/>
<circle cx="550.05" cy="436.40" r="1.50" fill="#2f5f8f" stroke="#1a3050" stroke-width="0.35"/>
<circle cx="550.05" cy="447.20" r="1.50" fill="#2f5f8f" stroke="#1a3050" stroke-width="0.35"/>
<circle cx="550.05" cy="459.40" r="1.50" fill="#2f5f8f" stroke="#1a3050" stroke-width="0.35"/>
<rect x="558.30" y="425.20" width="9.00" height="42.10" fill="#fff" stroke="#444" stroke-width="0.55"/>
<line x1="562.80" y1="406.70" x2="562.80" y2="443.40" stroke="#444" stroke-width="0.55"/>
<line x1="561.00" y1="406.70" x2="564.60" y2="406.70" stroke="#444" stroke-width="0.55"/>
<line x1="561.00" y1="443.40" x2="564.60" y2="443.40" stroke="#444" stroke-width="0.55"/>
<circle cx="562.80" cy="400.40" r="1.50" fill="#e0559a" stroke="#8a2a5a" stroke-width="0.35"/>
<circle cx="561.30" cy="412.20" r="1.50" fill="#e0559a" stroke="#8a2a5a" stroke-width="0.35"/>
<circle cx="564.60" cy="413.80" r="1.50" fill="#e0559a" stroke="#8a2a5a" stroke-width="0.35"/>
<circle cx="561.80" cy="430.70" r="1.50" fill="#e0559a" stroke="#8a2a5a" stroke-width="0.35"/>
<circle cx="563.80" cy="433.90" r="1.50" fill="#e0559a" stroke="#8a2a5a" stroke-width="0.35"/>
<circle cx="561.30" cy="445.60" r="1.50" fill="#e0559a" stroke="#8a2a5a" stroke-width="0.35"/>
<circle cx="562.80" cy="453.60" r="1.50" fill="#e0559a" stroke="#8a2a5a" stroke-width="0.35"/>
<text x="523.80" y="478.68" font-size="6.6" text-anchor="middle" fill="#333" textLength="9.08" lengthAdjust="spacingAndGlyphs">LR</text>
<text x="523.80" y="488.88" font-size="6.6" text-anchor="middle" fill="#333" textLength="18.16" lengthAdjust="spacingAndGlyphs">group</text>
<text x="556.50" y="478.68" font-size="6.6" text-anchor="middle" fill="#333" textLength="9.47" lengthAdjust="spacingAndGlyphs">EP</text>
<text x="556.50" y="488.88" font-size="6.6" text-anchor="middle" fill="#333" textLength="18.16" lengthAdjust="spacingAndGlyphs">group</text>
<text x="509.90" y="367.10" font-size="5.0" fill="#333" textLength="27.10" lengthAdjust="spacingAndGlyphs"><tspan font-style="italic">P</tspan> = 0.0469</text>
<line x1="515.00" y1="368.00" x2="530.00" y2="368.00" stroke="#444" stroke-width="0.45"/>
<text x="473.90" y="416.70" font-size="7.0" text-anchor="middle" fill="#222" textLength="70.40" lengthAdjust="spacingAndGlyphs" transform="rotate(-90 473.90 416.70)">Perforin<tspan dy="-2.66" font-size="4.34">+</tspan><tspan dy="2.66"> Granzyme</tspan></text>
<text x="483.70" y="416.50" font-size="7.0" text-anchor="middle" fill="#222" textLength="68.30" lengthAdjust="spacingAndGlyphs" transform="rotate(-90 483.70 416.50)">B<tspan dy="-2.66" font-size="4.34">+</tspan><tspan dy="2.66"> cells/CD8</tspan><tspan dy="-2.66" font-size="4.34">+</tspan><tspan dy="2.66"> T (%)</tspan></text>
<line x1="617.40" y1="367.10" x2="617.40" y2="467.30" stroke="#555" stroke-width="0.6"/>
<line x1="617.40" y1="467.30" x2="676.20" y2="467.30" stroke="#555" stroke-width="0.6"/>
<line x1="615.20" y1="467.30" x2="617.40" y2="467.30" stroke="#555" stroke-width="0.6"/>
<text x="610.50" y="469.75" font-size="6.8" text-anchor="end" fill="#333" textLength="4.23" lengthAdjust="spacingAndGlyphs">0</text>
<line x1="615.20" y1="447.24" x2="617.40" y2="447.24" stroke="#555" stroke-width="0.6"/>
<text x="610.50" y="449.69" font-size="6.8" text-anchor="end" fill="#333" textLength="8.45" lengthAdjust="spacingAndGlyphs">20</text>
<line x1="615.20" y1="427.18" x2="617.40" y2="427.18" stroke="#555" stroke-width="0.6"/>
<text x="610.50" y="429.63" font-size="6.8" text-anchor="end" fill="#333" textLength="8.45" lengthAdjust="spacingAndGlyphs">40</text>
<line x1="615.20" y1="407.12" x2="617.40" y2="407.12" stroke="#555" stroke-width="0.6"/>
<text x="610.50" y="409.57" font-size="6.8" text-anchor="end" fill="#333" textLength="8.45" lengthAdjust="spacingAndGlyphs">60</text>
<line x1="615.20" y1="387.06" x2="617.40" y2="387.06" stroke="#555" stroke-width="0.6"/>
<text x="610.50" y="389.51" font-size="6.8" text-anchor="end" fill="#333" textLength="8.45" lengthAdjust="spacingAndGlyphs">80</text>
<line x1="615.20" y1="367.00" x2="617.40" y2="367.00" stroke="#555" stroke-width="0.6"/>
<text x="610.50" y="369.45" font-size="6.8" text-anchor="end" fill="#333" textLength="12.68" lengthAdjust="spacingAndGlyphs">100</text>
<rect x="621.50" y="433.90" width="8.50" height="33.40" fill="#fff" stroke="#444" stroke-width="0.55"/>
<line x1="625.75" y1="424.50" x2="625.75" y2="443.70" stroke="#444" stroke-width="0.55"/>
<line x1="623.95" y1="424.50" x2="627.55" y2="424.50" stroke="#444" stroke-width="0.55"/>
<line x1="623.95" y1="443.70" x2="627.55" y2="443.70" stroke="#444" stroke-width="0.55"/>
<circle cx="624.75" cy="419.40" r="1.50" fill="#2f5f8f" stroke="#1a3050" stroke-width="0.35"/>
<circle cx="627.25" cy="424.50" r="1.50" fill="#2f5f8f" stroke="#1a3050" stroke-width="0.35"/>
<circle cx="625.75" cy="428.90" r="1.50" fill="#2f5f8f" stroke="#1a3050" stroke-width="0.35"/>
<circle cx="624.25" cy="437.30" r="1.50" fill="#2f5f8f" stroke="#1a3050" stroke-width="0.35"/>
<circle cx="627.25" cy="441.30" r="1.50" fill="#2f5f8f" stroke="#1a3050" stroke-width="0.35"/>
<circle cx="625.75" cy="450.80" r="1.50" fill="#2f5f8f" stroke="#1a3050" stroke-width="0.35"/>
<rect x="633.00" y="408.60" width="8.80" height="58.70" fill="#fff" stroke="#444" stroke-width="0.55"/>
<line x1="637.40" y1="390.00" x2="637.40" y2="427.80" stroke="#444" stroke-width="0.55"/>
<line x1="635.60" y1="390.00" x2="639.20" y2="390.00" stroke="#444" stroke-width="0.55"/>
<line x1="635.60" y1="427.80" x2="639.20" y2="427.80" stroke="#444" stroke-width="0.55"/>
<circle cx="635.90" cy="385.00" r="1.50" fill="#e0559a" stroke="#8a2a5a" stroke-width="0.35"/>
<circle cx="640.40" cy="386.30" r="1.50" fill="#e0559a" stroke="#8a2a5a" stroke-width="0.35"/>
<circle cx="637.40" cy="408.60" r="1.50" fill="#e0559a" stroke="#8a2a5a" stroke-width="0.35"/>
<circle cx="635.90" cy="412.00" r="1.50" fill="#e0559a" stroke="#8a2a5a" stroke-width="0.35"/>
<circle cx="638.90" cy="416.00" r="1.50" fill="#e0559a" stroke="#8a2a5a" stroke-width="0.35"/>
<circle cx="637.40" cy="422.10" r="1.50" fill="#e0559a" stroke="#8a2a5a" stroke-width="0.35"/>
<circle cx="637.40" cy="439.70" r="1.50" fill="#e0559a" stroke="#8a2a5a" stroke-width="0.35"/>
<rect x="653.60" y="441.30" width="8.40" height="26.00" fill="#fff" stroke="#444" stroke-width="0.55"/>
<line x1="657.80" y1="427.20" x2="657.80" y2="456.50" stroke="#444" stroke-width="0.55"/>
<line x1="656.00" y1="427.20" x2="659.60" y2="427.20" stroke="#444" stroke-width="0.55"/>
<line x1="656.00" y1="456.50" x2="659.60" y2="456.50" stroke="#444" stroke-width="0.55"/>
<circle cx="655.80" cy="423.50" r="1.50" fill="#2f5f8f" stroke="#1a3050" stroke-width="0.35"/>
<circle cx="659.80" cy="422.10" r="1.50" fill="#2f5f8f" stroke="#1a3050" stroke-width="0.35"/>
<circle cx="657.80" cy="434.60" r="1.50" fill="#2f5f8f" stroke="#1a3050" stroke-width="0.35"/>
<circle cx="656.80" cy="446.40" r="1.50" fill="#2f5f8f" stroke="#1a3050" stroke-width="0.35"/>
<circle cx="659.30" cy="452.50" r="1.50" fill="#2f5f8f" stroke="#1a3050" stroke-width="0.35"/>
<circle cx="656.30" cy="455.90" r="1.50" fill="#2f5f8f" stroke="#1a3050" stroke-width="0.35"/>
<rect x="665.40" y="444.00" width="9.10" height="23.30" fill="#fff" stroke="#444" stroke-width="0.55"/>
<line x1="669.95" y1="432.90" x2="669.95" y2="454.90" stroke="#444" stroke-width="0.55"/>
<line x1="668.15" y1="432.90" x2="671.75" y2="432.90" stroke="#444" stroke-width="0.55"/>
<line x1="668.15" y1="454.90" x2="671.75" y2="454.90" stroke="#444" stroke-width="0.55"/>
<circle cx="669.95" cy="420.10" r="1.50" fill="#e0559a" stroke="#8a2a5a" stroke-width="0.35"/>
<circle cx="668.95" cy="435.30" r="1.50" fill="#e0559a" stroke="#8a2a5a" stroke-width="0.35"/>
<circle cx="671.45" cy="444.70" r="1.50" fill="#e0559a" stroke="#8a2a5a" stroke-width="0.35"/>
<circle cx="668.45" cy="446.40" r="1.50" fill="#e0559a" stroke="#8a2a5a" stroke-width="0.35"/>
<circle cx="670.95" cy="449.80" r="1.50" fill="#e0559a" stroke="#8a2a5a" stroke-width="0.35"/>
<circle cx="669.95" cy="454.20" r="1.50" fill="#e0559a" stroke="#8a2a5a" stroke-width="0.35"/>
<text x="633.80" y="477.48" font-size="6.6" text-anchor="middle" fill="#333" textLength="9.08" lengthAdjust="spacingAndGlyphs">LR</text>
<text x="633.80" y="488.58" font-size="6.6" text-anchor="middle" fill="#333" textLength="18.16" lengthAdjust="spacingAndGlyphs">group</text>
<text x="662.90" y="477.48" font-size="6.6" text-anchor="middle" fill="#333" textLength="9.47" lengthAdjust="spacingAndGlyphs">EP</text>
<text x="662.90" y="488.58" font-size="6.6" text-anchor="middle" fill="#333" textLength="18.16" lengthAdjust="spacingAndGlyphs">group</text>
<text x="621.20" y="370.60" font-size="5.0" fill="#333" textLength="25.60" lengthAdjust="spacingAndGlyphs"><tspan font-style="italic">P</tspan> = 0.0313</text>
<line x1="626.00" y1="371.00" x2="640.00" y2="371.00" stroke="#444" stroke-width="0.45"/>
<text x="644.10" y="361.10" font-size="5.0" fill="#333" textLength="26.40" lengthAdjust="spacingAndGlyphs"><tspan font-style="italic">P</tspan> = 0.0012</text>
<line x1="640.80" y1="362.00" x2="673.90" y2="362.00" stroke="#444" stroke-width="0.45"/>
<text x="584.60" y="417.40" font-size="7.0" text-anchor="middle" fill="#222" textLength="70.80" lengthAdjust="spacingAndGlyphs" transform="rotate(-90 584.60 417.40)">Perforin<tspan dy="-2.66" font-size="4.34">+</tspan><tspan dy="2.66"> Granzyme</tspan></text>
<text x="593.80" y="418.60" font-size="7.0" text-anchor="middle" fill="#222" textLength="91.60" lengthAdjust="spacingAndGlyphs" transform="rotate(-90 593.80 418.60)">B<tspan dy="-2.66" font-size="4.34">+</tspan><tspan dy="2.66"> cells /PD-1</tspan><tspan dy="-2.66" font-size="4.34">+</tspan><tspan dy="2.66"> CD8</tspan><tspan dy="-2.66" font-size="4.34">+</tspan><tspan dy="2.66"> T (%)</tspan></text>
</svg></body></html>
